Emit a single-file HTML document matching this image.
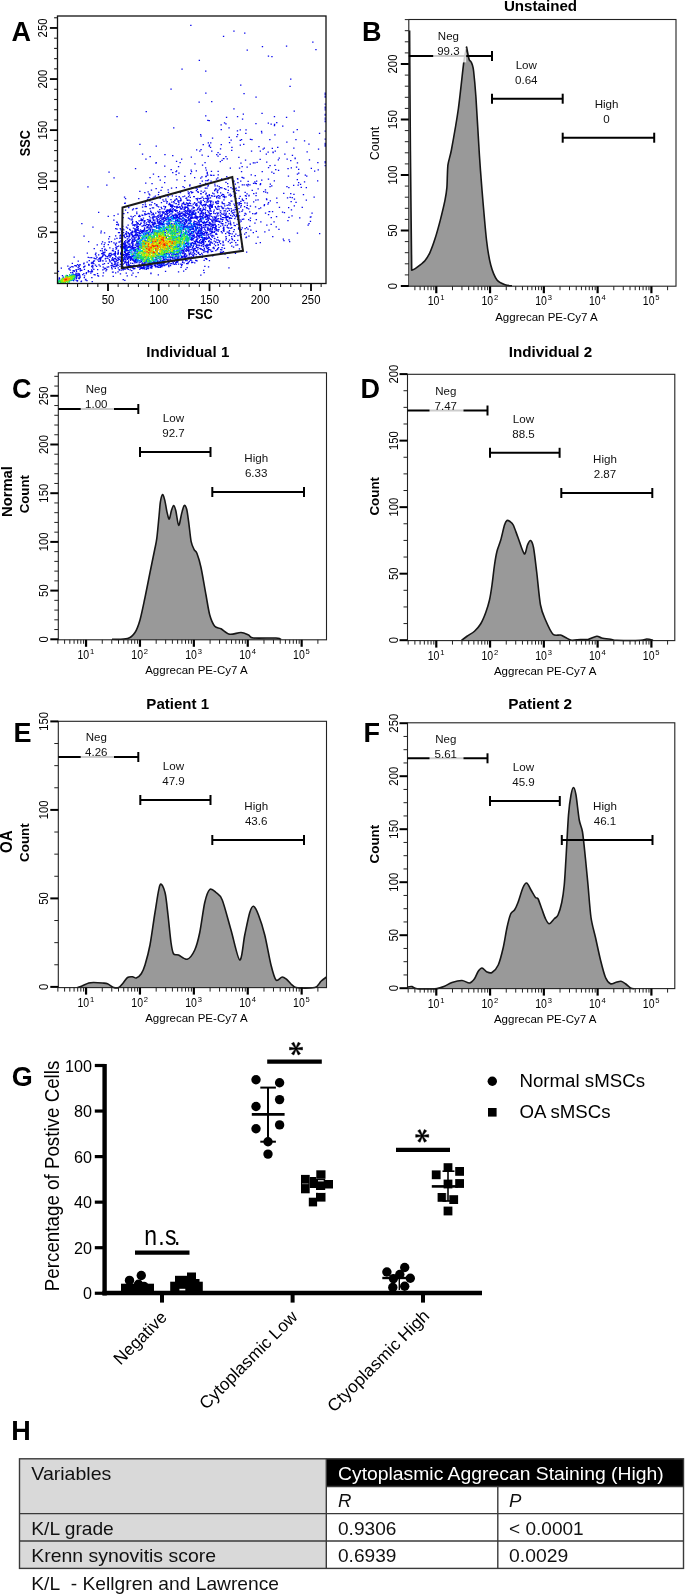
<!DOCTYPE html>
<html><head><meta charset="utf-8"><style>html,body{margin:0;padding:0;background:#fff;}svg{display:block;will-change:transform;}text{font-family:"Liberation Sans",sans-serif;}</style></head><body>
<svg width="685" height="1594" viewBox="0 0 685 1594" font-family="Liberation Sans, sans-serif">
<rect width="685" height="1594" fill="#fff"/>
<path d="M135.2 260.7h.1M127.3 258.5h.1M141.8 254.9h.1M196.0 244.2h.1M169.7 257.3h.1M142.8 240.1h.1M140.3 268.1h.1M172.2 252.3h.1M127.6 247.7h.1M143.2 267.7h.1M153.2 259.0h.1M134.0 248.1h.1M126.7 236.7h.1M183.5 228.5h.1M171.5 228.1h.1M167.0 259.5h.1M125.3 253.1h.1M165.3 259.8h.1M165.3 261.6h.1M129.6 250.4h.1M116.5 260.2h.1M170.4 260.0h.1M122.8 228.9h.1M202.3 249.5h.1M128.8 247.4h.1M137.8 255.2h.1M169.9 256.5h.1M167.4 245.2h.1M193.5 236.3h.1M163.5 221.9h.1M136.1 233.1h.1M119.1 269.6h.1M173.7 250.6h.1M179.9 249.8h.1M131.7 255.4h.1M180.1 219.0h.1M151.4 266.3h.1M148.0 261.5h.1M121.3 248.1h.1M156.6 259.7h.1M175.0 258.8h.1M188.7 248.1h.1M135.3 235.3h.1M132.1 235.6h.1M136.4 246.0h.1M138.2 258.3h.1M135.7 230.9h.1M131.7 270.5h.1M154.1 262.1h.1M195.2 243.0h.1M149.5 242.6h.1M126.6 253.7h.1M182.1 223.7h.1M171.9 261.1h.1M136.7 212.0h.1M179.8 236.1h.1M195.1 248.4h.1M128.1 265.3h.1M143.4 218.0h.1M102.3 250.8h.1M210.0 231.7h.1M153.4 226.2h.1M136.0 244.1h.1M206.2 219.4h.1M135.4 249.6h.1M119.9 238.3h.1M133.7 268.8h.1M124.0 259.6h.1M149.4 264.8h.1M125.7 246.4h.1M130.5 249.2h.1M159.7 264.0h.1M162.3 262.3h.1M157.7 261.4h.1M163.9 264.7h.1M135.1 229.5h.1M178.6 219.2h.1M165.1 261.7h.1M171.9 245.8h.1M132.2 240.0h.1M149.4 254.3h.1M123.7 255.4h.1M192.6 236.0h.1M168.6 215.8h.1M137.6 234.9h.1M148.3 268.5h.1M134.3 239.2h.1M154.7 262.0h.1M139.3 262.0h.1M176.5 227.6h.1M155.6 260.0h.1M149.0 246.7h.1M138.0 257.2h.1M180.8 232.7h.1M128.9 244.3h.1M146.3 269.3h.1M170.6 230.0h.1M153.3 249.1h.1M146.1 247.2h.1M142.0 239.9h.1M158.6 262.8h.1M132.1 243.2h.1M151.7 268.0h.1M172.5 240.5h.1M179.0 256.0h.1M182.8 249.7h.1M163.6 257.3h.1M146.4 231.2h.1M155.1 261.2h.1M192.4 226.7h.1M130.0 265.7h.1M157.6 266.7h.1M205.3 227.0h.1M115.3 268.3h.1M140.6 251.7h.1M123.0 269.9h.1M154.7 230.8h.1M123.5 243.6h.1M144.6 268.0h.1M173.8 240.3h.1M175.4 222.4h.1M156.1 233.8h.1M149.4 255.5h.1M142.0 226.0h.1M193.9 249.2h.1M150.5 221.2h.1M197.1 222.4h.1M157.7 262.5h.1M130.2 239.5h.1M175.0 254.5h.1M144.5 264.5h.1M144.5 265.6h.1M148.2 265.1h.1M125.3 261.7h.1M173.6 225.9h.1M125.8 260.0h.1M125.8 253.3h.1M146.4 222.9h.1M117.8 260.4h.1M172.4 249.2h.1M119.9 266.3h.1M123.9 243.1h.1M138.1 252.9h.1M129.1 240.5h.1M171.8 226.0h.1M155.4 254.7h.1M156.3 225.9h.1M175.8 245.6h.1M141.3 248.3h.1M172.8 253.4h.1M128.8 266.0h.1M162.9 230.0h.1M173.2 260.4h.1M182.7 260.8h.1M183.3 251.4h.1M176.1 264.4h.1M112.5 272.0h.1M138.6 267.1h.1M188.1 248.9h.1M136.4 258.0h.1M172.2 242.9h.1M168.8 259.8h.1M109.3 242.1h.1M156.1 263.5h.1M184.3 246.8h.1M183.6 271.0h.1M158.4 222.0h.1M138.2 247.9h.1M138.3 223.6h.1M119.4 259.3h.1M123.6 254.9h.1M167.4 264.2h.1M170.4 230.6h.1M183.6 235.6h.1M141.0 235.7h.1M118.2 267.9h.1M182.2 250.3h.1M152.8 232.5h.1M133.0 266.3h.1M197.6 238.9h.1M157.5 232.8h.1M104.0 246.6h.1M139.2 249.0h.1M110.1 261.9h.1M153.2 261.0h.1M134.9 266.5h.1M201.6 245.6h.1M191.6 260.8h.1M171.2 252.1h.1M136.9 242.7h.1M145.5 262.1h.1M155.6 250.1h.1M180.4 229.3h.1M156.4 253.2h.1M126.9 248.4h.1M136.0 240.3h.1M147.1 265.4h.1M128.7 246.3h.1M129.0 250.9h.1M166.4 229.5h.1M185.4 213.0h.1M151.4 265.1h.1M189.2 258.4h.1M163.9 259.0h.1M114.5 264.6h.1M203.6 270.4h.1M110.0 253.4h.1M163.8 265.6h.1M210.7 233.6h.1M142.8 253.8h.1M181.6 236.2h.1M129.8 257.2h.1M121.7 241.3h.1M171.4 263.7h.1M127.2 275.8h.1M137.8 239.1h.1M141.1 218.9h.1M146.3 234.1h.1M116.0 249.1h.1M153.5 252.6h.1M171.8 254.6h.1M176.9 246.0h.1M179.5 242.2h.1M176.8 224.4h.1M216.8 230.6h.1M134.7 225.9h.1M125.1 242.4h.1M143.6 268.1h.1M138.6 246.6h.1M167.9 263.6h.1M150.0 231.5h.1M174.7 231.4h.1M179.6 241.0h.1M170.5 265.7h.1M134.3 265.3h.1M126.3 263.9h.1M118.1 254.1h.1M134.8 238.5h.1M125.0 262.2h.1M187.7 228.9h.1M170.0 247.6h.1M111.6 267.5h.1M160.7 242.8h.1M167.1 259.3h.1M149.1 263.3h.1M177.6 253.7h.1M111.4 241.7h.1M183.5 243.2h.1M123.6 235.7h.1M124.6 241.6h.1M169.5 236.8h.1M199.9 243.2h.1M166.3 219.5h.1M158.2 225.5h.1M154.0 235.9h.1M128.2 263.2h.1M207.1 232.4h.1M136.4 260.0h.1M191.2 233.3h.1M132.9 243.3h.1M180.8 264.0h.1M177.8 261.5h.1M147.4 268.4h.1M157.7 266.3h.1M131.9 248.4h.1M138.1 239.2h.1M193.5 243.4h.1M163.5 227.0h.1M163.8 227.0h.1M162.3 265.4h.1M118.0 271.8h.1M139.2 233.5h.1M171.1 257.3h.1M136.7 253.5h.1M183.7 251.3h.1M121.0 244.6h.1M125.2 243.7h.1M183.0 224.7h.1M182.8 257.6h.1M166.1 236.8h.1M132.7 259.3h.1M149.0 262.5h.1M177.3 244.3h.1M143.6 266.0h.1M181.2 227.7h.1M152.3 263.4h.1M194.4 241.4h.1M139.9 236.0h.1M136.1 259.5h.1M137.0 226.7h.1M126.9 248.4h.1M128.2 269.3h.1M210.0 214.0h.1M144.8 257.6h.1M119.8 257.0h.1M177.7 254.2h.1M129.2 251.2h.1M154.2 262.5h.1M136.8 262.6h.1M150.8 267.7h.1M129.7 235.8h.1M138.1 267.2h.1M124.5 258.8h.1M183.9 246.6h.1M123.4 259.1h.1M169.7 248.3h.1M144.9 220.8h.1M137.6 242.3h.1M184.6 255.3h.1M164.5 265.5h.1M128.4 262.0h.1M160.2 257.4h.1M163.2 263.4h.1M164.3 251.3h.1M126.9 250.3h.1M152.8 263.4h.1M150.6 265.4h.1M152.7 262.6h.1M132.1 247.1h.1M192.6 239.3h.1M126.8 245.0h.1M191.3 243.0h.1M183.9 251.3h.1M164.0 224.5h.1M134.0 268.5h.1M126.9 262.3h.1M137.6 251.7h.1M143.1 242.2h.1M153.2 230.9h.1M199.0 245.2h.1M129.3 252.5h.1M160.6 247.9h.1M140.9 266.7h.1M186.7 256.9h.1M166.6 211.1h.1M178.3 246.3h.1M186.5 243.4h.1M129.1 257.3h.1M123.2 257.5h.1M158.7 258.3h.1M124.5 256.7h.1M157.4 255.9h.1M142.3 265.2h.1M192.3 248.1h.1M150.5 263.9h.1M133.8 256.3h.1M127.4 268.2h.1M130.0 245.4h.1M117.9 262.5h.1M134.9 259.7h.1M139.8 269.3h.1M190.5 233.3h.1M178.5 264.1h.1M183.3 224.5h.1M176.8 256.1h.1M129.5 234.7h.1M132.8 231.9h.1M203.7 231.5h.1M151.6 267.7h.1M170.9 260.6h.1M123.8 246.7h.1M159.8 228.3h.1M165.9 256.7h.1M167.9 263.4h.1M186.0 256.3h.1M132.2 256.8h.1M172.4 215.9h.1M168.0 260.6h.1M124.4 246.3h.1M163.5 260.7h.1M194.2 235.6h.1M161.4 262.1h.1M144.1 236.2h.1M132.9 256.3h.1M152.5 262.9h.1M103.4 252.4h.1M189.8 235.7h.1M148.6 225.5h.1M186.4 219.8h.1M134.9 253.8h.1M166.5 245.7h.1M134.7 268.5h.1M120.9 247.1h.1M127.0 242.7h.1M208.9 237.3h.1M150.1 267.8h.1M199.8 248.3h.1M148.1 236.6h.1M102.1 248.7h.1M192.8 262.4h.1M134.4 231.1h.1M139.3 231.0h.1M148.4 236.9h.1M157.9 235.8h.1M125.2 244.7h.1M183.6 226.2h.1M100.7 258.9h.1M140.2 257.1h.1M161.2 265.0h.1M114.1 258.7h.1M210.1 229.7h.1M145.9 238.1h.1M167.4 224.2h.1M159.5 235.2h.1M181.1 255.7h.1M124.4 263.0h.1M189.7 249.9h.1M150.0 234.8h.1M150.3 234.5h.1M137.1 257.4h.1M185.8 269.3h.1M167.2 229.2h.1M178.9 253.0h.1M131.4 258.7h.1M182.6 257.2h.1M121.7 253.8h.1M142.5 263.6h.1M181.7 233.0h.1M182.0 227.7h.1M193.5 232.8h.1M163.8 264.1h.1M144.3 238.7h.1M146.5 230.8h.1M137.7 244.9h.1M132.5 263.3h.1M196.4 229.9h.1M109.8 260.8h.1M158.3 267.3h.1M141.9 246.8h.1M131.1 258.7h.1M109.3 259.7h.1M137.9 249.4h.1M131.8 275.1h.1M142.0 232.4h.1M129.6 266.2h.1M184.5 254.3h.1M158.7 265.1h.1M134.3 261.5h.1M141.7 258.9h.1M130.9 257.5h.1M142.2 262.8h.1M156.9 261.3h.1M208.4 249.6h.1M177.0 232.6h.1M136.4 262.1h.1M128.0 253.4h.1M141.0 240.2h.1M115.9 247.3h.1M168.3 240.3h.1M151.1 256.1h.1M94.0 258.2h.1M154.9 222.1h.1M133.3 266.9h.1M197.7 231.9h.1M184.8 254.1h.1M188.0 249.8h.1M173.3 215.3h.1M157.8 219.7h.1M115.0 266.7h.1M132.7 263.3h.1M168.9 259.0h.1M168.2 235.5h.1M176.3 256.2h.1M162.0 224.8h.1M145.0 267.2h.1M184.5 222.7h.1M131.6 242.8h.1M158.4 263.7h.1M139.1 237.7h.1M177.3 247.5h.1M123.9 248.0h.1M161.2 222.8h.1M181.5 251.8h.1M151.4 256.9h.1M115.3 244.1h.1M107.5 256.5h.1M131.9 252.2h.1M171.6 231.0h.1M166.1 240.3h.1M205.6 232.3h.1M137.6 266.6h.1M121.1 240.5h.1M159.5 233.4h.1M131.6 246.5h.1M172.1 261.6h.1M207.9 251.7h.1M144.3 257.0h.1M164.3 262.6h.1M165.4 235.6h.1M127.8 258.0h.1M188.1 230.8h.1M122.1 250.8h.1M182.5 207.7h.1M142.6 268.6h.1M190.9 259.2h.1M130.2 256.5h.1M151.8 266.5h.1M123.5 255.0h.1M125.8 255.5h.1M155.6 250.5h.1M119.5 232.5h.1M177.7 237.6h.1M170.2 248.5h.1M200.2 225.6h.1M111.8 260.3h.1M162.5 256.2h.1M201.5 221.7h.1M135.7 259.4h.1M145.5 234.1h.1M105.9 270.9h.1M197.3 241.6h.1M188.2 243.5h.1M175.5 263.0h.1M131.8 243.2h.1M120.8 260.1h.1M190.2 230.5h.1M203.6 241.8h.1M132.8 265.8h.1M118.2 258.5h.1M127.1 236.4h.1M148.9 228.1h.1M108.2 263.3h.1M210.3 245.0h.1M147.8 240.3h.1M203.7 252.1h.1M208.3 220.3h.1M152.9 230.9h.1M146.8 227.8h.1M116.9 238.3h.1M134.9 262.9h.1M100.2 266.2h.1M139.6 266.8h.1M104.1 254.6h.1M136.7 241.4h.1M86.4 272.5h.1M145.7 265.1h.1M160.9 256.4h.1M155.3 257.6h.1M186.0 217.2h.1M133.2 255.4h.1M133.8 235.8h.1M124.5 256.7h.1M161.9 244.2h.1M122.1 265.6h.1M138.5 252.0h.1M188.1 246.1h.1M132.4 222.6h.1M185.3 229.4h.1M170.1 263.8h.1M184.8 256.0h.1M199.9 225.5h.1M138.1 272.5h.1M155.4 233.4h.1M193.6 256.8h.1M160.2 252.2h.1M131.1 265.6h.1M98.8 261.3h.1M176.0 256.8h.1M104.2 244.7h.1M129.3 254.7h.1M138.7 252.5h.1M191.1 244.3h.1M130.1 252.7h.1M221.7 249.8h.1M120.7 246.3h.1M164.3 245.2h.1M149.9 237.1h.1M144.0 263.2h.1M164.9 256.1h.1M140.6 242.0h.1M138.9 265.3h.1M151.5 226.5h.1M154.8 232.3h.1M128.9 247.0h.1M132.1 234.7h.1M123.3 264.1h.1M159.5 265.4h.1M109.8 247.9h.1M124.8 257.5h.1M147.2 240.9h.1M186.1 245.9h.1M178.9 220.8h.1M178.9 218.8h.1M171.0 248.0h.1M164.6 230.3h.1M146.9 266.6h.1M138.3 244.8h.1M191.7 262.7h.1M149.1 235.3h.1M133.7 250.6h.1M132.6 232.6h.1M144.2 264.1h.1M137.7 267.1h.1M179.3 232.6h.1M105.0 249.2h.1M112.0 266.1h.1M192.5 242.7h.1M163.5 254.6h.1M189.9 243.3h.1M185.8 230.4h.1M186.6 246.3h.1M146.2 238.0h.1M170.5 251.9h.1M132.9 239.1h.1M145.8 233.2h.1M181.4 237.3h.1M156.6 228.0h.1M112.9 265.2h.1M174.1 254.0h.1M160.5 222.9h.1M123.9 247.4h.1M124.0 235.9h.1M132.2 241.4h.1M191.3 245.5h.1M128.3 233.4h.1M144.9 261.7h.1M167.1 215.0h.1M145.7 256.5h.1M190.1 247.1h.1M164.6 259.9h.1M148.0 259.1h.1M159.3 262.1h.1M201.1 237.3h.1M134.3 249.6h.1M164.9 253.1h.1M131.4 234.4h.1M178.5 217.6h.1M167.8 257.4h.1M113.6 266.7h.1M201.6 226.1h.1M214.2 241.1h.1M137.6 227.4h.1M172.5 250.2h.1M136.0 234.2h.1M137.3 246.4h.1M118.6 246.1h.1M176.7 262.4h.1M192.6 242.8h.1M163.7 259.0h.1M159.7 267.1h.1M188.1 262.7h.1M118.3 253.1h.1M128.8 256.1h.1M209.8 229.1h.1M157.7 242.0h.1M152.5 263.9h.1M162.3 256.1h.1M212.1 225.4h.1M117.8 260.5h.1M133.9 266.4h.1M137.0 235.2h.1M143.4 249.1h.1M129.6 252.5h.1M132.5 247.5h.1M128.6 260.9h.1M138.0 249.9h.1M186.4 221.0h.1M200.1 256.7h.1M163.6 260.4h.1M172.5 257.6h.1M134.8 255.8h.1M162.7 255.1h.1M177.5 258.3h.1M121.2 270.2h.1M128.2 240.7h.1M178.7 237.5h.1M130.2 258.0h.1M204.3 248.3h.1M175.3 259.7h.1M134.7 252.0h.1M130.1 257.9h.1M198.1 247.3h.1M160.6 220.6h.1M160.4 261.0h.1M182.2 252.9h.1M145.1 231.0h.1M147.8 227.0h.1M157.3 261.8h.1M169.0 256.9h.1M172.5 233.7h.1M115.2 254.6h.1M143.5 266.6h.1M128.6 256.9h.1M169.4 254.3h.1M188.6 223.4h.1M150.5 230.4h.1M174.6 247.2h.1M173.0 258.7h.1M148.2 267.2h.1M149.6 243.8h.1M187.1 241.6h.1M142.6 268.1h.1M173.3 248.5h.1M168.7 265.4h.1M185.2 243.6h.1M102.9 264.4h.1M162.8 262.2h.1M198.7 232.1h.1M135.3 261.5h.1M113.9 242.8h.1M135.6 249.9h.1M137.4 241.8h.1M126.8 245.7h.1M155.0 226.7h.1M141.2 230.9h.1M144.3 268.3h.1M159.8 226.7h.1M206.4 233.6h.1M138.7 255.3h.1M174.5 252.1h.1M200.4 248.6h.1M157.5 254.0h.1M157.0 266.7h.1M165.6 255.0h.1M195.8 227.5h.1M133.4 228.0h.1M137.5 235.0h.1M134.2 249.8h.1M135.8 235.5h.1M172.2 234.4h.1M157.4 264.6h.1M122.5 245.8h.1M133.8 265.4h.1M143.2 251.5h.1M158.3 231.0h.1M179.2 242.1h.1M197.9 249.2h.1M142.0 263.8h.1M141.5 268.3h.1M129.4 239.8h.1M128.0 252.7h.1M124.9 254.6h.1M164.2 259.7h.1M136.9 243.3h.1M174.8 236.7h.1M140.5 265.5h.1M99.9 258.9h.1M116.4 265.8h.1M129.9 246.7h.1M133.4 255.7h.1M158.4 239.2h.1M144.9 214.8h.1M235.9 198.7h.1M183.7 235.5h.1M221.3 231.5h.1M192.9 252.9h.1M186.5 249.6h.1M206.3 216.7h.1M237.0 224.4h.1M188.4 228.4h.1M188.3 232.3h.1M215.9 225.9h.1M182.1 264.4h.1M214.9 222.1h.1M128.6 241.0h.1M121.6 231.6h.1M203.8 198.6h.1M151.4 232.5h.1M169.0 230.7h.1M146.5 260.4h.1M207.9 218.7h.1M177.4 216.6h.1M186.6 263.5h.1M220.9 252.0h.1M186.5 236.4h.1M149.6 204.9h.1M194.5 224.4h.1M204.3 233.7h.1M211.0 206.3h.1M201.2 227.2h.1M142.9 220.7h.1M207.5 197.0h.1M160.2 263.9h.1M196.3 239.5h.1M115.7 228.5h.1M150.8 234.1h.1M180.5 198.1h.1M129.2 236.3h.1M170.0 210.4h.1M203.5 218.1h.1M122.1 239.6h.1M122.0 248.4h.1M154.1 216.2h.1M154.5 235.3h.1M201.0 248.8h.1M191.8 209.0h.1M210.9 241.8h.1M191.4 217.6h.1M152.4 207.9h.1M234.4 240.6h.1M159.9 211.7h.1M135.2 257.1h.1M209.2 194.5h.1M179.9 213.1h.1M191.8 238.0h.1M197.3 189.0h.1M135.0 240.1h.1M175.6 228.3h.1M217.5 213.8h.1M180.4 258.8h.1M180.1 241.4h.1M216.8 221.3h.1M183.6 202.3h.1M211.8 206.5h.1M168.7 221.3h.1M229.4 230.6h.1M200.0 221.3h.1M219.0 221.4h.1M154.2 223.4h.1M184.0 209.3h.1M210.7 203.0h.1M206.5 214.6h.1M210.8 235.0h.1M182.9 203.4h.1M191.8 214.2h.1M163.3 226.6h.1M211.2 216.3h.1M173.0 252.5h.1M179.4 216.5h.1M188.5 208.9h.1M251.2 174.9h.1M146.2 265.2h.1M192.2 229.0h.1M191.1 233.0h.1M204.1 272.7h.1M130.7 267.6h.1M129.4 257.6h.1M212.4 243.2h.1M161.9 266.7h.1M197.8 235.3h.1M188.2 217.5h.1M206.1 204.0h.1M182.8 250.2h.1M208.7 224.3h.1M220.5 187.6h.1M168.9 204.7h.1M172.1 253.1h.1M250.8 230.0h.1M210.5 204.6h.1M192.1 238.0h.1M195.4 232.8h.1M134.5 268.5h.1M179.8 206.5h.1M139.6 266.9h.1M109.0 241.8h.1M208.3 185.1h.1M215.8 202.7h.1M222.8 245.1h.1M149.1 236.7h.1M204.4 209.4h.1M223.7 217.5h.1M197.3 199.6h.1M208.0 227.0h.1M171.1 220.1h.1M113.5 260.5h.1M149.0 193.9h.1M196.6 205.8h.1M172.8 258.6h.1M189.7 211.2h.1M220.9 216.4h.1M199.5 233.8h.1M183.1 217.9h.1M161.4 202.5h.1M111.6 263.1h.1M199.7 219.5h.1M205.6 210.1h.1M132.5 240.0h.1M190.0 229.3h.1M154.8 220.2h.1M191.6 233.6h.1M163.6 229.2h.1M200.7 224.6h.1M148.2 197.7h.1M199.8 219.6h.1M117.2 257.9h.1M175.5 259.9h.1M142.2 231.3h.1M166.3 238.1h.1M162.6 263.3h.1M175.9 218.3h.1M168.4 192.3h.1M208.3 224.7h.1M207.4 228.2h.1M200.6 249.2h.1M191.9 187.9h.1M178.3 214.7h.1M215.0 217.6h.1M193.2 228.6h.1M170.3 219.7h.1M238.8 208.6h.1M114.4 255.0h.1M222.5 194.4h.1M225.9 216.4h.1M148.1 221.6h.1M123.5 232.5h.1M169.6 203.5h.1M163.4 222.3h.1M193.5 250.9h.1M242.5 200.0h.1M196.9 223.6h.1M227.1 205.4h.1M203.2 250.4h.1M157.7 223.1h.1M190.5 218.6h.1M166.7 223.8h.1M127.2 241.9h.1M150.6 229.1h.1M158.3 217.4h.1M123.3 213.6h.1M209.4 218.8h.1M231.5 218.3h.1M217.5 192.7h.1M161.9 258.9h.1M162.0 225.1h.1M120.0 241.9h.1M199.3 245.2h.1M179.5 216.3h.1M170.9 213.9h.1M204.8 205.8h.1M226.3 238.5h.1M206.9 216.9h.1M206.2 245.1h.1M188.5 220.5h.1M206.8 215.4h.1M202.9 213.8h.1M266.5 198.9h.1M200.9 243.2h.1M248.0 229.1h.1M189.1 211.7h.1M207.5 216.3h.1M200.4 214.2h.1M149.0 220.4h.1M167.7 216.8h.1M155.4 196.2h.1M191.6 254.0h.1M181.2 259.5h.1M136.9 208.4h.1M234.2 229.5h.1M210.5 228.2h.1M153.3 249.1h.1M202.1 242.4h.1M198.7 231.0h.1M190.0 253.4h.1M175.5 222.4h.1M175.3 256.4h.1M147.4 230.4h.1M220.5 212.5h.1M216.7 239.9h.1M144.5 229.6h.1M149.2 220.1h.1M158.3 262.2h.1M153.3 213.5h.1M153.3 213.4h.1M198.9 225.2h.1M227.4 211.4h.1M257.9 237.0h.1M162.7 256.6h.1M141.3 261.4h.1M176.3 259.7h.1M197.5 227.5h.1M148.4 213.4h.1M178.0 235.0h.1M191.9 214.8h.1M133.3 260.1h.1M134.3 224.9h.1M196.4 190.6h.1M124.9 249.7h.1M124.6 250.7h.1M138.4 237.1h.1M200.8 216.9h.1M216.6 229.5h.1M205.8 198.3h.1M234.7 205.5h.1M203.7 244.0h.1M151.3 226.0h.1M190.4 226.6h.1M128.7 264.3h.1M126.0 262.1h.1M205.1 251.6h.1M214.1 248.6h.1M189.3 214.0h.1M212.2 229.7h.1M228.9 233.3h.1M117.6 254.0h.1M199.6 209.8h.1M136.8 261.9h.1M188.8 250.7h.1M215.0 189.8h.1M215.6 188.8h.1M142.4 238.6h.1M163.4 223.5h.1M183.1 220.7h.1M181.0 222.1h.1M184.2 256.0h.1M213.7 247.4h.1M180.1 207.7h.1M234.4 194.8h.1M173.5 217.3h.1M126.2 233.2h.1M121.4 257.8h.1M163.5 218.6h.1M200.8 233.9h.1M218.5 213.1h.1M118.5 232.6h.1M242.3 219.4h.1M148.9 264.1h.1M170.6 206.4h.1M193.2 229.5h.1M176.9 240.9h.1M235.1 192.9h.1M200.2 208.5h.1M149.4 228.2h.1M136.1 230.1h.1M93.8 269.4h.1M200.2 203.5h.1M205.6 183.4h.1M136.9 224.7h.1M142.1 239.5h.1M218.5 224.5h.1M196.6 217.4h.1M215.5 245.5h.1M206.2 232.3h.1M208.4 215.0h.1M213.0 218.9h.1M205.7 227.0h.1M179.4 224.7h.1M256.3 231.4h.1M169.3 223.4h.1M206.1 215.2h.1M215.7 227.9h.1M139.2 232.7h.1M123.2 247.6h.1M202.0 237.1h.1M146.6 261.8h.1M144.5 221.5h.1M160.7 265.5h.1M178.0 250.0h.1M223.0 241.3h.1M219.8 198.1h.1M198.6 242.7h.1M194.0 249.6h.1M138.3 236.0h.1M148.7 256.1h.1M215.6 241.8h.1M199.5 222.8h.1M210.0 205.9h.1M139.3 238.5h.1M241.8 246.9h.1M140.8 220.3h.1M184.5 219.0h.1M188.5 238.7h.1M139.7 216.5h.1M167.2 201.5h.1M208.7 201.0h.1M158.7 192.4h.1M136.3 251.8h.1M223.4 251.6h.1M122.1 251.8h.1M212.5 222.2h.1M111.1 265.6h.1M178.5 207.4h.1M177.1 250.7h.1M146.3 237.1h.1M205.6 207.9h.1M204.1 260.4h.1M189.7 214.9h.1M189.5 202.8h.1M230.3 223.7h.1M178.5 220.8h.1M164.2 218.1h.1M241.2 203.6h.1M188.4 246.8h.1M136.7 242.6h.1M125.1 257.7h.1M198.0 242.6h.1M204.9 217.3h.1M205.3 188.1h.1M210.4 211.2h.1M174.3 215.1h.1M207.8 205.5h.1M182.6 248.4h.1M195.7 215.1h.1M223.7 228.0h.1M127.1 268.7h.1M142.4 231.0h.1M255.5 206.9h.1M121.0 252.3h.1M209.5 207.4h.1M123.6 268.4h.1M166.4 253.6h.1M193.6 222.8h.1M154.1 197.0h.1M222.0 247.5h.1M207.9 186.2h.1M207.5 245.4h.1M216.8 219.9h.1M190.4 227.7h.1M208.7 247.7h.1M185.3 215.2h.1M194.0 231.4h.1M156.1 188.5h.1M203.8 204.7h.1M164.3 262.9h.1M211.7 207.4h.1M203.0 227.4h.1M165.1 257.1h.1M142.9 204.6h.1M176.0 214.4h.1M162.2 262.6h.1M217.5 214.2h.1M240.2 203.4h.1M153.8 217.0h.1M177.1 206.4h.1M174.4 215.0h.1M193.9 210.8h.1M147.3 257.6h.1M210.0 231.7h.1M174.9 225.9h.1M136.8 213.7h.1M125.5 249.3h.1M196.1 246.3h.1M147.8 234.9h.1M185.7 231.2h.1M187.2 247.5h.1M171.5 225.2h.1M114.8 239.2h.1M219.6 222.0h.1M218.0 215.8h.1M136.9 229.7h.1M234.0 204.2h.1M187.0 260.5h.1M182.1 206.7h.1M186.5 202.8h.1M174.4 247.1h.1M224.4 196.8h.1M166.4 264.7h.1M181.2 209.0h.1M195.9 216.1h.1M241.2 221.2h.1M162.6 260.7h.1M229.2 235.4h.1M198.5 252.4h.1M175.7 221.9h.1M132.9 258.9h.1M123.8 244.7h.1M120.2 228.5h.1M186.0 248.6h.1M142.5 226.0h.1M169.2 220.7h.1M168.6 230.0h.1M176.4 223.7h.1M222.9 219.6h.1M216.5 216.1h.1M194.3 214.0h.1M146.7 268.6h.1M197.1 216.7h.1M127.3 239.0h.1M186.5 220.3h.1M204.5 250.1h.1M204.1 227.0h.1M208.6 211.8h.1M220.8 218.3h.1M159.9 223.9h.1M160.4 216.3h.1M199.2 236.7h.1M192.7 257.7h.1M137.4 235.7h.1M210.6 250.1h.1M128.4 218.2h.1M223.3 228.5h.1M190.1 257.2h.1M207.2 195.6h.1M190.8 210.7h.1M203.1 222.5h.1M182.1 212.1h.1M205.9 219.2h.1M131.4 250.6h.1M192.1 228.1h.1M194.9 230.5h.1M183.3 213.8h.1M176.0 171.7h.1M171.9 207.4h.1M215.8 228.4h.1M146.5 265.6h.1M207.8 219.1h.1M199.3 227.3h.1M165.0 220.5h.1M126.4 227.2h.1M198.8 256.9h.1M198.2 202.1h.1M194.6 237.1h.1M178.0 201.2h.1M203.8 240.3h.1M91.6 269.8h.1M150.5 262.1h.1M236.6 216.1h.1M149.9 200.9h.1M183.5 244.8h.1M198.2 220.5h.1M133.0 259.1h.1M207.2 215.4h.1M122.1 233.5h.1M147.5 259.9h.1M126.4 231.5h.1M173.3 208.5h.1M198.0 217.0h.1M211.4 205.2h.1M180.9 258.8h.1M153.1 219.1h.1M176.6 256.5h.1M187.3 210.9h.1M216.4 221.0h.1M142.7 251.7h.1M186.8 211.8h.1M124.2 247.1h.1M225.8 240.2h.1M195.0 257.5h.1M171.4 216.7h.1M255.8 200.1h.1M160.0 229.4h.1M125.2 203.2h.1M214.4 238.3h.1M119.9 235.8h.1M193.9 248.6h.1M194.1 222.2h.1M216.3 226.2h.1M116.1 261.7h.1M228.8 232.2h.1M172.1 217.7h.1M122.9 266.3h.1M180.1 221.4h.1M172.7 210.9h.1M151.5 212.7h.1M164.1 212.6h.1M88.6 241.6h.1M174.0 253.8h.1M119.5 241.9h.1M108.2 216.3h.1M146.3 206.5h.1M202.0 218.3h.1M128.0 243.1h.1M185.4 227.1h.1M200.8 233.1h.1M209.5 195.7h.1M215.9 218.2h.1M123.2 279.5h.1M159.0 262.7h.1M193.1 246.7h.1M161.8 246.8h.1M184.2 207.0h.1M147.5 199.3h.1M151.4 190.2h.1M187.5 217.8h.1M127.6 236.4h.1M247.2 203.0h.1M176.6 220.9h.1M116.4 243.1h.1M226.0 208.9h.1M176.3 217.6h.1M189.2 261.6h.1M203.6 225.3h.1M236.5 207.2h.1M175.7 211.4h.1M223.4 158.7h.1M201.9 228.7h.1M133.0 241.9h.1M225.3 210.8h.1M210.6 219.3h.1M159.9 196.5h.1M193.7 254.8h.1M180.3 252.2h.1M115.7 245.1h.1M131.1 259.4h.1M205.1 213.7h.1M223.9 229.4h.1M199.7 224.5h.1M236.0 245.0h.1M177.3 220.3h.1M178.1 200.5h.1M132.6 236.9h.1M231.1 201.2h.1M231.4 211.6h.1M130.4 247.3h.1M93.7 263.7h.1M160.7 223.4h.1M213.8 175.3h.1M148.5 233.2h.1M205.1 224.1h.1M197.4 200.0h.1M197.3 189.4h.1M147.4 219.6h.1M133.8 237.2h.1M126.5 234.9h.1M154.3 265.6h.1M149.9 229.9h.1M228.9 202.7h.1M200.4 213.3h.1M171.3 217.1h.1M199.1 241.8h.1M224.4 248.4h.1M196.2 260.6h.1M207.3 221.1h.1M159.9 224.0h.1M194.7 214.4h.1M143.9 255.9h.1M190.2 260.4h.1M210.0 243.6h.1M125.7 250.5h.1M125.6 255.9h.1M235.6 216.8h.1M200.8 198.3h.1M132.6 221.5h.1M113.1 272.1h.1M239.8 222.0h.1M187.9 210.4h.1M202.4 222.7h.1M190.9 191.6h.1M200.4 218.6h.1M150.6 234.5h.1M147.3 224.7h.1M123.1 217.6h.1M158.4 194.5h.1M140.6 231.6h.1M121.0 229.9h.1M159.3 222.3h.1M223.1 214.3h.1M193.4 224.3h.1M132.5 235.4h.1M212.2 228.7h.1M157.7 216.0h.1M222.4 219.5h.1M195.6 218.0h.1M187.5 242.8h.1M205.4 214.0h.1M185.8 204.7h.1M154.7 264.0h.1M217.0 249.5h.1M170.2 224.9h.1M205.6 184.3h.1M183.7 250.4h.1M118.0 265.3h.1M107.8 258.3h.1M204.6 201.5h.1M201.4 243.5h.1M158.9 223.7h.1M186.8 213.6h.1M184.8 180.7h.1M221.9 207.1h.1M169.9 209.5h.1M191.9 257.4h.1M210.0 215.2h.1M204.2 250.0h.1M225.8 222.5h.1M198.1 225.2h.1M201.1 191.0h.1M223.5 194.5h.1M147.8 213.9h.1M159.1 224.6h.1M142.7 236.5h.1M183.4 203.6h.1M194.3 221.2h.1M92.0 262.3h.1M172.1 255.9h.1M157.7 234.3h.1M168.4 225.6h.1M175.8 218.7h.1M170.9 208.9h.1M168.9 210.0h.1M200.6 208.5h.1M163.1 236.2h.1M210.4 238.8h.1M153.8 237.6h.1M113.8 220.0h.1M146.8 232.8h.1M138.2 230.3h.1M150.2 227.2h.1M113.2 276.3h.1M171.5 188.2h.1M187.7 228.6h.1M185.7 210.5h.1M198.6 253.4h.1M164.1 220.7h.1M173.9 229.3h.1M202.2 237.9h.1M182.3 250.5h.1M195.0 242.2h.1M176.3 216.2h.1M167.9 213.4h.1M205.2 204.4h.1M225.9 236.7h.1M213.0 247.8h.1M185.1 216.0h.1M244.5 206.6h.1M157.4 220.5h.1M140.5 229.8h.1M92.9 227.1h.1M172.1 207.3h.1M144.7 220.5h.1M237.7 179.2h.1M189.4 195.1h.1M135.1 256.3h.1M201.4 241.7h.1M143.6 225.3h.1M143.9 225.5h.1M205.4 238.2h.1M211.7 232.9h.1M181.5 225.7h.1M191.5 245.5h.1M179.6 211.3h.1M160.9 216.8h.1M159.5 221.8h.1M243.6 219.2h.1M248.6 219.5h.1M221.1 223.1h.1M181.2 213.1h.1M147.3 261.9h.1M190.0 215.9h.1M201.8 230.4h.1M230.6 196.0h.1M227.2 232.0h.1M218.9 221.5h.1M144.7 223.8h.1M137.6 248.2h.1M212.7 231.4h.1M185.1 215.9h.1M199.1 237.9h.1M137.2 222.6h.1M206.7 222.5h.1M160.2 267.4h.1M180.3 218.9h.1M125.2 237.5h.1M237.9 235.5h.1M198.8 207.6h.1M148.7 224.7h.1M196.0 241.7h.1M162.0 263.7h.1M146.4 261.1h.1M173.3 253.8h.1M194.3 243.6h.1M188.8 205.7h.1M206.6 215.4h.1M240.1 196.3h.1M233.7 222.9h.1M191.3 240.1h.1M181.4 231.9h.1M163.9 201.4h.1M196.6 234.2h.1M125.5 210.1h.1M135.5 234.2h.1M131.5 233.9h.1M142.3 259.5h.1M208.8 238.1h.1M180.3 235.1h.1M183.2 253.1h.1M184.3 223.9h.1M169.2 224.8h.1M178.6 223.3h.1M234.7 212.0h.1M148.9 232.7h.1M212.7 232.4h.1M164.0 231.9h.1M168.0 217.4h.1M215.7 242.1h.1M200.7 193.5h.1M190.2 253.8h.1M183.7 227.1h.1M215.0 221.8h.1M227.6 183.5h.1M215.3 224.9h.1M165.8 199.2h.1M105.7 268.7h.1M175.1 199.8h.1M148.3 234.2h.1M260.6 207.9h.1M234.8 218.5h.1M128.5 241.6h.1M200.7 186.5h.1M145.2 242.3h.1M200.8 256.5h.1M196.2 198.6h.1M173.3 243.5h.1M175.2 214.2h.1M206.8 221.5h.1M206.4 232.5h.1M186.5 231.5h.1M148.0 249.8h.1M174.9 206.9h.1M177.5 215.4h.1M108.6 238.9h.1M196.6 218.3h.1M144.5 227.9h.1M203.1 239.0h.1M181.5 219.2h.1M199.3 235.5h.1M204.9 209.5h.1M196.2 254.5h.1M137.1 230.1h.1M138.0 223.6h.1M132.0 267.2h.1M182.6 242.9h.1M211.2 211.2h.1M154.2 217.0h.1M186.0 198.3h.1M216.7 196.8h.1M180.4 241.6h.1M206.7 215.7h.1M134.4 241.4h.1M192.9 240.0h.1M211.0 223.8h.1M227.9 217.3h.1M145.6 247.6h.1M152.3 231.7h.1M140.4 262.0h.1M215.2 227.4h.1M214.9 217.1h.1M196.8 240.3h.1M172.8 215.9h.1M161.2 251.7h.1M214.2 210.2h.1M209.7 225.6h.1M180.1 214.4h.1M191.3 223.7h.1M244.6 234.2h.1M270.0 186.6h.1M197.4 224.8h.1M185.6 245.9h.1M129.3 235.1h.1M175.6 193.0h.1M97.2 244.9h.1M198.3 253.1h.1M183.9 211.6h.1M201.7 253.4h.1M117.1 222.4h.1M177.3 219.6h.1M136.8 262.2h.1M196.9 247.7h.1M187.4 213.9h.1M177.4 230.3h.1M144.6 268.8h.1M222.2 203.2h.1M147.7 219.5h.1M142.7 215.3h.1M195.4 216.9h.1M179.0 214.3h.1M176.4 198.6h.1M203.4 207.8h.1M181.9 204.0h.1M189.6 212.7h.1M277.0 202.5h.1M127.0 250.9h.1M168.9 219.4h.1M234.3 235.9h.1M207.8 229.1h.1M189.2 246.0h.1M174.7 242.3h.1M138.6 216.4h.1M101.7 253.5h.1M179.4 259.4h.1M198.8 224.4h.1M210.2 230.2h.1M174.1 237.1h.1M120.3 264.3h.1M194.6 253.6h.1M121.8 254.9h.1M146.0 261.0h.1M193.3 235.0h.1M177.6 262.0h.1M195.2 237.0h.1M221.8 187.8h.1M125.9 234.1h.1M149.4 216.3h.1M218.0 190.2h.1M236.1 203.2h.1M152.5 229.6h.1M202.4 233.8h.1M200.9 219.4h.1M198.1 252.9h.1M156.2 262.9h.1M196.8 237.6h.1M195.4 213.4h.1M207.6 245.9h.1M203.9 239.9h.1M216.7 197.8h.1M118.0 224.0h.1M215.7 207.6h.1M179.9 215.6h.1M260.5 184.0h.1M184.9 220.0h.1M178.8 231.7h.1M151.6 222.3h.1M226.8 216.5h.1M206.4 202.1h.1M242.3 199.2h.1M200.6 239.5h.1M112.1 268.8h.1M209.7 223.3h.1M157.9 211.3h.1M176.7 256.1h.1M179.2 196.9h.1M229.3 210.3h.1M168.8 226.2h.1M163.5 219.1h.1M162.1 214.6h.1M166.6 219.8h.1M174.7 200.6h.1M134.8 237.8h.1M205.0 216.4h.1M266.7 199.6h.1M167.5 223.9h.1M122.7 255.7h.1M239.4 248.8h.1M175.4 215.9h.1M115.6 256.1h.1M154.6 222.2h.1M233.5 231.6h.1M160.6 224.3h.1M81.8 223.7h.1M178.0 257.7h.1M181.0 236.0h.1M121.4 236.2h.1M228.0 227.8h.1M210.0 222.8h.1M170.2 209.4h.1M210.2 208.2h.1M188.5 219.1h.1M150.4 229.1h.1M147.2 226.5h.1M181.0 267.3h.1M201.5 224.7h.1M137.8 226.5h.1M179.4 251.8h.1M154.7 223.0h.1M158.0 253.3h.1M214.3 232.3h.1M201.2 202.4h.1M152.0 202.3h.1M120.1 237.9h.1M191.9 212.9h.1M172.3 260.3h.1M219.0 227.3h.1M216.9 212.8h.1M166.7 259.3h.1M124.5 269.2h.1M199.1 224.5h.1M227.7 208.1h.1M212.5 220.9h.1M180.9 199.3h.1M115.6 235.9h.1M250.4 218.0h.1M235.7 193.3h.1M207.7 205.9h.1M152.8 214.2h.1M191.0 191.7h.1M203.2 192.4h.1M198.2 192.4h.1M259.0 208.7h.1M197.6 209.7h.1M185.5 210.5h.1M204.3 248.7h.1M245.1 192.4h.1M206.8 251.5h.1M205.8 226.9h.1M183.8 215.1h.1M156.7 225.5h.1M186.9 207.2h.1M125.2 248.1h.1M193.3 246.3h.1M211.1 226.4h.1M200.7 210.0h.1M171.1 210.5h.1M132.5 244.7h.1M132.2 231.2h.1M133.2 259.4h.1M143.0 211.1h.1M150.9 199.0h.1M189.9 236.9h.1M231.6 236.5h.1M133.8 260.9h.1M220.6 226.1h.1M202.6 197.1h.1M186.7 197.8h.1M142.5 207.2h.1M170.7 217.2h.1M239.5 211.9h.1M187.8 203.8h.1M203.8 243.1h.1M166.8 210.1h.1M163.9 206.3h.1M185.5 233.3h.1M195.6 226.7h.1M204.7 237.8h.1M121.3 238.2h.1M186.4 237.7h.1M216.2 201.9h.1M180.1 192.4h.1M223.1 203.5h.1M140.2 256.6h.1M104.9 242.8h.1M134.9 229.5h.1M156.2 205.1h.1M150.1 208.5h.1M185.5 212.0h.1M266.8 225.0h.1M224.2 196.0h.1M231.4 195.4h.1M183.1 213.9h.1M195.7 260.4h.1M154.1 235.2h.1M188.7 216.3h.1M189.7 233.7h.1M161.2 264.9h.1M226.0 213.2h.1M210.1 200.9h.1M210.8 250.2h.1M135.3 250.9h.1M177.7 251.6h.1M213.8 254.7h.1M202.2 257.3h.1M198.2 211.9h.1M234.6 236.3h.1M178.6 227.4h.1M174.7 210.3h.1M209.7 244.8h.1M133.1 224.8h.1M138.4 242.4h.1M200.2 203.1h.1M214.9 224.2h.1M200.9 200.8h.1M225.6 233.7h.1M202.3 218.2h.1M192.7 192.4h.1M215.6 217.2h.1M179.2 243.6h.1M209.0 206.7h.1M188.1 204.8h.1M104.5 232.9h.1M188.4 219.5h.1M182.1 221.7h.1M209.3 237.5h.1M184.7 244.4h.1M136.1 237.0h.1M176.1 214.8h.1M120.8 254.6h.1M184.2 208.8h.1M133.0 225.3h.1M199.9 214.2h.1M191.4 218.3h.1M225.8 214.8h.1M242.3 184.9h.1M230.8 224.8h.1M120.7 235.9h.1M153.8 223.1h.1M168.9 222.0h.1M135.8 230.8h.1M160.0 230.9h.1M215.5 220.7h.1M140.0 216.3h.1M163.7 217.5h.1M209.0 234.2h.1M170.7 260.3h.1M176.5 261.5h.1M226.0 196.9h.1M154.1 224.5h.1M133.4 248.6h.1M235.7 242.6h.1M111.0 253.3h.1M206.2 224.6h.1M212.4 224.2h.1M184.6 196.0h.1M219.4 188.9h.1M139.2 264.1h.1M167.7 209.9h.1M195.2 242.9h.1M202.2 233.0h.1M209.6 208.8h.1M148.1 241.7h.1M189.3 223.5h.1M191.8 205.8h.1M221.6 213.8h.1M189.2 229.3h.1M196.6 247.3h.1M170.5 205.7h.1M212.3 206.3h.1M193.3 213.0h.1M200.8 231.6h.1M189.4 257.3h.1M148.5 266.1h.1M169.0 227.1h.1M103.0 255.7h.1M144.8 192.5h.1M217.7 248.7h.1M192.9 227.5h.1M123.5 246.4h.1M199.4 216.7h.1M183.0 225.0h.1M231.7 246.1h.1M135.0 249.4h.1M161.0 190.3h.1M192.5 217.7h.1M127.4 238.9h.1M187.7 205.6h.1M164.9 235.8h.1M204.9 232.5h.1M171.4 235.8h.1M229.5 252.9h.1M166.5 212.4h.1M128.1 263.8h.1M204.4 228.9h.1M141.8 267.4h.1M118.1 253.2h.1M211.0 230.1h.1M210.1 242.0h.1M186.6 227.1h.1M220.8 253.0h.1M196.3 224.2h.1M203.2 215.7h.1M230.0 203.4h.1M108.3 244.5h.1M149.7 250.9h.1M181.8 209.0h.1M203.3 213.5h.1M176.5 221.9h.1M193.4 208.0h.1M116.2 265.4h.1M227.2 227.0h.1M194.5 202.7h.1M163.5 211.9h.1M155.2 223.3h.1M183.1 256.2h.1M114.1 215.6h.1M207.0 246.2h.1M233.7 210.0h.1M186.2 240.1h.1M203.3 212.9h.1M217.0 221.3h.1M199.8 216.8h.1M189.0 237.9h.1M162.1 217.9h.1M205.4 212.3h.1M127.1 254.0h.1M236.1 188.0h.1M204.4 222.6h.1M135.6 266.1h.1M182.8 217.3h.1M201.6 245.9h.1M230.2 194.2h.1M208.3 212.0h.1M178.5 271.9h.1M187.6 247.3h.1M206.1 246.8h.1M207.3 200.4h.1M210.6 224.2h.1M221.2 252.7h.1M230.1 221.2h.1M218.1 245.0h.1M186.9 238.0h.1M224.5 197.5h.1M201.2 249.1h.1M157.0 218.3h.1M183.2 235.3h.1M199.8 230.7h.1M263.7 191.5h.1M227.3 225.3h.1M160.0 213.2h.1M167.5 211.7h.1M146.7 230.7h.1M202.3 233.8h.1M190.1 205.6h.1M148.1 265.0h.1M215.2 213.7h.1M159.1 227.9h.1M169.8 204.7h.1M212.0 224.6h.1M195.7 204.7h.1M223.8 227.3h.1M164.4 227.9h.1M199.6 222.9h.1M144.4 221.5h.1M224.0 210.9h.1M191.1 237.5h.1M202.1 232.2h.1M189.3 192.8h.1M158.5 212.7h.1M208.8 230.1h.1M202.5 240.2h.1M173.2 206.2h.1M188.2 243.5h.1M222.7 225.1h.1M210.0 210.6h.1M193.1 207.9h.1M133.0 273.2h.1M173.4 217.7h.1M152.4 224.4h.1M212.3 237.0h.1M174.4 264.4h.1M184.5 257.2h.1M122.2 266.4h.1M185.8 250.5h.1M185.5 204.4h.1M193.3 228.3h.1M126.5 256.9h.1M157.4 221.5h.1M102.7 253.1h.1M215.6 234.0h.1M124.3 248.1h.1M237.5 215.4h.1M193.2 231.7h.1M153.8 230.2h.1M203.0 205.4h.1M226.0 236.8h.1M126.7 247.0h.1M144.0 222.4h.1M205.8 194.2h.1M165.0 217.9h.1M232.8 181.3h.1M189.7 185.9h.1M150.6 211.0h.1M171.8 202.1h.1M231.9 238.5h.1M223.7 245.0h.1M186.3 245.7h.1M199.7 240.5h.1M190.6 173.5h.1M185.1 253.6h.1M183.1 229.5h.1M214.2 196.4h.1M201.7 212.0h.1M197.2 239.2h.1M227.4 220.7h.1M200.8 202.1h.1M127.5 259.3h.1M210.4 197.9h.1M166.1 257.2h.1M213.7 220.1h.1M195.2 214.9h.1M213.1 222.1h.1M188.1 191.9h.1M145.1 250.7h.1M208.6 241.7h.1M121.1 258.2h.1M200.3 254.7h.1M137.8 229.3h.1M193.7 252.1h.1M161.9 240.0h.1M208.4 179.9h.1M163.8 257.9h.1M197.8 209.2h.1M138.7 238.7h.1M117.5 264.2h.1M180.5 216.2h.1M174.8 209.5h.1M138.3 226.5h.1M126.8 249.2h.1M164.6 216.0h.1M166.7 203.0h.1M227.8 257.6h.1M136.8 223.0h.1M129.1 233.7h.1M147.5 257.8h.1M151.1 262.0h.1M224.4 215.1h.1M222.2 232.8h.1M198.4 230.3h.1M178.8 250.5h.1M195.3 226.8h.1M151.7 238.8h.1M158.1 227.6h.1M202.1 216.5h.1M132.4 219.8h.1M196.4 203.7h.1M227.8 192.5h.1M193.3 207.2h.1M179.1 196.5h.1M88.3 270.5h.1M184.2 223.3h.1M184.4 187.5h.1M193.2 212.7h.1M212.2 231.9h.1M136.8 229.9h.1M197.0 204.0h.1M202.8 217.4h.1M216.8 201.9h.1M190.2 239.4h.1M218.6 218.6h.1M212.2 225.5h.1M179.3 213.7h.1M197.6 242.2h.1M189.6 235.4h.1M109.5 236.6h.1M213.1 202.1h.1M197.0 256.9h.1M174.8 246.6h.1M187.0 199.9h.1M211.6 175.3h.1M201.5 220.8h.1M163.1 222.0h.1M235.4 253.4h.1M185.2 257.6h.1M172.3 195.8h.1M191.4 213.8h.1M191.1 170.1h.1M186.9 221.1h.1M210.0 228.9h.1M187.4 226.9h.1M180.4 192.7h.1M177.9 207.4h.1M212.7 255.9h.1M190.9 211.3h.1M134.9 232.2h.1M199.7 230.5h.1M213.6 213.1h.1M201.0 216.3h.1M175.0 226.2h.1M185.3 226.9h.1M208.7 236.4h.1M256.0 195.5h.1M182.7 250.1h.1M125.7 233.5h.1M129.4 257.1h.1M185.5 223.8h.1M141.4 220.7h.1M209.8 222.5h.1M242.6 209.8h.1M147.2 233.6h.1M103.3 252.9h.1M197.3 238.9h.1M159.7 209.5h.1M223.7 231.1h.1M163.0 213.4h.1M230.3 243.0h.1M226.2 217.3h.1M237.5 219.3h.1M196.8 233.0h.1M170.4 253.1h.1M232.4 216.1h.1M182.1 215.3h.1M198.3 233.3h.1M166.9 253.1h.1M187.7 258.2h.1M152.9 218.1h.1M228.3 241.6h.1M131.0 216.4h.1M219.9 196.4h.1M127.0 257.9h.1M212.1 196.0h.1M225.1 225.3h.1M202.8 234.4h.1M167.2 217.0h.1M136.9 225.4h.1M202.4 254.9h.1M142.0 215.0h.1M155.7 232.1h.1M176.2 203.5h.1M207.0 198.5h.1M201.2 213.4h.1M218.2 244.5h.1M216.8 234.3h.1M207.0 238.8h.1M180.2 232.4h.1M216.0 217.6h.1M212.6 227.3h.1M220.2 210.8h.1M218.7 229.6h.1M198.4 224.1h.1M184.4 234.6h.1M170.9 217.9h.1M211.3 251.5h.1M153.5 207.9h.1M155.6 265.4h.1M157.6 220.7h.1M139.4 215.3h.1M218.5 247.5h.1M219.9 221.4h.1M138.1 228.7h.1M150.4 221.5h.1M196.6 240.6h.1M118.2 250.3h.1M184.3 215.8h.1M190.3 197.4h.1M221.9 223.7h.1M185.7 233.1h.1M210.5 202.1h.1M211.9 221.1h.1M146.2 214.3h.1M229.4 240.2h.1M160.5 215.2h.1M186.8 233.8h.1M125.5 259.1h.1M176.0 256.1h.1M186.9 233.6h.1M162.0 187.4h.1M153.7 229.8h.1M209.1 244.7h.1M245.1 213.3h.1M169.9 230.8h.1M215.6 202.7h.1M185.5 206.9h.1M183.8 228.2h.1M203.0 233.5h.1M171.2 223.6h.1M159.5 252.9h.1M210.4 209.2h.1M191.9 233.7h.1M159.5 221.5h.1M201.0 213.1h.1M129.0 241.6h.1M208.7 245.1h.1M165.4 211.3h.1M141.9 219.9h.1M185.9 226.4h.1M195.7 212.9h.1M186.5 242.0h.1M182.8 218.2h.1M143.6 231.3h.1M100.5 250.7h.1M194.7 203.1h.1M207.4 238.3h.1M191.7 256.9h.1M139.2 224.6h.1M172.7 209.3h.1M140.2 224.5h.1M100.9 232.9h.1M170.7 224.9h.1M207.8 195.8h.1M203.4 246.5h.1M193.4 255.5h.1M167.3 229.5h.1M186.6 207.4h.1M200.8 232.7h.1M215.8 250.7h.1M217.8 206.8h.1M181.9 227.2h.1M147.9 227.1h.1M190.9 211.6h.1M115.2 258.3h.1M176.5 206.9h.1M207.5 217.8h.1M177.6 259.8h.1M227.3 217.0h.1M160.0 216.7h.1M166.2 248.0h.1M207.4 224.6h.1M209.1 240.7h.1M188.4 193.7h.1M135.2 224.5h.1M141.8 245.2h.1M121.0 252.9h.1M192.4 212.2h.1M217.1 191.1h.1M187.8 209.2h.1M196.5 224.4h.1M167.9 218.9h.1M198.4 212.3h.1M162.6 223.9h.1M201.6 221.3h.1M201.2 228.7h.1M136.6 227.6h.1M205.6 222.6h.1M185.4 246.3h.1M195.8 244.1h.1M208.0 250.6h.1M143.9 244.9h.1M185.2 208.2h.1M122.2 235.8h.1M169.2 223.2h.1M214.7 231.4h.1M207.6 230.0h.1M206.8 247.8h.1M209.6 249.5h.1M141.1 223.1h.1M240.8 201.3h.1M205.2 238.9h.1M164.1 256.9h.1M207.7 199.2h.1M156.1 227.1h.1M195.3 250.6h.1M130.3 230.1h.1M192.7 218.1h.1M128.7 207.7h.1M138.3 239.3h.1M125.2 269.1h.1M98.6 212.3h.1M162.9 199.8h.1M150.1 265.9h.1M184.7 208.9h.1M159.6 222.4h.1M151.8 214.8h.1M194.0 223.9h.1M201.1 220.9h.1M161.5 264.6h.1M176.8 239.9h.1M218.2 174.9h.1M207.8 202.2h.1M144.4 223.8h.1M204.8 266.4h.1M156.5 241.9h.1M132.6 240.7h.1M168.1 189.9h.1M206.4 258.6h.1M181.5 216.3h.1M184.3 214.1h.1M180.5 227.5h.1M175.6 210.0h.1M162.2 215.2h.1M203.4 238.5h.1M132.9 247.0h.1M143.0 230.6h.1M176.7 210.7h.1M235.2 207.6h.1M192.8 238.9h.1M178.3 254.8h.1M124.2 251.9h.1M197.8 245.0h.1M131.7 234.3h.1M172.5 231.3h.1M132.6 260.0h.1M183.0 186.5h.1M175.0 236.0h.1M224.0 230.9h.1M199.5 254.5h.1M134.2 247.3h.1M194.2 196.7h.1M146.0 233.7h.1M178.9 204.1h.1M139.1 220.9h.1M206.9 188.2h.1M172.0 206.0h.1M156.6 231.7h.1M134.9 228.6h.1M132.5 232.2h.1M160.3 227.9h.1M214.3 216.8h.1M238.9 204.9h.1M181.8 208.8h.1M183.9 227.3h.1M115.3 251.7h.1M149.6 221.8h.1M175.6 217.6h.1M191.5 232.3h.1M253.6 201.9h.1M222.5 217.7h.1M235.3 184.1h.1M185.2 221.4h.1M186.8 255.4h.1M180.5 208.8h.1M198.9 224.2h.1M213.7 211.6h.1M230.4 222.9h.1M195.7 221.6h.1M224.4 203.8h.1M193.2 204.2h.1M173.8 260.9h.1M230.6 215.3h.1M158.1 215.7h.1M203.2 238.0h.1M207.2 232.9h.1M181.7 256.7h.1M163.9 262.5h.1M111.9 263.5h.1M185.6 259.2h.1M181.6 265.7h.1M140.8 223.4h.1M139.2 235.3h.1M202.7 242.1h.1M192.7 226.5h.1M143.6 230.4h.1M203.6 244.9h.1M236.3 214.8h.1M195.2 248.8h.1M133.3 216.6h.1M194.5 211.0h.1M144.6 233.6h.1M185.7 219.5h.1M156.0 232.9h.1M218.2 203.3h.1M210.2 213.5h.1M166.2 264.5h.1M202.6 205.9h.1M209.3 213.2h.1M195.0 223.5h.1M152.9 198.1h.1M171.5 228.2h.1M193.9 226.4h.1M141.5 232.6h.1M255.2 175.5h.1M139.1 262.2h.1M220.7 249.6h.1M205.9 204.5h.1M207.7 238.0h.1M204.9 235.1h.1M193.5 228.8h.1M233.1 212.7h.1M238.7 227.7h.1M191.2 224.5h.1M178.6 212.8h.1M196.7 236.3h.1M167.7 261.0h.1M244.5 215.3h.1M153.0 225.0h.1M188.8 251.8h.1M206.0 216.2h.1M177.3 221.7h.1M160.4 231.6h.1M200.4 219.6h.1M159.1 214.9h.1M156.8 204.5h.1M187.6 207.1h.1M207.2 248.5h.1M194.9 218.2h.1M206.4 237.1h.1M212.2 228.1h.1M247.0 193.8h.1M154.2 227.0h.1M191.2 249.6h.1M162.1 223.6h.1M206.4 224.8h.1M222.6 252.3h.1M187.4 250.6h.1M218.2 206.2h.1M233.7 214.3h.1M101.6 243.8h.1M154.6 231.7h.1M188.0 239.0h.1M120.7 261.3h.1M171.0 211.5h.1M201.9 237.0h.1M178.8 202.4h.1M172.5 228.2h.1M202.3 212.0h.1M190.1 222.4h.1M184.1 211.7h.1M160.0 224.1h.1M174.6 232.6h.1M115.2 252.9h.1M209.2 216.0h.1M176.3 187.6h.1M202.5 241.3h.1M189.3 231.0h.1M199.0 230.0h.1M241.2 205.7h.1M145.1 211.7h.1M187.5 200.4h.1M108.5 255.8h.1M185.5 227.1h.1M197.9 217.5h.1M150.4 225.5h.1M141.6 267.9h.1M168.2 221.2h.1M160.0 218.3h.1M176.3 237.3h.1M253.3 232.5h.1M160.2 260.0h.1M172.2 215.1h.1M190.4 214.8h.1M189.2 253.6h.1M235.3 209.5h.1M120.5 235.1h.1M135.7 245.0h.1M164.7 166.0h.1M198.5 186.8h.1M164.7 257.0h.1M224.1 213.0h.1M197.8 198.3h.1M224.5 188.5h.1M214.8 238.6h.1M184.0 252.6h.1M197.8 233.5h.1M256.3 219.5h.1M223.6 229.0h.1M144.1 229.9h.1M140.0 266.7h.1M151.8 239.2h.1M212.2 207.4h.1M220.5 243.6h.1M188.7 234.6h.1M190.1 212.7h.1M184.0 262.8h.1M198.6 232.0h.1M190.8 214.8h.1M189.7 227.6h.1M164.5 209.2h.1M206.3 176.2h.1M214.8 220.1h.1M200.6 219.7h.1M145.3 202.9h.1M170.1 233.3h.1M193.0 214.3h.1M192.9 212.2h.1M172.6 212.1h.1M159.9 262.6h.1M239.3 204.2h.1M204.4 239.8h.1M188.9 200.2h.1M170.9 199.6h.1M153.8 214.7h.1M238.7 229.0h.1M132.7 268.0h.1M136.0 276.6h.1M200.3 215.9h.1M116.6 224.7h.1M118.8 259.6h.1M197.4 227.1h.1M180.2 200.8h.1M223.5 227.0h.1M212.6 217.2h.1M197.1 205.5h.1M234.4 191.5h.1M175.8 262.6h.1M186.1 251.4h.1M161.7 263.6h.1M191.8 216.7h.1M167.9 216.3h.1M174.4 261.4h.1M177.3 253.2h.1M122.7 226.3h.1M127.7 212.5h.1M142.7 219.5h.1M142.4 230.7h.1M148.7 239.0h.1M228.6 223.9h.1M131.2 257.3h.1M206.8 235.0h.1M163.3 239.2h.1M155.5 257.9h.1M139.8 191.4h.1M154.4 260.6h.1M194.0 234.9h.1M178.4 257.3h.1M133.0 248.9h.1M172.1 237.3h.1M144.5 262.9h.1M179.2 221.7h.1M127.0 255.8h.1M190.4 217.3h.1M255.9 213.5h.1M208.5 225.0h.1M211.5 201.0h.1M184.8 226.0h.1M187.2 203.3h.1M141.6 219.6h.1M179.4 225.8h.1M188.7 257.3h.1M218.2 231.2h.1M207.6 210.5h.1M177.4 212.9h.1M175.9 203.6h.1M223.1 242.5h.1M207.1 196.2h.1M247.3 205.4h.1M220.4 252.2h.1M135.4 250.7h.1M208.9 217.6h.1M173.5 216.1h.1M238.8 190.7h.1M123.3 260.0h.1M199.8 216.3h.1M164.0 221.1h.1M183.0 196.5h.1M172.4 228.0h.1M193.7 238.3h.1M185.1 233.7h.1M218.6 197.9h.1M154.1 236.9h.1M169.1 262.2h.1M116.8 222.0h.1M130.6 260.4h.1M216.0 230.1h.1M193.0 211.2h.1M176.9 207.1h.1M192.8 229.2h.1M139.3 241.1h.1M190.5 203.7h.1M233.5 247.0h.1M217.6 249.2h.1M181.3 229.1h.1M200.7 203.9h.1M229.0 195.2h.1M173.2 262.5h.1M143.3 237.0h.1M246.5 207.5h.1M179.8 245.3h.1M160.8 228.4h.1M191.7 231.9h.1M152.2 217.9h.1M169.7 219.7h.1M232.4 239.5h.1M205.8 230.8h.1M138.0 223.4h.1M150.4 220.2h.1M191.9 235.4h.1M214.0 193.9h.1M223.3 230.7h.1M205.4 241.7h.1M165.5 206.5h.1M122.8 269.7h.1M207.8 252.5h.1M212.2 205.1h.1M152.7 222.0h.1M230.8 224.3h.1M194.1 210.4h.1M176.1 254.4h.1M139.7 224.7h.1M137.2 234.3h.1M129.6 218.8h.1M180.0 200.7h.1M194.0 249.4h.1M151.9 227.9h.1M157.8 243.6h.1M99.0 258.5h.1M144.8 213.7h.1M197.6 228.4h.1M231.1 208.5h.1M191.3 238.9h.1M188.5 240.8h.1M162.5 219.7h.1M165.5 271.4h.1M131.5 238.1h.1M188.4 213.8h.1M130.1 269.8h.1M181.7 205.5h.1M221.1 206.4h.1M191.0 226.6h.1M125.7 240.5h.1M162.1 211.8h.1M199.2 237.5h.1M122.9 264.1h.1M202.1 218.7h.1M174.7 223.5h.1M190.1 221.1h.1M128.2 258.6h.1M237.6 203.0h.1M209.7 225.2h.1M192.1 233.7h.1M191.2 245.0h.1M118.4 225.1h.1M170.6 204.7h.1M181.4 257.0h.1M209.4 260.5h.1M217.6 237.3h.1M150.9 273.6h.1M164.8 214.2h.1M190.8 252.2h.1M238.7 217.9h.1M136.2 221.5h.1M168.6 219.2h.1M196.1 210.0h.1M205.2 217.4h.1M145.4 225.7h.1M124.4 236.8h.1M175.0 226.7h.1M174.6 231.6h.1M146.6 224.5h.1M201.4 213.6h.1M176.6 226.2h.1M140.5 233.5h.1M225.2 217.5h.1M133.7 245.0h.1M136.3 257.0h.1M201.5 204.8h.1M219.2 242.1h.1M189.7 219.8h.1M230.8 228.3h.1M226.0 213.8h.1M246.6 227.5h.1M194.3 207.6h.1M163.0 245.1h.1M248.9 236.0h.1M220.9 219.4h.1M156.2 227.5h.1M200.4 214.0h.1M237.6 244.9h.1M186.7 221.3h.1M196.3 228.9h.1M200.3 217.1h.1M160.1 198.3h.1M131.2 219.9h.1M211.6 236.1h.1M131.7 232.4h.1M168.5 262.5h.1M201.1 193.9h.1M215.7 218.8h.1M157.8 235.6h.1M213.8 227.6h.1M125.9 255.9h.1M139.9 241.4h.1M185.6 254.1h.1M172.0 245.3h.1M212.6 235.3h.1M176.1 217.2h.1M196.6 245.2h.1M211.3 239.5h.1M229.6 217.6h.1M201.4 229.7h.1M119.0 242.1h.1M241.0 234.3h.1M186.9 220.5h.1M115.1 262.2h.1M226.3 218.8h.1M172.5 256.8h.1M190.0 218.6h.1M172.9 227.2h.1M133.2 236.0h.1M180.3 232.5h.1M102.4 260.9h.1M151.2 204.9h.1M139.0 245.1h.1M177.3 210.9h.1M211.7 232.5h.1M214.6 229.2h.1M164.4 209.0h.1M153.8 229.9h.1M208.1 234.8h.1M154.7 203.5h.1M239.8 235.2h.1M199.3 206.2h.1M183.2 239.5h.1M214.6 229.0h.1M159.5 219.9h.1M202.4 239.8h.1M161.7 219.2h.1M178.4 204.6h.1M190.3 200.8h.1M168.8 266.7h.1M187.2 241.2h.1M166.5 217.9h.1M130.8 232.8h.1M190.4 246.8h.1M151.3 251.7h.1M155.6 216.9h.1M174.0 217.5h.1M208.5 266.8h.1M163.7 229.6h.1M149.6 213.8h.1M176.9 179.9h.1M218.3 221.1h.1M184.2 209.8h.1M230.6 218.2h.1M211.3 213.5h.1M193.8 224.9h.1M173.2 251.7h.1M169.2 211.2h.1M185.6 232.3h.1M190.6 220.0h.1M161.8 208.5h.1M217.0 196.3h.1M160.7 266.9h.1M227.6 220.1h.1M166.0 200.9h.1M206.6 215.8h.1M202.9 244.7h.1M197.8 208.4h.1M192.8 255.4h.1M269.6 211.5h.1M249.7 211.8h.1M84.0 236.1h.1M216.2 228.8h.1M161.7 216.1h.1M167.2 213.7h.1M194.7 262.9h.1M160.8 220.7h.1M152.4 222.8h.1M205.3 224.6h.1M153.3 224.5h.1M195.4 243.4h.1M190.8 229.7h.1M195.8 240.9h.1M144.6 228.5h.1M142.6 232.9h.1M186.3 222.7h.1M228.6 204.9h.1M221.6 178.8h.1M162.4 250.0h.1M124.1 234.9h.1M230.1 233.5h.1M208.2 248.1h.1M191.6 192.8h.1M184.3 204.1h.1M167.0 221.5h.1M182.2 220.4h.1M114.7 264.7h.1M212.6 251.3h.1M152.8 216.8h.1M166.9 214.0h.1M215.9 218.1h.1M171.1 224.6h.1M140.6 268.3h.1M193.2 218.1h.1M234.3 225.4h.1M196.2 256.9h.1M101.2 231.1h.1M134.5 235.4h.1M197.0 260.9h.1M239.9 219.9h.1M173.1 263.8h.1M206.7 259.3h.1M191.8 227.3h.1M252.7 213.5h.1M128.8 237.8h.1M152.3 266.2h.1M202.8 215.2h.1M190.6 244.5h.1M131.9 242.1h.1M155.8 223.9h.1M197.1 205.7h.1M152.9 224.3h.1M256.4 212.8h.1M199.0 233.0h.1M213.8 236.2h.1M174.8 218.6h.1M137.7 232.5h.1M192.8 249.9h.1M191.9 216.1h.1M227.5 216.3h.1M189.3 254.8h.1M228.8 228.2h.1M156.4 216.8h.1M172.5 205.2h.1M150.9 273.2h.1M172.8 223.8h.1M179.9 223.1h.1M164.2 254.5h.1M139.1 246.3h.1M170.8 210.7h.1M155.7 213.0h.1M145.1 206.7h.1M199.1 221.1h.1M206.3 239.3h.1M181.3 257.3h.1M171.4 211.3h.1M179.7 218.2h.1M133.8 256.0h.1M160.7 215.7h.1M222.3 221.4h.1M213.2 225.8h.1M200.1 231.2h.1M149.1 222.4h.1M187.1 227.4h.1M198.4 236.4h.1M228.1 216.4h.1M194.8 225.0h.1M171.1 260.6h.1M201.9 228.0h.1M225.0 215.3h.1M190.0 220.8h.1M154.5 230.2h.1M165.4 219.2h.1M232.3 213.1h.1M199.3 221.3h.1M178.9 244.7h.1M202.6 210.3h.1M205.4 258.6h.1M180.4 222.5h.1M175.6 221.9h.1M198.6 222.0h.1M178.1 201.7h.1M203.4 223.3h.1M116.5 248.3h.1M124.7 203.3h.1M170.5 239.8h.1M132.1 218.2h.1M178.8 257.9h.1M228.1 221.7h.1M147.6 266.0h.1M185.5 260.6h.1M155.5 266.9h.1M211.7 220.1h.1M170.6 259.0h.1M157.2 221.0h.1M102.5 241.9h.1M217.4 191.2h.1M145.5 240.7h.1M149.7 224.0h.1M192.5 247.7h.1M180.0 218.9h.1M197.2 235.1h.1M209.6 208.1h.1M208.9 222.0h.1M189.0 203.3h.1M132.5 209.9h.1M186.4 215.6h.1M201.1 230.0h.1M174.9 217.7h.1M136.6 227.8h.1M188.4 226.9h.1M227.1 227.0h.1M224.7 205.8h.1M175.7 220.5h.1M205.3 245.6h.1M203.3 200.3h.1M162.2 265.0h.1M129.8 243.8h.1M195.7 228.2h.1M200.8 275.0h.1M196.0 188.0h.1M195.8 213.2h.1M121.7 247.0h.1M176.9 199.3h.1M184.8 204.6h.1M197.5 233.3h.1M167.8 210.9h.1M130.9 233.5h.1M165.5 214.3h.1M158.6 206.8h.1M187.9 224.8h.1M199.8 245.6h.1M181.0 200.6h.1M188.3 244.8h.1M200.8 235.6h.1M185.6 243.8h.1M174.6 206.7h.1M169.4 212.7h.1M177.2 217.8h.1M120.4 273.9h.1M181.4 252.2h.1M234.3 196.6h.1M165.4 213.8h.1M211.1 242.5h.1M180.9 252.0h.1M127.5 228.1h.1M153.4 220.4h.1M108.6 266.9h.1M159.6 224.3h.1M235.8 234.2h.1M200.1 228.8h.1M180.6 244.7h.1M205.8 238.9h.1M204.9 213.5h.1M199.8 242.5h.1M217.0 229.6h.1M223.0 208.6h.1M174.7 258.1h.1M159.2 254.1h.1M194.4 243.9h.1M210.3 230.2h.1M74.1 257.1h.1M165.3 232.6h.1M228.7 227.8h.1M145.0 246.3h.1M174.3 225.1h.1M187.9 263.5h.1M191.0 238.0h.1M181.7 213.4h.1M150.1 217.9h.1M231.8 227.6h.1M207.3 200.5h.1M191.1 221.1h.1M128.1 225.2h.1M189.8 210.1h.1M171.8 205.0h.1M96.9 257.3h.1M188.5 211.1h.1M207.7 175.1h.1M187.6 213.1h.1M188.2 214.5h.1M194.4 225.6h.1M239.0 187.2h.1M193.5 245.4h.1M197.2 219.0h.1M163.2 224.8h.1M136.2 231.8h.1M174.5 210.4h.1M203.8 235.2h.1M176.6 259.1h.1M196.6 251.9h.1M178.5 166.5h.1M218.6 195.6h.1M202.3 242.5h.1M216.8 203.5h.1M239.2 202.6h.1M135.6 247.5h.1M128.0 232.7h.1M164.6 216.3h.1M125.2 247.2h.1M182.5 262.4h.1M240.6 207.1h.1M176.1 196.3h.1M204.5 237.7h.1M182.8 253.7h.1M271.1 224.4h.1M191.5 243.3h.1M165.3 207.7h.1M155.8 259.5h.1M203.9 238.6h.1M203.4 241.2h.1M214.8 184.2h.1M128.3 266.1h.1M241.3 229.5h.1M79.2 268.8h.1M239.4 215.8h.1M188.1 249.4h.1M169.6 214.9h.1M202.6 242.5h.1M225.0 254.1h.1M138.2 243.3h.1M208.7 198.1h.1M247.2 208.1h.1M132.0 223.5h.1M182.5 234.8h.1M170.9 209.1h.1M150.8 211.9h.1M169.9 194.6h.1M187.9 208.2h.1M201.4 211.2h.1M190.2 234.5h.1M207.4 232.9h.1M162.8 212.7h.1M164.1 196.0h.1M250.4 206.1h.1M134.9 215.6h.1M117.0 229.0h.1M186.0 226.6h.1M205.3 225.4h.1M143.5 268.7h.1M192.9 255.0h.1M199.8 235.8h.1M166.1 264.4h.1M219.0 209.0h.1M132.3 245.9h.1M168.1 196.7h.1M171.8 245.5h.1M165.4 218.7h.1M183.5 214.7h.1M187.0 225.6h.1M137.4 239.4h.1M176.8 208.1h.1M173.1 218.9h.1M216.5 179.1h.1M216.1 233.4h.1M204.4 221.7h.1M123.0 254.0h.1M157.1 266.8h.1M193.1 210.9h.1M204.9 229.5h.1M184.5 249.2h.1M155.5 265.8h.1M203.1 209.4h.1M223.1 196.7h.1M113.0 248.9h.1M222.1 202.2h.1M173.3 215.4h.1M126.9 249.5h.1M213.9 224.0h.1M147.6 227.5h.1M223.6 208.1h.1M148.9 197.3h.1M196.7 250.6h.1M229.3 213.6h.1M161.2 235.5h.1M185.8 243.8h.1M103.2 267.0h.1M213.7 225.3h.1M181.3 250.2h.1M184.7 224.5h.1M151.9 238.6h.1M213.1 204.2h.1M133.8 256.7h.1M249.9 184.9h.1M146.3 245.6h.1M181.8 208.7h.1M152.3 243.2h.1M180.1 227.0h.1M215.7 226.6h.1M205.8 176.6h.1M231.9 147.3h.1M231.1 140.1h.1M133.4 208.9h.1M206.3 170.2h.1M290.0 86.3h.1M274.3 180.8h.1M256.2 193.0h.1M230.9 187.6h.1M211.7 151.2h.1M219.1 206.6h.1M249.0 195.4h.1M201.7 235.5h.1M221.2 129.6h.1M239.5 168.2h.1M232.1 233.8h.1M205.0 162.6h.1M211.4 171.3h.1M266.3 154.2h.1M241.5 171.7h.1M295.1 158.2h.1M217.4 209.3h.1M181.6 159.2h.1M215.0 185.8h.1M214.8 219.2h.1M265.6 192.0h.1M237.5 116.6h.1M260.1 159.3h.1M248.1 181.3h.1M242.6 177.7h.1M216.6 197.3h.1M211.7 195.6h.1M242.0 177.3h.1M222.0 160.3h.1M217.7 218.9h.1M273.0 152.1h.1M165.6 195.4h.1M233.9 187.1h.1M237.5 178.5h.1M305.3 175.0h.1M200.6 134.5h.1M242.2 227.9h.1M273.1 152.5h.1M264.3 148.2h.1M268.4 179.2h.1M274.9 134.9h.1M205.9 180.6h.1M199.1 202.2h.1M200.0 210.7h.1M255.2 183.4h.1M197.8 191.6h.1M191.8 231.6h.1M228.9 208.7h.1M180.1 162.5h.1M246.0 129.8h.1M242.5 119.1h.1M207.2 172.4h.1M243.3 114.1h.1M232.5 188.9h.1M191.8 225.5h.1M237.9 182.5h.1M237.6 134.7h.1M138.7 198.6h.1M225.9 156.5h.1M258.1 188.9h.1M118.0 214.1h.1M254.9 162.9h.1M195.5 205.2h.1M169.7 211.3h.1M161.2 207.3h.1M217.9 200.9h.1M191.5 171.6h.1M274.4 125.6h.1M149.7 194.8h.1M202.1 197.0h.1M273.8 173.3h.1M246.2 196.1h.1M218.3 195.7h.1M209.4 145.2h.1M196.3 170.8h.1M276.7 122.5h.1M224.5 122.8h.1M287.1 159.1h.1M150.1 156.5h.1M277.7 147.4h.1M221.1 124.9h.1M123.8 229.8h.1M250.4 139.4h.1M218.0 152.6h.1M203.2 144.6h.1M217.8 177.8h.1M169.4 203.4h.1M164.0 232.2h.1M236.8 136.5h.1M200.1 208.5h.1M268.5 167.5h.1M219.2 186.5h.1M271.8 172.2h.1M176.6 170.8h.1M251.9 139.7h.1M218.0 156.0h.1M185.0 214.7h.1M246.0 214.0h.1M271.1 124.1h.1M158.3 274.9h.1M284.8 154.2h.1M217.4 242.6h.1M199.8 151.2h.1M176.1 174.6h.1M241.5 139.7h.1M202.7 237.5h.1M233.4 191.5h.1M230.3 168.2h.1M293.9 194.4h.1M297.4 174.0h.1M216.7 154.6h.1M253.5 183.3h.1M231.7 150.4h.1M226.7 176.6h.1M250.2 164.2h.1M221.2 144.7h.1M202.1 155.1h.1M199.8 187.1h.1M295.9 139.7h.1M245.8 133.4h.1M202.2 181.2h.1M209.2 146.0h.1M294.2 111.2h.1M253.7 193.6h.1M253.3 162.9h.1M194.9 163.9h.1M261.7 180.1h.1M164.6 182.6h.1M275.7 169.7h.1M214.7 196.2h.1M206.6 216.6h.1M205.8 93.2h.1M153.4 174.0h.1M215.3 206.6h.1M150.0 177.6h.1M233.4 182.3h.1M199.5 198.6h.1M274.5 124.3h.1M214.4 244.0h.1M288.0 168.6h.1M225.9 182.4h.1M293.5 132.2h.1M216.7 208.9h.1M243.7 144.4h.1M238.8 157.3h.1M105.9 258.4h.1M219.9 154.4h.1M152.0 183.7h.1M241.9 211.4h.1M318.5 149.0h.1M258.0 199.9h.1M293.8 148.2h.1M254.8 181.8h.1M136.0 208.5h.1M268.3 123.2h.1M245.4 195.7h.1M211.7 101.6h.1M246.3 198.5h.1M223.8 158.6h.1M225.8 189.3h.1M278.5 170.4h.1M286.8 142.0h.1M200.1 183.7h.1M210.5 147.3h.1M200.7 178.1h.1M278.3 159.8h.1M229.5 142.7h.1M234.0 181.1h.1M212.5 138.0h.1M260.5 183.7h.1M216.1 189.1h.1M148.1 191.9h.1M212.6 193.0h.1M201.0 149.6h.1M194.6 177.6h.1M220.3 161.5h.1M193.7 196.6h.1M297.2 129.7h.1M291.4 209.9h.1M270.0 165.5h.1M205.6 167.8h.1M217.4 185.8h.1M247.1 167.1h.1M261.7 132.8h.1M208.2 156.4h.1M205.5 205.5h.1M228.0 179.2h.1M260.3 242.5h.1M233.9 108.8h.1M196.6 149.9h.1M268.5 202.7h.1M240.7 181.1h.1M237.4 130.9h.1M123.8 213.7h.1M255.9 123.6h.1M204.7 191.1h.1M282.7 126.2h.1M226.5 117.3h.1M288.8 187.5h.1M219.8 221.4h.1M205.2 224.9h.1M240.9 163.2h.1M240.3 145.1h.1M229.0 127.9h.1M207.0 244.3h.1M129.6 229.4h.1M251.5 151.1h.1M202.5 165.2h.1M165.0 176.7h.1M269.8 139.7h.1M270.3 200.9h.1M270.3 184.2h.1M208.4 199.0h.1M206.2 193.2h.1M207.2 173.5h.1M257.1 162.4h.1M235.4 188.9h.1M258.9 146.5h.1M164.9 154.7h.1M207.6 180.7h.1M268.1 152.1h.1M135.5 168.7h.1M172.7 155.7h.1M114.0 177.8h.1M194.4 217.0h.1M191.3 157.2h.1M242.1 166.5h.1M262.2 171.5h.1M262.0 113.4h.1M245.5 160.1h.1M201.0 202.8h.1M274.9 165.4h.1M263.1 149.0h.1M229.2 137.3h.1M227.2 158.9h.1M287.5 197.8h.1M220.5 148.9h.1M160.2 180.1h.1M243.8 178.2h.1M220.6 192.8h.1M184.8 176.4h.1M187.1 267.7h.1M244.1 184.9h.1M228.1 186.5h.1M208.2 228.6h.1M218.1 171.4h.1M198.6 236.1h.1M290.7 79.2h.1M266.7 162.0h.1M208.3 142.9h.1M172.7 172.6h.1M157.2 206.1h.1M210.7 142.9h.1M173.6 201.7h.1M308.9 144.1h.1M209.5 204.8h.1M139.9 144.4h.1M210.6 175.2h.1M155.9 163.0h.1M319.5 133.4h.1M159.8 221.9h.1M314.6 171.0h.1M298.6 169.4h.1M238.5 228.6h.1M297.3 179.5h.1M279.4 207.3h.1M288.6 207.7h.1M288.4 176.0h.1M237.7 240.4h.1M298.7 173.0h.1M220.2 215.1h.1M222.3 208.0h.1M265.5 213.0h.1M290.1 197.3h.1M307.1 151.9h.1M298.1 185.0h.1M254.9 213.9h.1M274.0 221.8h.1M271.7 185.9h.1M256.1 243.3h.1M283.9 240.5h.1M267.9 204.2h.1M295.1 158.6h.1M297.4 162.9h.1M311.3 168.3h.1M304.5 181.8h.1M294.4 199.1h.1M269.0 230.0h.1M283.7 193.4h.1M293.6 185.3h.1M304.5 140.9h.1M246.6 252.1h.1M296.0 202.3h.1M243.5 200.7h.1M223.9 199.9h.1M301.2 187.4h.1M267.4 192.9h.1M289.0 239.9h.1M260.3 151.0h.1M256.3 183.7h.1M272.5 211.6h.1M269.1 211.7h.1M245.1 228.5h.1M317.8 162.5h.1M254.9 223.0h.1M265.4 189.9h.1M264.8 231.9h.1M201.9 176.9h.1M276.2 226.9h.1M221.6 195.3h.1M309.0 223.6h.1M314.1 197.0h.1M306.3 200.1h.1M297.4 233.1h.1M246.5 184.9h.1M292.0 215.9h.1M278.9 229.4h.1M249.7 226.4h.1M300.5 184.4h.1M256.6 181.1h.1M271.2 217.5h.1M211.5 231.5h.1M248.2 184.4h.1M291.1 201.5h.1M279.2 158.2h.1M310.3 217.0h.1M292.4 155.4h.1M246.4 237.2h.1M275.2 151.2h.1M292.2 197.6h.1M272.3 148.3h.1M308.1 225.2h.1M264.4 204.7h.1M288.9 217.4h.1M228.9 267.8h.1M211.0 181.2h.1M226.3 219.8h.1M218.5 201.5h.1M306.7 176.2h.1M319.6 233.5h.1M246.0 237.5h.1M272.7 236.7h.1M231.9 210.4h.1M287.9 220.6h.1M290.7 193.6h.1M299.7 217.8h.1M248.7 208.9h.1M230.0 205.2h.1M306.3 187.5h.1M310.4 221.3h.1M268.5 214.7h.1M260.8 221.9h.1M250.3 220.5h.1M252.2 190.3h.1M218.3 240.2h.1M214.6 190.7h.1M228.3 190.3h.1M284.4 212.5h.1M220.7 210.9h.1M244.8 202.9h.1M283.3 239.2h.1M229.4 218.6h.1M294.3 205.8h.1M246.1 232.6h.1M298.6 182.7h.1M231.8 201.2h.1M237.8 213.3h.1M289.6 241.7h.1M276.5 216.7h.1M219.7 240.9h.1M248.9 195.9h.1M312.0 213.2h.1M215.7 201.9h.1M317.6 180.9h.1M231.8 242.4h.1M264.2 205.6h.1M282.5 212.0h.1M276.7 198.0h.1M189.9 184.9h.1M222.8 223.5h.1M303.4 194.7h.1M235.2 225.6h.1M247.8 185.8h.1M302.2 207.3h.1M215.3 217.8h.1M234.3 215.5h.1M240.2 129.9h.1M315.9 49.7h.1M173.7 127.9h.1M106.8 185.2h.1M236.8 190.4h.1M188.5 196.6h.1M309.4 159.8h.1M145.4 204.9h.1M201.0 136.2h.1M176.5 161.4h.1M244.0 93.6h.1M261.5 131.3h.1M247.2 50.0h.1M225.9 123.8h.1M262.4 46.5h.1M199.1 102.0h.1M207.8 120.4h.1M239.2 198.4h.1M145.9 159.1h.1M87.9 186.9h.1M156.2 162.5h.1M233.9 31.0h.1M296.5 167.0h.1M260.2 184.5h.1M274.4 116.7h.1M142.5 154.2h.1M312.8 42.0h.1M318.2 169.9h.1M158.5 176.7h.1M156.2 146.2h.1M240.7 85.1h.1M286.9 186.7h.1M209.2 120.6h.1M286.5 117.4h.1M182.0 69.1h.1M291.3 167.9h.1M205.7 71.0h.1M174.1 202.8h.1M223.5 36.4h.1M286.5 46.0h.1M199.3 60.3h.1M171.1 169.5h.1M117.0 116.6h.1M244.7 33.0h.1M171.0 89.0h.1M125.5 198.6h.1M124.5 197.0h.1M156.5 218.9h.1M256.0 97.0h.1M271.9 56.6h.1M109.0 172.1h.1M268.4 56.2h.1M240.2 140.3h.1M146.2 111.7h.1M145.7 183.2h.1M310.9 216.8h.1M205.7 115.8h.1M290.7 160.7h.1M190.8 25.4h.1M178.9 173.0h.1M71.5 275.1h.1M76.6 275.1h.1M58.6 280.2h.1M72.3 275.0h.1M76.7 275.1h.1M59.6 278.9h.1M67.2 275.5h.1M76.7 276.2h.1M59.2 278.3h.1M75.7 274.5h.1M83.8 273.5h.1M76.4 275.1h.1M71.9 280.4h.1M76.7 276.7h.1M79.3 274.2h.1M76.1 275.4h.1M77.6 274.8h.1M74.3 279.2h.1M79.9 277.5h.1M76.2 276.4h.1M79.5 274.9h.1M74.2 275.0h.1M76.1 273.7h.1M76.6 277.4h.1M76.5 278.4h.1M74.9 277.8h.1M77.9 273.3h.1M76.5 271.3h.1M97.9 259.9h.1M81.1 281.6h.1M78.2 275.7h.1M110.8 255.9h.1M115.8 263.9h.1M111.9 265.3h.1M63.4 277.0h.1M88.6 264.3h.1M129.1 265.0h.1M82.7 274.5h.1M78.3 274.9h.1M92.1 263.4h.1M78.2 261.0h.1M100.4 260.0h.1M124.1 248.9h.1M78.6 278.2h.1M86.9 280.7h.1M114.7 263.0h.1M125.0 245.9h.1M124.8 245.1h.1M102.8 269.8h.1M100.3 261.0h.1M137.8 242.1h.1M84.3 277.6h.1M124.9 262.3h.1M121.3 256.9h.1M104.9 252.2h.1M97.6 269.5h.1M93.3 262.1h.1M128.4 246.7h.1M123.6 261.2h.1M128.3 256.9h.1M121.4 264.6h.1M105.3 258.8h.1M112.4 250.6h.1M124.8 280.3h.1M80.6 270.2h.1M116.7 266.2h.1M90.0 257.6h.1M84.9 266.0h.1M103.0 260.8h.1M115.6 272.9h.1M92.9 266.2h.1M73.1 270.7h.1M84.0 263.0h.1M128.0 253.2h.1M92.0 271.9h.1M102.6 256.2h.1M87.1 262.1h.1M73.6 280.5h.1M118.2 251.8h.1M112.6 257.6h.1M104.6 249.8h.1M58.4 271.3h.1M68.7 268.8h.1M85.8 279.4h.1M97.8 275.6h.1M113.3 254.2h.1M88.3 271.8h.1M126.6 265.0h.1M79.9 264.7h.1M124.6 252.3h.1M123.2 269.9h.1M78.0 269.4h.1M89.9 271.6h.1M91.5 271.3h.1M89.0 264.5h.1M94.1 274.7h.1M81.4 281.1h.1M72.6 272.4h.1M131.5 256.2h.1M99.0 264.8h.1M128.4 252.8h.1M104.9 268.1h.1M75.9 265.6h.1M128.0 250.6h.1M100.2 259.6h.1M130.1 259.2h.1M61.3 268.0h.1M63.3 277.0h.1M76.1 270.1h.1M107.2 267.0h.1M98.5 276.1h.1M77.2 281.2h.1M126.2 273.0h.1M92.7 267.8h.1M77.5 280.7h.1M93.6 261.2h.1M133.4 241.2h.1M91.7 266.6h.1M105.2 255.4h.1M110.9 255.2h.1M74.8 265.5h.1M113.6 259.8h.1M83.6 267.0h.1M138.2 257.1h.1M62.4 275.7h.1M74.0 270.5h.1M87.3 253.1h.1M83.7 263.8h.1M130.6 263.0h.1M104.2 268.8h.1M102.2 256.9h.1M104.4 263.7h.1M114.5 261.4h.1M117.2 246.6h.1M88.9 265.4h.1M73.0 266.8h.1M112.4 259.5h.1M128.5 254.5h.1M125.2 252.2h.1M91.4 263.2h.1M72.9 273.8h.1M76.0 273.0h.1M99.8 257.8h.1M102.9 275.9h.1M72.3 263.4h.1M76.1 269.6h.1M125.9 250.9h.1M92.2 265.3h.1M96.5 266.3h.1M103.4 272.8h.1M116.1 259.6h.1M80.0 277.2h.1M94.4 260.8h.1M125.7 245.6h.1M114.4 253.5h.1M95.4 265.1h.1M94.2 248.6h.1M59.3 277.9h.1M133.7 260.8h.1M84.3 266.5h.1M92.2 281.7h.1M86.2 273.7h.1M115.8 256.7h.1M96.0 255.9h.1M79.8 275.8h.1M80.2 270.9h.1M106.7 269.5h.1M70.8 272.6h.1M80.1 264.9h.1M67.8 266.1h.1M135.0 252.4h.1M80.3 268.7h.1M106.0 261.0h.1M76.1 280.2h.1M104.4 252.9h.1M122.2 255.1h.1M102.9 253.5h.1M126.4 254.5h.1M88.2 257.3h.1M118.8 257.0h.1M97.5 273.6h.1M112.0 258.9h.1M74.2 271.3h.1M113.4 250.8h.1M126.6 254.8h.1M92.4 271.1h.1M95.4 254.3h.1M78.1 267.3h.1M91.7 257.6h.1M78.7 265.4h.1M115.3 258.6h.1M115.5 253.4h.1M71.8 266.5h.1M73.4 275.0h.1M81.7 270.4h.1M111.8 254.5h.1M76.0 273.3h.1M70.1 270.2h.1M109.9 257.1h.1M79.1 266.7h.1M90.8 273.0h.1M118.5 258.7h.1M131.5 249.1h.1M110.0 255.7h.1M113.3 259.6h.1M98.6 254.8h.1M106.0 256.3h.1M101.1 257.5h.1M77.5 264.6h.1M69.4 268.8h.1M89.2 260.5h.1M120.6 253.6h.1M79.2 278.5h.1M95.1 274.8h.1M85.5 279.9h.1M109.3 253.5h.1M101.2 257.4h.1M91.8 277.6h.1M96.1 258.8h.1M119.4 270.2h.1M102.9 254.1h.1M76.3 266.1h.1M127.2 255.1h.1M108.9 254.9h.1M79.3 273.9h.1M94.9 258.5h.1M84.4 269.4h.1M70.2 267.3h.1M106.4 250.3h.1M122.0 249.2h.1M123.9 254.7h.1M84.5 275.9h.1M95.9 253.0h.1M325.2 162.8h.1M325.2 119.8h.1M325.2 93.7h.1M325.2 143.3h.1M325.2 96.7h.1M325.2 144.2h.1M325.2 131.1h.1M325.2 114.4h.1M325.2 104.1h.1M325.2 109.8h.1M325.2 162.7h.1M325.2 118.0h.1M325.2 107.2h.1M325.2 145.2h.1M325.2 146.0h.1M325.2 93.0h.1M325.2 96.3h.1M325.2 115.0h.1M325.2 108.2h.1M325.2 94.7h.1M325.2 165.6h.1M325.2 97.1h.1M325.2 108.0h.1M325.2 139.0h.1M325.2 161.7h.1M325.2 121.5h.1" stroke="#0808ee" stroke-width="1.25" stroke-linecap="square"/>
<path d="M178.4 258.1h.1M169.5 238.9h.1M189.2 235.4h.1M189.1 232.9h.1M151.2 250.6h.1M161.8 231.9h.1M148.3 260.1h.1M163.1 249.6h.1M185.8 240.0h.1M178.8 240.2h.1M184.0 233.0h.1M138.2 251.9h.1M148.8 260.3h.1M151.7 255.9h.1M133.9 253.5h.1M179.2 248.5h.1M157.8 260.7h.1M131.9 253.6h.1M196.5 227.9h.1M150.2 256.1h.1M144.4 233.4h.1M159.4 253.0h.1M130.4 250.6h.1M167.9 252.6h.1M168.2 235.9h.1M176.9 229.4h.1M162.1 257.2h.1M177.0 251.2h.1M184.4 245.0h.1M165.0 256.4h.1M144.8 247.5h.1M178.2 221.7h.1M123.5 257.9h.1M182.7 225.9h.1M153.5 253.1h.1M168.0 254.4h.1M163.3 250.1h.1M141.3 257.0h.1M175.5 247.2h.1M180.6 248.3h.1M146.2 259.8h.1M182.7 235.4h.1M176.3 226.7h.1M139.1 255.0h.1M165.4 264.9h.1M137.2 261.7h.1M145.0 239.9h.1M152.2 258.5h.1M143.9 234.9h.1M156.8 236.8h.1M135.9 255.8h.1M147.1 246.0h.1M157.8 258.9h.1M154.8 256.3h.1M195.2 229.3h.1M165.4 251.1h.1M172.6 250.7h.1M141.1 246.4h.1M159.1 227.1h.1M187.0 243.1h.1M156.5 257.6h.1M180.6 253.3h.1M185.4 238.2h.1M197.1 225.8h.1M160.0 259.4h.1M140.5 245.9h.1M147.1 252.3h.1M175.5 243.5h.1M163.5 255.9h.1M136.7 260.6h.1M159.9 238.9h.1M181.8 248.9h.1M121.6 252.6h.1M169.7 226.9h.1M177.2 250.8h.1M138.2 258.7h.1M134.2 252.0h.1M142.5 259.5h.1M145.9 241.7h.1M165.8 258.6h.1M139.5 260.6h.1M162.8 238.6h.1M183.3 228.2h.1M187.8 244.3h.1M181.4 234.3h.1M146.9 254.4h.1M175.9 229.8h.1M157.4 258.4h.1M133.0 249.7h.1M185.0 245.3h.1M168.4 239.9h.1M188.4 242.8h.1M135.3 253.3h.1M181.2 237.6h.1M166.1 223.5h.1M142.3 251.9h.1M179.6 226.6h.1M142.0 260.2h.1M171.0 245.2h.1M158.5 256.7h.1M140.9 258.2h.1M157.4 242.2h.1M144.3 243.3h.1M142.9 256.0h.1M167.8 238.5h.1M158.7 249.4h.1M135.2 252.4h.1M143.9 237.6h.1M138.1 259.5h.1M188.1 234.9h.1M180.5 253.1h.1M146.7 232.3h.1M141.2 247.1h.1M148.0 234.1h.1M153.2 238.8h.1M158.5 232.2h.1M146.2 261.6h.1M157.8 248.3h.1M140.7 247.4h.1M139.3 243.7h.1M133.9 257.9h.1M140.8 260.0h.1M140.1 239.8h.1M179.6 232.9h.1M159.9 253.2h.1M172.7 232.3h.1M171.9 227.9h.1M158.0 237.6h.1M135.0 258.1h.1M153.4 234.1h.1M152.9 239.0h.1M192.0 232.2h.1M151.4 253.3h.1M161.5 231.0h.1M178.6 252.1h.1M144.5 251.9h.1M172.9 248.2h.1M143.1 236.8h.1M181.5 231.6h.1M152.5 252.5h.1M137.1 258.9h.1M155.4 262.1h.1M147.4 261.2h.1M177.1 246.5h.1M155.5 252.4h.1M163.7 253.7h.1M143.1 240.9h.1M174.0 250.8h.1M200.9 234.6h.1M180.5 248.3h.1M141.8 240.5h.1M152.8 262.8h.1M189.1 243.5h.1M168.1 218.9h.1M146.7 234.6h.1M168.3 231.9h.1M139.9 247.2h.1M158.5 228.4h.1M134.2 249.9h.1M149.8 240.9h.1M154.5 247.6h.1M188.0 235.0h.1M152.7 251.0h.1M144.7 260.1h.1M173.5 251.4h.1M184.4 235.9h.1M178.4 237.7h.1M170.6 248.0h.1M190.1 226.2h.1M150.6 239.9h.1M141.9 237.7h.1M143.4 252.9h.1M159.6 233.4h.1M168.1 248.1h.1M157.4 231.6h.1M148.6 260.6h.1M158.9 226.1h.1M146.6 259.6h.1M151.4 262.9h.1M163.8 260.9h.1M165.7 255.1h.1M146.8 267.5h.1M164.9 227.7h.1M202.6 218.5h.1M140.0 244.7h.1M156.2 257.4h.1M176.3 253.6h.1M178.9 229.1h.1M190.5 223.2h.1M190.8 227.6h.1M141.0 243.6h.1M172.7 227.4h.1M192.7 225.8h.1M199.1 233.9h.1M143.3 233.0h.1M173.5 233.1h.1M155.3 241.8h.1M178.1 228.3h.1M195.6 229.3h.1M180.7 225.1h.1M171.9 221.2h.1M149.9 256.5h.1M184.5 242.8h.1M189.5 226.9h.1M150.2 255.1h.1M168.7 223.3h.1M137.5 260.9h.1M163.6 231.3h.1M176.6 255.5h.1M178.0 239.0h.1M185.3 237.9h.1M187.5 234.6h.1M182.1 249.0h.1M140.1 256.5h.1M169.2 247.7h.1M165.2 234.3h.1M150.6 241.9h.1M148.7 229.5h.1M183.3 236.0h.1M180.4 245.2h.1M192.3 227.3h.1M168.2 253.2h.1M191.0 223.6h.1M198.9 229.9h.1M159.2 233.5h.1M159.8 227.7h.1M185.4 239.0h.1M173.6 255.2h.1M156.8 230.9h.1M179.3 221.1h.1M149.4 260.6h.1M170.6 238.8h.1M185.3 233.9h.1M176.7 239.5h.1M173.1 239.2h.1M173.6 254.0h.1M140.0 250.3h.1M158.7 227.1h.1M157.5 248.7h.1M136.5 259.9h.1M163.1 227.9h.1M179.2 236.4h.1M156.4 244.1h.1M172.4 227.5h.1M181.4 242.7h.1M175.2 240.5h.1M168.1 217.9h.1M144.5 232.9h.1M201.9 218.4h.1M177.5 246.1h.1M178.3 251.5h.1M201.3 234.7h.1M179.4 226.7h.1M180.0 223.2h.1M186.9 226.6h.1M167.5 221.8h.1M161.7 221.3h.1M161.1 228.6h.1M175.4 225.6h.1M167.5 224.0h.1M191.8 229.0h.1M138.4 260.8h.1M182.5 225.9h.1M184.7 246.5h.1M166.8 227.0h.1M143.5 234.7h.1M184.4 219.1h.1M186.4 239.8h.1M196.1 230.6h.1M159.1 256.2h.1M184.3 247.8h.1M154.1 259.6h.1M182.9 238.5h.1M181.2 251.6h.1M184.6 241.0h.1M176.6 239.0h.1M156.8 234.8h.1M177.8 248.1h.1M201.0 234.7h.1M180.1 229.0h.1M157.9 238.2h.1M161.2 227.7h.1M146.3 233.2h.1M140.1 235.3h.1M180.9 248.6h.1M142.0 239.4h.1M185.6 231.5h.1M175.5 216.9h.1M146.2 246.3h.1M165.0 247.0h.1M173.4 243.5h.1M172.3 238.7h.1M193.2 226.6h.1M168.6 239.1h.1M137.0 248.7h.1M135.8 256.6h.1M159.5 261.7h.1M172.2 239.2h.1M142.4 238.4h.1M199.7 221.4h.1M194.2 213.1h.1M204.2 221.4h.1M182.4 217.8h.1M158.4 233.5h.1M133.1 254.9h.1M165.9 228.4h.1M164.5 226.2h.1M162.4 263.1h.1M167.5 224.9h.1M167.8 239.5h.1M137.4 245.2h.1M168.8 223.8h.1M161.6 230.9h.1M178.0 253.6h.1M170.1 239.4h.1M148.9 232.8h.1M188.5 227.6h.1M161.5 231.2h.1M175.8 236.9h.1M173.7 257.0h.1M165.4 250.6h.1M160.0 264.6h.1M180.4 230.8h.1M159.9 225.0h.1M179.1 246.7h.1M190.7 221.0h.1M177.7 233.2h.1M174.7 258.0h.1M199.0 228.2h.1M169.6 255.2h.1M172.5 255.0h.1M147.9 232.1h.1M188.0 223.1h.1M159.5 239.8h.1M181.9 224.2h.1M157.1 250.8h.1M164.8 231.0h.1M169.6 220.8h.1M167.8 229.9h.1M178.5 249.1h.1M187.8 238.0h.1M161.9 252.8h.1M180.2 254.0h.1M158.4 256.2h.1M195.1 225.2h.1M190.7 245.0h.1M171.7 252.1h.1M174.6 234.6h.1M154.2 231.5h.1M138.2 255.1h.1M149.6 264.1h.1M150.6 240.4h.1M169.1 217.9h.1M192.7 237.6h.1M143.7 237.0h.1M160.5 249.8h.1M144.0 264.6h.1M183.6 225.0h.1M166.5 227.6h.1M153.2 236.8h.1M194.7 225.2h.1M173.9 221.5h.1M172.3 236.7h.1M154.8 253.2h.1M164.4 230.3h.1M164.7 254.0h.1M190.8 214.5h.1M191.3 226.5h.1M168.8 220.3h.1M145.1 263.9h.1M156.5 226.0h.1M161.4 260.9h.1M171.9 226.1h.1M146.7 258.5h.1M172.4 242.8h.1M145.4 235.3h.1M171.6 218.2h.1M175.3 227.3h.1M173.8 228.9h.1M127.0 248.0h.1M193.4 245.1h.1M164.2 228.9h.1M183.4 222.2h.1M152.8 229.8h.1M172.6 218.4h.1M163.2 229.1h.1M158.9 229.0h.1M171.9 213.0h.1M169.9 220.7h.1M174.7 229.0h.1M186.2 231.3h.1M178.1 249.1h.1M176.4 233.0h.1M167.7 227.5h.1M203.2 218.8h.1M188.5 228.3h.1M163.9 228.3h.1M141.0 259.6h.1M175.0 230.9h.1M176.5 253.7h.1M175.5 219.0h.1M177.0 224.7h.1M151.9 248.1h.1M189.0 220.1h.1M189.7 226.2h.1M139.9 249.4h.1M193.7 223.7h.1M156.6 228.3h.1M183.9 225.5h.1M175.4 219.0h.1M143.1 259.3h.1M167.7 246.0h.1M176.6 223.0h.1M203.3 238.4h.1M178.1 256.6h.1M169.4 220.0h.1M173.8 252.7h.1M169.0 255.8h.1M170.6 233.3h.1M195.8 231.1h.1M188.2 240.1h.1M201.1 231.7h.1M188.2 227.2h.1M181.6 230.6h.1M167.0 218.2h.1M130.7 250.2h.1M191.7 235.8h.1M142.6 254.4h.1M138.6 242.3h.1M183.5 218.5h.1M182.1 228.5h.1M183.1 220.4h.1M192.6 226.5h.1M74.5 274.9h.1M75.0 275.6h.1M75.9 277.2h.1" stroke="#0058ff" stroke-width="1.25" stroke-linecap="square"/>
<path d="M151.4 233.5h.1M151.5 257.2h.1M184.9 237.9h.1M143.4 247.3h.1M145.7 252.5h.1M149.2 256.2h.1M157.9 239.9h.1M146.9 233.2h.1M143.6 258.8h.1M143.9 245.6h.1M148.0 258.0h.1M140.1 249.5h.1M164.8 240.4h.1M178.9 230.0h.1M147.0 247.8h.1M165.8 246.1h.1M152.3 243.9h.1M185.5 240.7h.1M147.2 251.0h.1M148.1 250.9h.1M174.4 252.4h.1M145.8 236.1h.1M160.9 255.5h.1M170.0 252.0h.1M148.5 245.3h.1M158.4 238.3h.1M186.7 241.8h.1M151.3 237.1h.1M158.8 233.1h.1M154.0 253.2h.1M178.8 250.0h.1M168.3 235.2h.1M141.2 250.7h.1M172.1 244.5h.1M173.2 247.6h.1M150.7 260.7h.1M146.1 264.6h.1M129.6 249.8h.1M169.3 243.8h.1M145.1 237.4h.1M149.4 252.2h.1M173.1 248.7h.1M164.5 261.6h.1M181.4 229.4h.1M162.3 234.5h.1M163.8 248.3h.1M149.1 236.2h.1M148.5 252.6h.1M148.2 238.3h.1M148.1 238.3h.1M175.8 228.3h.1M138.2 250.9h.1M185.0 238.1h.1M180.8 234.0h.1M154.2 253.2h.1M146.4 252.8h.1M176.3 225.4h.1M138.6 259.8h.1M169.0 257.1h.1M183.3 236.6h.1M156.1 246.8h.1M160.1 247.6h.1M147.6 244.0h.1M160.8 249.0h.1M140.3 242.1h.1M137.4 250.5h.1M141.3 254.4h.1M154.5 260.5h.1M164.9 257.6h.1M144.3 242.6h.1M180.5 232.7h.1M185.8 239.4h.1M152.2 237.7h.1M140.7 256.3h.1M135.3 252.7h.1M163.1 247.5h.1M175.3 233.4h.1M140.2 246.2h.1M146.2 235.9h.1M177.9 240.9h.1M162.1 233.8h.1M180.4 244.1h.1M185.4 228.2h.1M141.3 252.1h.1M172.2 242.4h.1M134.1 256.7h.1M178.8 249.2h.1M147.9 246.0h.1M148.3 236.0h.1M142.5 239.9h.1M179.2 232.0h.1M163.1 239.2h.1M177.6 225.2h.1M174.4 247.0h.1M187.9 240.9h.1M150.4 261.5h.1M172.3 233.0h.1M161.1 250.9h.1M174.7 236.4h.1M161.6 228.5h.1M175.9 238.9h.1M147.1 258.7h.1M146.8 250.2h.1M144.4 260.6h.1M143.5 257.3h.1M137.5 240.1h.1M165.2 250.8h.1M158.8 236.0h.1M144.8 242.0h.1M149.1 236.7h.1M137.4 255.4h.1M157.4 243.3h.1M147.8 249.8h.1M130.4 252.2h.1M188.1 237.4h.1M178.4 252.0h.1M144.7 249.7h.1M182.4 225.1h.1M171.3 240.9h.1M140.3 239.8h.1M124.3 250.1h.1M142.2 244.5h.1M150.3 253.2h.1M170.1 243.3h.1M175.6 236.0h.1M163.3 239.6h.1M134.4 258.2h.1M151.1 247.8h.1M141.6 235.0h.1M165.0 250.1h.1M190.1 230.8h.1M164.9 257.3h.1M156.4 230.7h.1M177.8 250.2h.1M139.3 257.3h.1M162.2 248.8h.1M175.3 251.1h.1M163.3 229.6h.1M180.1 240.6h.1M163.7 228.8h.1M144.4 238.7h.1M165.1 240.4h.1M171.7 250.1h.1M148.8 238.5h.1M182.0 236.9h.1M149.7 263.6h.1M157.4 238.2h.1M186.6 233.4h.1M182.5 248.5h.1M146.3 254.1h.1M173.0 231.1h.1M155.3 227.4h.1M151.2 247.2h.1M152.2 259.6h.1M161.5 253.9h.1M180.9 249.0h.1M175.8 234.4h.1M160.9 230.9h.1M152.7 233.0h.1M157.3 239.1h.1M141.7 256.9h.1M168.2 240.0h.1M173.9 246.0h.1M188.1 237.7h.1M172.3 252.1h.1M184.2 239.9h.1M148.4 237.9h.1M165.7 255.0h.1M153.8 231.0h.1M153.4 236.8h.1M145.9 250.1h.1M150.7 250.9h.1M171.6 242.5h.1M179.8 247.3h.1M151.3 240.0h.1M166.4 257.4h.1M170.5 240.7h.1M181.0 251.9h.1M162.3 255.5h.1M169.2 221.3h.1M177.9 231.4h.1M163.4 245.0h.1M135.2 254.5h.1M173.2 251.9h.1M157.9 258.4h.1M144.4 254.9h.1M147.4 257.5h.1M175.1 237.6h.1M136.1 251.2h.1M185.4 245.8h.1M164.9 246.5h.1M168.3 248.0h.1M160.7 258.5h.1M137.6 255.4h.1M176.5 246.6h.1M147.3 241.3h.1M150.2 235.1h.1M160.5 228.5h.1M142.1 242.4h.1M151.6 247.5h.1M154.4 245.4h.1M147.0 241.3h.1M153.6 259.8h.1M155.2 243.0h.1M157.1 231.0h.1M178.0 251.4h.1M170.7 249.9h.1M159.1 240.1h.1M163.0 234.1h.1M140.5 246.5h.1M187.6 236.7h.1M141.8 247.1h.1M142.6 255.6h.1M168.2 252.3h.1M140.5 255.5h.1M140.4 243.4h.1M159.8 234.7h.1M176.5 245.0h.1M174.9 229.8h.1M153.0 258.2h.1M173.3 244.1h.1M164.3 233.4h.1M143.9 236.3h.1M162.7 232.0h.1M131.7 250.7h.1M137.0 249.7h.1M145.2 244.1h.1M171.5 240.9h.1M175.9 227.6h.1M156.0 239.1h.1M131.1 253.6h.1M144.6 245.1h.1M156.8 230.5h.1M171.4 237.4h.1M153.6 237.3h.1M157.8 252.9h.1M179.0 225.6h.1M184.8 245.5h.1M154.6 260.0h.1M164.0 227.7h.1M167.5 251.6h.1M167.5 249.6h.1M188.5 239.8h.1M139.6 241.9h.1M182.6 238.8h.1M156.2 261.6h.1M140.1 242.7h.1M181.7 235.0h.1M178.0 236.4h.1M173.6 246.2h.1M166.8 231.4h.1M148.0 262.9h.1M178.5 226.9h.1M156.2 231.4h.1M168.4 244.9h.1M172.1 244.8h.1M142.3 245.4h.1M142.4 250.9h.1M135.6 256.9h.1M182.1 235.7h.1M179.6 225.5h.1M154.5 255.6h.1M174.9 229.1h.1M151.8 259.7h.1M175.5 237.1h.1M168.4 249.9h.1M183.3 243.5h.1M169.7 217.9h.1M137.5 250.7h.1M162.9 230.1h.1M168.2 230.5h.1M135.2 254.9h.1M168.1 230.0h.1M161.5 230.5h.1M167.1 221.7h.1M139.2 252.1h.1M151.6 236.1h.1M171.9 217.3h.1M147.5 253.0h.1M178.4 233.8h.1M142.2 248.2h.1M192.5 232.9h.1M182.5 240.5h.1M178.4 230.2h.1M167.1 248.5h.1M154.0 236.6h.1M153.4 236.7h.1M150.7 246.8h.1M171.2 238.6h.1M173.0 237.4h.1M182.0 238.4h.1M154.1 230.3h.1M164.6 239.2h.1M167.1 232.9h.1M143.2 248.3h.1M161.0 261.7h.1M176.8 244.6h.1M202.3 236.3h.1M153.4 257.8h.1M181.8 246.2h.1M185.1 245.0h.1M179.2 238.1h.1M151.0 263.8h.1M175.1 227.9h.1M164.0 223.4h.1M161.2 252.7h.1M143.6 236.6h.1M146.3 236.5h.1M181.6 227.9h.1M140.3 243.5h.1M189.6 243.5h.1M142.9 261.3h.1M148.0 239.1h.1M146.8 246.9h.1M170.5 229.1h.1M154.5 234.8h.1M177.6 242.2h.1M172.6 219.6h.1M149.0 258.9h.1M191.7 223.6h.1M152.3 233.0h.1M173.4 219.5h.1M186.2 237.6h.1M172.5 230.2h.1M168.1 229.8h.1M178.1 225.7h.1M186.8 232.5h.1M179.5 237.4h.1M182.8 247.7h.1M160.4 230.7h.1M184.6 232.5h.1M187.3 236.0h.1M183.4 244.9h.1M151.5 261.9h.1M175.4 227.1h.1M188.5 229.3h.1M175.4 233.4h.1M143.5 256.9h.1M161.9 254.0h.1M172.3 217.4h.1M139.3 250.1h.1M172.0 250.1h.1M178.6 219.4h.1M168.6 254.8h.1M173.1 234.0h.1M163.8 238.1h.1M133.8 257.0h.1M161.3 228.8h.1M172.5 256.2h.1M178.9 240.4h.1M158.1 245.0h.1M167.0 242.0h.1M170.5 225.2h.1M144.7 259.6h.1M178.6 255.1h.1M144.4 259.7h.1M168.2 229.2h.1M176.8 244.3h.1M168.3 226.8h.1M151.4 255.7h.1M164.9 228.1h.1M180.6 247.4h.1M179.0 239.0h.1M171.8 225.4h.1M173.1 242.5h.1M160.1 236.8h.1M177.6 240.1h.1M147.4 239.9h.1M174.2 235.8h.1M166.7 254.6h.1M183.6 241.9h.1M175.8 239.0h.1M188.4 245.5h.1M182.6 234.3h.1M144.5 243.4h.1M155.9 243.1h.1M167.2 226.1h.1M187.8 240.3h.1M186.8 241.8h.1M175.1 222.9h.1M176.6 222.0h.1M172.6 253.1h.1M171.1 225.1h.1M149.4 259.1h.1M162.0 233.9h.1M162.2 226.1h.1M159.8 231.9h.1M184.1 239.5h.1M178.3 237.4h.1M177.8 242.8h.1M157.0 236.9h.1M176.3 245.5h.1M156.0 260.2h.1M160.7 248.6h.1M174.5 226.0h.1M136.6 249.4h.1M144.5 233.7h.1M142.7 235.8h.1M162.2 233.1h.1M131.5 255.5h.1M161.4 238.6h.1M177.1 248.2h.1M183.5 244.5h.1M142.6 236.9h.1M153.2 237.5h.1M171.4 236.6h.1M169.4 243.4h.1M163.4 231.9h.1M141.2 252.8h.1M181.1 242.5h.1M181.0 255.4h.1M180.5 228.0h.1M148.0 236.9h.1M167.5 252.1h.1M164.0 226.2h.1M157.2 235.7h.1M141.0 239.5h.1M175.6 224.0h.1M151.1 242.6h.1M190.2 238.5h.1M170.4 226.4h.1M180.1 224.6h.1M187.0 228.5h.1M186.3 236.7h.1M178.2 244.6h.1M155.1 254.6h.1M150.9 256.6h.1M156.0 240.9h.1M183.9 244.9h.1M184.0 242.1h.1M183.0 239.5h.1M145.3 261.0h.1M177.7 224.4h.1M176.2 221.6h.1M164.1 235.4h.1M171.1 230.8h.1M148.2 260.9h.1M140.5 258.6h.1M178.9 231.3h.1M190.1 237.4h.1M164.7 248.7h.1M164.2 255.9h.1M185.7 230.8h.1M58.4 280.6h.1M71.8 274.7h.1M73.5 278.4h.1M73.4 279.3h.1M72.4 280.0h.1M71.9 274.4h.1M69.1 276.0h.1M69.3 282.0h.1M130.9 254.0h.1M134.3 259.0h.1" stroke="#00d0f0" stroke-width="1.25" stroke-linecap="square"/>
<path d="M164.2 251.3h.1M144.3 253.3h.1M157.3 239.5h.1M140.5 255.7h.1M163.4 254.9h.1M149.2 258.7h.1M165.2 236.6h.1M157.7 249.7h.1M169.3 239.0h.1M174.5 249.3h.1M149.3 237.3h.1M148.7 237.6h.1M144.2 245.4h.1M170.5 241.6h.1M163.5 238.2h.1M162.4 252.3h.1M147.6 239.0h.1M143.4 257.9h.1M176.2 237.0h.1M153.4 236.0h.1M161.9 250.0h.1M162.2 237.7h.1M143.6 259.2h.1M175.2 227.3h.1M162.2 250.1h.1M140.3 251.6h.1M152.9 237.7h.1M183.6 233.5h.1M140.6 247.1h.1M169.1 250.4h.1M136.5 249.7h.1M168.3 244.9h.1M152.2 257.9h.1M180.3 238.5h.1M164.5 243.4h.1M158.4 240.4h.1M142.6 250.7h.1M157.2 241.9h.1M175.6 224.8h.1M156.6 250.1h.1M137.5 258.3h.1M145.7 235.8h.1M147.0 249.0h.1M155.1 233.3h.1M176.5 242.5h.1M165.0 241.3h.1M141.1 251.7h.1M154.9 238.4h.1M175.2 233.7h.1M155.6 249.6h.1M161.8 251.9h.1M170.7 251.5h.1M169.1 227.6h.1M147.1 250.8h.1M172.3 234.6h.1M172.8 255.4h.1M173.7 244.3h.1M160.3 234.6h.1M185.4 238.2h.1M177.7 251.9h.1M158.5 244.1h.1M173.2 233.5h.1M161.7 239.9h.1M139.7 251.6h.1M143.9 245.9h.1M175.2 238.9h.1M182.6 239.0h.1M163.9 247.5h.1M168.6 241.6h.1M161.9 242.9h.1M136.9 253.5h.1M145.6 236.2h.1M164.1 239.2h.1M163.0 254.9h.1M184.9 240.2h.1M171.2 249.3h.1M180.0 240.5h.1M148.4 244.8h.1M151.1 257.8h.1M141.7 257.9h.1M147.8 242.4h.1M141.5 254.7h.1M173.2 244.1h.1M141.1 243.1h.1M166.4 254.9h.1M159.7 249.5h.1M172.1 244.2h.1M162.8 247.4h.1M150.9 251.0h.1M155.0 253.7h.1M149.7 255.6h.1M158.8 230.9h.1M171.1 233.7h.1M143.8 249.5h.1M137.1 242.2h.1M142.6 248.1h.1M143.1 244.3h.1M178.2 237.8h.1M155.9 254.2h.1M147.4 247.1h.1M147.4 241.7h.1M155.5 246.3h.1M149.4 240.1h.1M181.8 249.3h.1M177.8 248.5h.1M176.2 238.6h.1M165.8 245.8h.1M146.2 247.1h.1M143.4 249.4h.1M156.4 247.9h.1M166.9 249.4h.1M148.2 261.9h.1M161.9 241.4h.1M169.1 239.9h.1M148.5 256.7h.1M154.6 246.0h.1M152.6 251.4h.1M148.1 237.6h.1M152.1 237.4h.1M174.7 239.2h.1M175.3 243.3h.1M152.9 253.8h.1M162.1 237.1h.1M187.4 240.6h.1M144.0 261.5h.1M153.0 257.0h.1M147.7 261.7h.1M137.1 253.5h.1M145.0 248.0h.1M145.5 252.2h.1M181.8 239.6h.1M137.9 256.5h.1M153.8 260.7h.1M156.1 239.5h.1M136.9 255.1h.1M157.3 240.9h.1M164.7 236.3h.1M146.2 245.6h.1M142.3 248.6h.1M151.2 246.5h.1M149.8 248.1h.1M156.2 252.3h.1M185.0 229.5h.1M170.2 241.9h.1M175.7 247.6h.1M134.3 252.9h.1M166.5 227.4h.1M152.9 254.9h.1M154.3 244.7h.1M179.0 222.7h.1M179.2 231.2h.1M145.0 236.4h.1M151.4 251.7h.1M155.9 235.0h.1M173.3 236.7h.1M159.9 242.8h.1M165.3 245.2h.1M141.0 256.8h.1M166.7 251.8h.1M147.4 255.8h.1M147.8 260.4h.1M185.3 236.3h.1M147.7 254.4h.1M169.5 242.0h.1M143.7 256.4h.1M181.0 239.3h.1M161.9 249.2h.1M148.2 243.5h.1M142.4 258.4h.1M139.6 258.2h.1M170.8 249.9h.1M159.1 257.8h.1M152.4 239.8h.1M151.7 248.9h.1M137.6 253.5h.1M162.0 248.7h.1M161.8 228.4h.1M144.7 240.5h.1M150.3 235.2h.1M167.9 241.8h.1M164.6 228.5h.1M144.5 256.7h.1M165.4 236.5h.1M145.2 236.3h.1M171.1 226.4h.1M172.1 243.3h.1M162.0 254.4h.1M157.0 236.3h.1M169.0 238.8h.1M176.2 231.3h.1M166.8 241.8h.1M159.0 254.3h.1M143.4 247.4h.1M179.3 238.6h.1M184.4 234.6h.1M142.6 250.5h.1M150.8 236.3h.1M179.1 251.3h.1M173.1 243.9h.1M145.6 254.2h.1M173.7 230.4h.1M179.0 231.6h.1M153.4 254.0h.1M174.9 240.9h.1M176.9 247.0h.1M172.9 241.1h.1M183.1 234.7h.1M152.8 255.9h.1M151.2 257.7h.1M146.8 247.7h.1M172.4 252.7h.1M159.1 242.9h.1M160.3 231.0h.1M156.5 255.7h.1M158.0 247.6h.1M172.9 247.9h.1M157.4 248.3h.1M167.1 247.0h.1M143.4 253.0h.1M148.4 240.2h.1M161.2 242.8h.1M153.4 256.7h.1M178.7 227.2h.1M143.0 237.1h.1M167.9 249.2h.1M174.6 253.0h.1M164.5 250.0h.1M152.8 246.5h.1M175.0 242.5h.1M160.2 229.7h.1M143.1 248.3h.1M171.5 228.9h.1M179.8 239.1h.1M141.4 254.5h.1M158.1 249.8h.1M145.3 241.6h.1M164.4 252.5h.1M143.8 240.5h.1M177.6 242.2h.1M156.7 258.3h.1M149.6 251.5h.1M166.4 249.0h.1M164.5 236.5h.1M148.6 257.4h.1M173.3 251.8h.1M160.5 240.5h.1M174.2 238.4h.1M148.7 238.2h.1M150.5 261.5h.1M174.5 238.7h.1M138.6 253.0h.1M138.8 255.0h.1M149.6 238.1h.1M142.2 252.0h.1M172.3 250.4h.1M142.2 244.8h.1M155.8 252.2h.1M147.1 242.5h.1M154.3 233.7h.1M182.2 236.3h.1M134.7 258.0h.1M162.4 250.8h.1M172.5 235.7h.1M178.8 241.7h.1M153.1 254.9h.1M170.1 229.6h.1M170.3 245.7h.1M149.0 254.8h.1M187.1 240.4h.1M174.9 227.9h.1M148.1 238.6h.1M161.8 236.1h.1M163.3 238.0h.1M158.9 235.1h.1M143.5 243.0h.1M153.9 245.8h.1M162.2 241.9h.1M173.3 236.8h.1M156.4 235.7h.1M183.1 238.3h.1M169.5 226.5h.1M157.0 256.5h.1M184.3 239.1h.1M160.9 254.3h.1M168.0 238.7h.1M157.5 245.0h.1M159.6 251.8h.1M153.4 241.2h.1M175.7 235.3h.1M181.1 241.6h.1M157.1 232.9h.1M157.5 250.0h.1M160.3 242.7h.1M153.6 241.7h.1M157.7 234.7h.1M166.9 236.4h.1M172.0 232.4h.1M179.2 235.9h.1M146.3 245.2h.1M145.1 261.0h.1M149.5 261.4h.1M166.7 243.3h.1M147.1 260.3h.1M158.9 236.7h.1M157.9 232.8h.1M164.0 237.3h.1M165.5 228.2h.1M175.6 226.3h.1M169.3 230.3h.1M137.9 255.8h.1M163.0 239.0h.1M143.2 246.6h.1M152.6 246.0h.1M187.5 241.6h.1M160.3 249.5h.1M183.3 238.9h.1M177.1 242.4h.1M167.9 244.5h.1M151.3 241.2h.1M152.3 260.1h.1M152.0 241.5h.1M173.4 238.4h.1M170.4 238.8h.1M176.7 252.2h.1M157.0 253.1h.1M173.4 226.9h.1M159.9 232.9h.1M172.2 241.9h.1M166.8 236.0h.1M172.2 230.5h.1M170.0 238.7h.1M165.1 253.0h.1M176.1 244.8h.1M176.1 251.5h.1M170.3 224.4h.1M168.9 231.1h.1M154.2 231.8h.1M149.9 251.9h.1M181.4 237.8h.1M151.8 247.1h.1M186.3 232.3h.1M151.2 240.7h.1M149.3 250.4h.1M174.1 243.5h.1M188.5 238.2h.1M174.3 244.0h.1M166.9 249.1h.1M148.8 236.4h.1M171.2 233.1h.1M171.1 231.1h.1M169.8 225.8h.1M161.3 253.5h.1M142.5 245.4h.1M180.7 245.4h.1M171.8 245.6h.1M169.1 228.2h.1M141.3 255.0h.1M178.4 238.2h.1M170.4 237.1h.1M182.6 241.9h.1M149.2 249.9h.1M185.6 237.3h.1M168.4 250.8h.1M155.0 248.0h.1M139.4 253.1h.1M143.5 248.5h.1M162.1 255.0h.1M181.4 237.5h.1M175.3 233.1h.1M142.8 256.9h.1M143.7 243.3h.1M143.0 248.0h.1M158.6 255.3h.1M178.5 241.0h.1M147.1 241.3h.1M142.9 246.5h.1M141.1 258.8h.1M171.7 236.8h.1M162.6 237.4h.1M181.0 239.6h.1M155.0 251.3h.1M180.8 230.6h.1M147.1 258.5h.1M170.0 239.2h.1M163.6 252.5h.1M172.7 252.4h.1M187.0 235.4h.1M184.2 242.6h.1M169.0 232.2h.1M155.0 234.7h.1M137.7 254.6h.1M174.2 232.3h.1M170.9 232.1h.1M169.8 247.3h.1M172.5 252.2h.1M185.3 238.0h.1M175.6 229.1h.1M140.4 257.9h.1M137.8 253.6h.1M162.9 233.4h.1M186.8 240.3h.1M178.9 248.1h.1M171.9 231.3h.1M174.4 233.4h.1M142.8 259.8h.1M167.1 251.0h.1M157.2 251.5h.1M160.3 249.9h.1M153.3 254.4h.1M147.5 247.6h.1M150.3 246.5h.1M141.1 256.9h.1M152.3 259.4h.1M150.1 238.9h.1M155.7 230.2h.1M176.9 230.4h.1M152.4 246.5h.1M161.7 233.2h.1M186.9 236.6h.1M160.7 247.9h.1M180.0 245.0h.1M175.8 245.9h.1M173.4 252.1h.1M175.9 225.7h.1M172.4 235.8h.1M166.7 248.2h.1M174.5 231.8h.1M161.3 244.1h.1M188.7 240.1h.1M168.2 234.5h.1M174.7 241.0h.1M174.5 227.9h.1M183.4 231.7h.1M162.9 230.6h.1M164.6 250.5h.1M139.3 247.4h.1M163.2 234.4h.1M187.5 237.7h.1M168.6 236.7h.1M169.4 237.6h.1M160.0 257.7h.1M160.6 239.9h.1M166.3 250.3h.1M136.2 257.4h.1M143.1 242.9h.1M165.5 245.5h.1M163.1 238.1h.1M177.7 248.9h.1M170.3 234.1h.1M160.4 259.1h.1M179.1 236.4h.1M157.6 249.3h.1M143.3 246.2h.1M172.1 238.7h.1M137.5 250.5h.1M177.3 233.5h.1M164.9 234.3h.1M180.9 243.4h.1M187.6 239.2h.1M154.2 235.9h.1M175.0 248.8h.1M173.5 227.2h.1M163.9 246.1h.1M180.7 239.8h.1M176.9 241.2h.1M180.7 239.6h.1M170.7 221.9h.1M180.7 231.7h.1M167.9 233.2h.1M158.9 255.0h.1M176.5 255.7h.1M149.3 231.6h.1M167.6 232.8h.1M172.7 249.5h.1M173.0 248.6h.1M151.6 247.6h.1M176.3 249.1h.1M159.3 245.5h.1M159.1 257.0h.1M148.7 259.8h.1M182.4 242.1h.1M160.3 250.4h.1M162.7 232.2h.1M178.6 228.5h.1M169.3 246.5h.1M182.6 239.6h.1M165.7 247.9h.1M175.6 255.8h.1M178.4 229.3h.1M144.5 243.6h.1M172.2 255.7h.1M170.9 237.4h.1M67.7 276.5h.1M63.4 282.5h.1M72.0 278.1h.1M60.7 281.5h.1M60.4 281.5h.1M72.6 278.2h.1M59.9 281.4h.1M58.7 282.6h.1M73.3 275.5h.1M59.6 280.7h.1M63.3 278.8h.1M62.5 280.3h.1M72.8 276.0h.1M71.7 279.0h.1M70.9 276.2h.1M61.2 282.8h.1M72.0 276.7h.1M62.6 281.7h.1M73.0 279.3h.1M70.8 279.5h.1M62.8 278.0h.1M73.0 278.3h.1M69.5 280.3h.1M74.0 276.6h.1M73.0 276.4h.1M69.4 276.5h.1M58.6 282.4h.1M66.8 281.6h.1M73.6 276.3h.1M70.3 280.4h.1M63.2 279.7h.1M71.3 278.9h.1M65.9 276.6h.1M61.1 282.3h.1M65.2 282.7h.1M66.6 277.1h.1M73.8 275.4h.1M72.6 278.2h.1M66.1 277.3h.1M60.2 280.6h.1M63.8 280.7h.1M74.6 276.8h.1M61.9 282.5h.1M66.5 277.2h.1M67.1 276.7h.1M62.4 280.1h.1M69.2 281.2h.1M66.4 275.4h.1M61.8 280.9h.1M67.8 282.3h.1M69.8 280.5h.1M66.0 281.6h.1M66.6 276.8h.1M74.4 277.1h.1M61.5 279.9h.1M71.7 277.9h.1M62.3 278.3h.1M72.4 278.5h.1M65.5 276.1h.1M64.9 282.3h.1M72.5 276.4h.1M58.2 281.7h.1M61.5 281.1h.1M73.8 278.0h.1M60.9 282.5h.1M71.9 278.6h.1M74.5 275.7h.1M61.9 279.4h.1M70.7 280.6h.1M65.2 277.9h.1M60.6 282.9h.1M68.8 280.8h.1M59.4 281.0h.1M70.4 275.7h.1M69.2 280.5h.1M69.6 274.7h.1M69.2 277.0h.1M70.2 275.7h.1" stroke="#18e060" stroke-width="1.25" stroke-linecap="square"/>
<path d="M144.1 255.3h.1M153.1 238.1h.1M172.5 251.0h.1M147.8 245.2h.1M152.3 247.1h.1M150.4 248.6h.1M164.1 237.1h.1M140.9 238.1h.1M146.8 256.0h.1M153.4 248.2h.1M164.9 241.7h.1M162.0 243.7h.1M157.5 247.9h.1M171.2 235.6h.1M153.3 249.2h.1M169.6 250.8h.1M146.7 253.4h.1M158.4 244.5h.1M148.4 251.8h.1M153.6 245.7h.1M172.3 243.0h.1M160.2 251.4h.1M158.8 235.9h.1M171.5 248.5h.1M158.9 234.3h.1M152.6 249.7h.1M152.0 256.1h.1M143.9 255.7h.1M154.6 239.1h.1M163.3 233.6h.1M165.8 251.8h.1M154.8 241.3h.1M160.7 239.1h.1M151.3 245.7h.1M177.7 242.8h.1M183.8 239.1h.1M148.2 251.7h.1M173.6 241.9h.1M170.9 246.6h.1M152.8 244.9h.1M164.0 231.6h.1M145.8 243.4h.1M153.5 246.0h.1M152.4 248.6h.1M161.4 239.4h.1M155.0 234.4h.1M149.5 249.0h.1M175.7 241.1h.1M143.4 246.7h.1M179.1 237.4h.1M157.4 243.4h.1M157.8 254.7h.1M170.8 242.4h.1M159.2 239.7h.1M169.5 247.2h.1M172.8 240.6h.1M179.7 242.7h.1M149.6 251.4h.1M143.5 251.7h.1M176.2 248.4h.1M164.7 238.2h.1M150.4 255.2h.1M160.0 249.6h.1M153.8 253.6h.1M145.3 242.0h.1M165.6 252.2h.1M144.2 241.5h.1M151.9 249.4h.1M157.7 247.9h.1M148.1 242.3h.1M161.0 251.9h.1M159.1 245.3h.1M153.7 243.6h.1M160.6 251.5h.1M164.5 248.9h.1M157.7 244.1h.1M160.8 235.0h.1M162.8 247.3h.1M146.5 256.6h.1M153.9 251.7h.1M175.2 235.2h.1M144.5 260.6h.1M167.5 250.0h.1M167.0 249.6h.1M164.4 247.4h.1M153.1 247.2h.1M161.9 238.1h.1M148.9 253.9h.1M156.4 251.1h.1M144.0 254.0h.1M147.3 251.5h.1M166.0 247.9h.1M161.8 254.1h.1M171.4 238.8h.1M153.2 251.7h.1M152.1 244.8h.1M179.0 243.2h.1M150.3 248.5h.1M162.0 250.5h.1M172.4 242.9h.1M144.6 259.6h.1M167.9 244.6h.1M156.6 236.9h.1M161.7 244.0h.1M165.1 247.3h.1M149.5 237.3h.1M163.2 234.2h.1M143.6 261.0h.1M169.2 245.2h.1M162.6 252.5h.1M164.5 236.4h.1M170.0 241.3h.1M161.1 232.5h.1M153.2 247.0h.1M154.0 242.7h.1M150.8 252.1h.1M157.3 253.7h.1M176.2 243.6h.1M174.9 242.9h.1M157.8 249.6h.1M140.9 248.2h.1M172.6 224.6h.1M164.7 238.9h.1M166.9 246.8h.1M161.3 243.6h.1M155.8 243.1h.1M145.2 254.3h.1M155.1 234.6h.1M145.8 244.3h.1M161.3 251.7h.1M143.3 247.1h.1M151.0 244.8h.1M163.6 239.5h.1M147.6 250.0h.1M161.3 241.0h.1M167.4 245.1h.1M180.5 246.3h.1M154.8 254.6h.1M174.4 244.2h.1M175.5 239.6h.1M171.0 238.0h.1M156.5 238.3h.1M156.8 253.8h.1M159.6 233.3h.1M153.8 245.2h.1M153.4 252.7h.1M156.8 244.0h.1M177.7 252.7h.1M157.9 246.8h.1M154.1 245.5h.1M150.9 253.1h.1M170.5 237.6h.1M156.2 244.5h.1M155.2 256.6h.1M175.3 229.9h.1M154.2 248.1h.1M157.5 238.0h.1M147.8 256.1h.1M149.5 251.4h.1M163.0 235.5h.1M146.5 256.1h.1M174.3 228.6h.1M152.1 240.4h.1M170.8 240.4h.1M161.4 240.9h.1M169.5 241.6h.1M184.0 237.5h.1M167.1 249.5h.1M149.5 249.6h.1M142.6 241.5h.1M170.3 227.7h.1M145.8 249.4h.1M164.8 247.1h.1M158.9 238.2h.1M152.4 249.2h.1M160.7 238.6h.1M155.4 232.7h.1M174.8 227.0h.1M184.2 243.0h.1M145.5 258.1h.1M153.2 248.1h.1M165.9 244.0h.1M149.2 253.4h.1M178.9 241.3h.1M144.2 256.9h.1M183.5 235.5h.1M146.3 258.7h.1M152.7 251.0h.1M149.2 248.9h.1M162.3 241.3h.1M166.3 247.5h.1M150.1 239.3h.1M162.1 238.8h.1M150.7 238.8h.1M160.9 246.6h.1M164.2 250.3h.1M153.8 256.7h.1M153.7 246.7h.1M175.5 231.4h.1M143.2 240.8h.1M167.1 238.7h.1M151.4 259.6h.1M166.1 241.0h.1M158.4 246.2h.1M171.5 243.3h.1M152.6 250.3h.1M172.4 228.3h.1M156.7 234.4h.1M161.4 248.4h.1M151.5 247.9h.1M175.0 245.0h.1M167.2 247.5h.1M143.5 254.3h.1M170.4 242.8h.1M174.4 249.0h.1M147.7 246.6h.1M165.4 238.7h.1M159.4 243.8h.1M167.9 241.5h.1M166.9 235.9h.1M168.3 238.8h.1M151.8 243.5h.1M173.8 235.4h.1M150.7 257.3h.1M159.3 241.9h.1M163.1 235.9h.1M167.0 242.4h.1M144.7 246.6h.1M153.8 239.3h.1M163.7 245.9h.1M162.9 240.5h.1M184.7 237.3h.1M165.1 243.7h.1M162.2 235.1h.1M148.4 239.3h.1M177.0 233.5h.1M157.7 253.1h.1M177.9 248.6h.1M158.7 240.9h.1M148.8 243.9h.1M154.1 243.7h.1M149.7 239.8h.1M166.6 231.3h.1M173.2 231.2h.1M145.7 249.4h.1M165.2 240.8h.1M176.3 238.9h.1M161.1 253.8h.1M140.8 253.4h.1M159.9 235.2h.1M149.6 256.3h.1M160.9 236.3h.1M138.6 253.0h.1M154.1 248.1h.1M163.3 231.6h.1M160.9 243.6h.1M147.4 234.6h.1M170.4 241.9h.1M151.4 256.3h.1M132.4 254.3h.1M160.9 235.4h.1M156.2 238.0h.1M159.6 240.6h.1M179.3 239.9h.1M146.0 254.2h.1M161.4 250.8h.1M174.8 229.3h.1M160.4 235.9h.1M162.5 252.2h.1M151.5 244.9h.1M162.9 245.5h.1M145.1 242.0h.1M161.0 246.5h.1M155.5 251.2h.1M162.3 234.1h.1M146.8 257.1h.1M156.1 237.7h.1M160.0 254.4h.1M155.5 245.1h.1M161.9 236.8h.1M162.1 239.6h.1M161.5 242.8h.1M153.6 241.3h.1M155.6 244.1h.1M179.2 238.8h.1M146.2 235.8h.1M168.2 241.4h.1M174.5 248.5h.1M164.3 236.5h.1M171.5 243.9h.1M149.5 236.8h.1M143.6 254.2h.1M163.4 253.2h.1M177.6 242.3h.1M139.7 246.3h.1M153.2 253.8h.1M165.0 236.8h.1M144.2 245.6h.1M159.4 236.3h.1M155.9 233.1h.1M161.8 242.0h.1M151.0 258.2h.1M173.3 249.6h.1M144.8 245.6h.1M149.9 237.5h.1M169.8 244.8h.1M137.9 258.4h.1M165.6 244.5h.1M166.0 230.5h.1M145.7 255.8h.1M154.9 239.9h.1M173.3 246.1h.1M155.3 241.1h.1M166.9 252.3h.1M164.4 247.5h.1M152.9 246.1h.1M166.1 243.7h.1M166.6 247.1h.1M158.4 255.0h.1M155.0 242.5h.1M176.8 240.8h.1M178.2 237.7h.1M175.5 245.3h.1M155.7 248.6h.1M152.6 243.3h.1M148.8 245.2h.1M156.9 253.1h.1M152.9 254.1h.1M147.9 240.2h.1M166.5 249.5h.1M169.4 225.7h.1M177.3 241.3h.1M171.7 248.8h.1M166.4 243.2h.1M157.0 242.6h.1M152.5 248.0h.1M143.2 253.1h.1M168.1 242.2h.1M144.0 246.0h.1M160.7 246.8h.1M153.1 235.6h.1M157.7 246.6h.1M162.8 237.8h.1M160.5 241.6h.1M147.7 260.8h.1M168.1 241.1h.1M169.3 237.7h.1M166.8 233.0h.1M167.3 227.0h.1M159.9 235.1h.1M155.4 247.1h.1M174.9 242.0h.1M173.2 246.9h.1M163.6 242.4h.1M149.4 236.7h.1M150.6 253.1h.1M158.1 246.3h.1M167.2 243.7h.1M168.7 248.4h.1M172.1 247.7h.1M147.1 242.3h.1M164.8 236.1h.1M161.3 240.0h.1M166.8 233.6h.1M182.1 244.1h.1M159.6 241.7h.1M175.5 242.8h.1M160.3 237.6h.1M159.0 233.4h.1M148.6 254.5h.1M171.7 248.6h.1M161.7 238.9h.1M153.5 246.5h.1M174.4 228.7h.1M179.7 232.7h.1M162.6 245.4h.1M171.4 251.3h.1M178.2 238.6h.1M150.1 241.5h.1M165.8 241.9h.1M164.0 246.5h.1M146.2 250.1h.1M171.4 244.1h.1M71.3 277.0h.1M64.4 278.5h.1M66.6 280.7h.1M65.7 278.1h.1M67.3 277.3h.1M67.8 279.3h.1M63.8 280.7h.1M64.1 281.4h.1M70.0 276.9h.1M61.2 280.4h.1M66.7 280.6h.1M64.2 280.1h.1M68.7 279.1h.1M63.7 281.2h.1M63.5 281.3h.1M61.4 281.9h.1M71.8 278.0h.1M71.5 279.3h.1M62.0 281.8h.1M60.9 280.2h.1M69.0 279.0h.1M64.1 281.4h.1M62.8 281.9h.1M71.6 277.9h.1M66.7 280.3h.1M66.4 278.1h.1M70.9 278.3h.1M62.6 279.7h.1M69.1 279.3h.1M71.2 276.9h.1M68.5 279.8h.1M66.2 278.8h.1M68.2 280.7h.1M65.9 281.0h.1M73.8 276.0h.1M62.6 279.2h.1M67.5 282.2h.1M68.2 279.8h.1M70.4 277.5h.1M65.4 278.5h.1M67.9 280.6h.1M62.6 280.4h.1M66.0 280.0h.1M68.5 277.4h.1M66.6 279.0h.1M69.9 278.1h.1M65.5 278.8h.1M65.5 281.0h.1M65.8 281.1h.1M62.3 280.3h.1M67.3 279.0h.1M64.9 278.8h.1M70.8 277.7h.1M66.3 280.5h.1M68.4 277.3h.1M69.9 277.2h.1M68.8 278.0h.1M63.8 278.6h.1M72.2 277.9h.1M69.8 279.9h.1M66.0 277.1h.1M65.2 281.5h.1M68.2 277.2h.1M62.5 280.6h.1M72.3 276.2h.1M67.4 277.3h.1M68.4 279.0h.1M65.1 280.5h.1M64.8 280.0h.1M69.4 279.1h.1M67.6 280.7h.1M66.9 279.0h.1M68.0 277.6h.1M71.2 278.4h.1M70.9 277.7h.1M71.5 278.0h.1M64.3 281.4h.1M62.4 279.9h.1M62.2 282.2h.1M64.7 281.8h.1" stroke="#90f000" stroke-width="1.25" stroke-linecap="square"/>
<path d="M146.1 251.8h.1M149.3 247.2h.1M143.0 245.1h.1M148.2 251.5h.1M178.7 233.8h.1M163.6 241.6h.1M165.8 246.6h.1M154.5 241.6h.1M150.8 251.1h.1M149.3 243.8h.1M160.9 242.3h.1M168.4 240.6h.1M170.4 240.7h.1M147.8 254.7h.1M150.8 249.8h.1M150.2 255.5h.1M147.1 253.2h.1M158.9 240.7h.1M151.0 251.0h.1M142.5 249.3h.1M149.7 255.9h.1M150.8 238.3h.1M155.2 248.7h.1M152.8 251.9h.1M150.7 246.3h.1M144.5 248.1h.1M164.9 243.1h.1M146.9 252.6h.1M146.4 248.8h.1M166.8 240.1h.1M174.4 225.5h.1M157.9 249.6h.1M145.0 250.0h.1M158.6 236.2h.1M152.7 249.1h.1M153.2 250.8h.1M161.2 243.3h.1M149.7 245.2h.1M150.3 241.2h.1M149.1 248.8h.1M160.8 241.8h.1M167.4 243.3h.1M163.0 240.7h.1M184.0 239.1h.1M164.8 242.0h.1M151.0 245.2h.1M164.8 241.0h.1M159.7 244.1h.1M169.1 244.5h.1M168.5 243.7h.1M159.7 243.1h.1M169.8 244.4h.1M150.9 245.4h.1M147.3 243.8h.1M145.9 255.0h.1M142.5 254.2h.1M153.8 244.8h.1M147.4 252.9h.1M157.8 242.9h.1M162.6 243.7h.1M160.7 242.3h.1M149.3 250.6h.1M146.5 242.9h.1M156.0 240.5h.1M145.9 255.0h.1M154.1 245.2h.1M160.0 242.2h.1M167.8 244.3h.1M159.2 240.4h.1M163.3 241.8h.1M162.5 236.2h.1M147.4 255.3h.1M161.4 242.3h.1M150.2 247.4h.1M166.3 242.1h.1M150.1 247.8h.1M154.2 247.9h.1M146.8 255.4h.1M159.8 251.9h.1M138.8 252.4h.1M156.9 247.9h.1M150.0 247.5h.1M150.6 254.0h.1M143.2 240.7h.1M150.1 247.7h.1M152.6 246.8h.1M172.1 244.7h.1M159.8 238.9h.1M148.5 245.4h.1M157.9 242.0h.1M162.3 245.3h.1M155.0 239.5h.1M161.4 248.1h.1M158.8 247.1h.1M165.5 241.8h.1M147.2 248.1h.1M164.3 239.0h.1M149.9 249.7h.1M162.4 241.7h.1M168.6 245.8h.1M157.6 249.7h.1M157.0 253.7h.1M163.0 248.5h.1M154.0 255.2h.1M143.8 250.5h.1M163.7 249.3h.1M160.9 242.6h.1M147.0 250.3h.1M148.4 245.5h.1M146.2 245.6h.1M161.0 237.7h.1M151.1 251.4h.1M160.2 252.3h.1M168.0 241.3h.1M182.9 241.0h.1M155.2 248.1h.1M164.4 249.4h.1M152.5 244.1h.1M150.9 253.6h.1M151.3 244.0h.1M143.1 247.8h.1M167.0 242.5h.1M169.2 245.0h.1M171.8 250.7h.1M171.9 248.6h.1M163.5 239.4h.1M155.7 243.5h.1M148.4 249.3h.1M161.9 246.9h.1M164.0 237.5h.1M145.6 254.9h.1M160.2 237.5h.1M159.2 238.9h.1M152.6 254.8h.1M154.5 245.0h.1M169.4 242.7h.1M157.4 247.4h.1M141.7 252.7h.1M156.3 252.7h.1M159.6 251.7h.1M171.6 248.8h.1M171.9 242.5h.1M165.2 245.2h.1M155.4 238.2h.1M147.8 250.3h.1M155.3 251.8h.1M168.7 234.6h.1M150.6 245.0h.1M158.5 233.8h.1M157.4 238.3h.1M157.5 242.9h.1M160.1 250.3h.1M160.7 245.6h.1M170.4 248.2h.1M173.7 245.0h.1M154.6 252.2h.1M148.7 240.2h.1M158.7 249.7h.1M182.3 242.6h.1M160.5 236.7h.1M146.3 247.8h.1M162.0 238.8h.1M154.1 240.1h.1M149.2 244.2h.1M151.3 248.1h.1M159.8 241.3h.1M164.3 246.5h.1M166.1 247.2h.1M165.1 247.3h.1M149.1 242.7h.1M148.4 243.0h.1M157.7 242.7h.1M165.1 237.4h.1M142.8 255.5h.1M154.6 244.4h.1M164.4 239.6h.1M64.5 279.6h.1M66.3 278.3h.1M66.3 278.2h.1M65.1 279.9h.1M65.1 280.4h.1M64.2 281.5h.1M65.7 279.6h.1M68.2 279.7h.1M66.7 280.2h.1M66.0 278.8h.1M67.0 279.7h.1M64.9 280.5h.1M69.1 278.8h.1M63.7 280.8h.1M69.2 277.9h.1M65.3 279.7h.1M67.1 278.9h.1" stroke="#f8f000" stroke-width="1.25" stroke-linecap="square"/>
<path d="M162.3 240.4h.1M158.8 237.8h.1M169.9 239.8h.1M153.1 252.8h.1M153.2 255.5h.1M163.8 241.8h.1M159.3 240.6h.1M164.0 241.2h.1M142.7 246.5h.1M152.9 241.4h.1M161.0 238.6h.1M152.7 243.3h.1M156.7 248.9h.1M161.5 237.2h.1M150.9 250.4h.1M172.3 242.4h.1M150.1 248.4h.1M148.9 250.2h.1M165.3 247.1h.1M162.2 238.8h.1M160.4 245.5h.1M160.3 243.5h.1M153.4 252.7h.1M161.8 243.2h.1M148.5 243.7h.1M166.7 249.1h.1M174.5 243.9h.1M160.3 242.2h.1M162.8 245.4h.1M154.7 240.9h.1M151.8 243.8h.1M165.1 237.6h.1M153.7 245.1h.1M169.1 252.3h.1M159.7 247.0h.1M156.3 240.9h.1M163.7 246.8h.1M149.8 249.0h.1M152.7 239.6h.1M154.5 239.3h.1M171.4 241.8h.1M162.8 242.2h.1M161.4 243.7h.1M150.8 251.3h.1M165.4 242.7h.1M164.2 249.0h.1M156.9 252.2h.1M160.3 247.5h.1M150.8 248.9h.1M149.9 252.1h.1M161.1 241.4h.1M160.6 244.8h.1M162.7 247.1h.1M157.5 249.1h.1M146.9 255.3h.1M157.0 250.4h.1M156.6 239.9h.1M157.5 246.1h.1M151.1 248.1h.1M166.6 241.9h.1M161.6 239.1h.1M148.2 249.7h.1M171.1 246.5h.1M175.4 241.8h.1M163.6 245.9h.1M157.1 250.9h.1M169.6 246.2h.1M146.8 242.0h.1M160.6 249.5h.1M149.0 246.5h.1M156.5 243.8h.1M160.4 243.0h.1M174.4 241.5h.1M143.8 246.2h.1M172.2 241.5h.1M160.3 245.4h.1M158.2 248.3h.1M168.6 242.1h.1M155.1 248.9h.1M146.4 247.9h.1M142.6 243.7h.1M159.1 235.5h.1M171.5 243.8h.1M144.7 251.5h.1M144.5 241.7h.1M162.2 237.7h.1M159.1 246.7h.1M65.1 280.7h.1M66.8 277.3h.1M67.9 280.1h.1M64.2 278.6h.1M65.2 278.8h.1M66.6 279.3h.1M69.5 278.7h.1M68.7 278.8h.1M64.3 281.3h.1M67.7 280.1h.1M67.2 278.6h.1M68.8 279.0h.1" stroke="#ff9000" stroke-width="1.25" stroke-linecap="square"/>
<path d="M165.1 245.1h.1M148.5 252.8h.1M154.6 246.0h.1M146.9 251.9h.1M155.5 248.9h.1M149.0 249.5h.1M148.2 246.2h.1M152.3 245.3h.1M163.9 243.9h.1M157.5 246.8h.1M169.8 241.7h.1M164.2 244.3h.1M159.3 243.3h.1M148.5 244.2h.1M153.4 251.9h.1M172.4 243.2h.1M148.9 248.1h.1M153.3 246.6h.1M163.5 244.2h.1M161.5 239.5h.1M153.9 246.3h.1M164.5 245.3h.1M152.7 241.9h.1M157.4 245.7h.1M163.5 240.8h.1M164.5 243.9h.1M163.3 237.9h.1M146.7 248.5h.1M155.9 245.5h.1M159.8 236.3h.1M159.9 242.4h.1M145.6 243.6h.1M149.1 250.3h.1M167.1 243.9h.1M154.2 252.5h.1M151.1 247.6h.1M152.9 245.5h.1M169.4 246.4h.1M163.0 239.5h.1M150.9 247.1h.1M155.2 241.7h.1M66.1 279.8h.1M65.0 279.7h.1M66.3 279.9h.1M66.1 279.0h.1" stroke="#ff2000" stroke-width="1.25" stroke-linecap="square"/>
<polygon points="122.5,207.5 232.3,177 243,250.8 121.8,268" fill="none" stroke="#1a1a1a" stroke-width="2" stroke-linejoin="miter"/>
<rect x="57.5" y="16" width="268.5" height="267.5" fill="none" stroke="#111" stroke-width="1.3"/>
<line x1="54.1" y1="273.18" x2="57.5" y2="273.18" stroke="#222" stroke-width="1.1"/>
<line x1="54.1" y1="262.97" x2="57.5" y2="262.97" stroke="#222" stroke-width="1.1"/>
<line x1="54.1" y1="252.75" x2="57.5" y2="252.75" stroke="#222" stroke-width="1.1"/>
<line x1="54.1" y1="242.53" x2="57.5" y2="242.53" stroke="#222" stroke-width="1.1"/>
<line x1="49.9" y1="232.31" x2="57.5" y2="232.31" stroke="#000" stroke-width="1.8"/>
<text transform="translate(47.3,232.31) rotate(-90)" font-size="12.5" text-anchor="middle" textLength="12.6" lengthAdjust="spacingAndGlyphs">50</text>
<line x1="54.1" y1="222.1" x2="57.5" y2="222.1" stroke="#222" stroke-width="1.1"/>
<line x1="54.1" y1="211.88" x2="57.5" y2="211.88" stroke="#222" stroke-width="1.1"/>
<line x1="54.1" y1="201.66" x2="57.5" y2="201.66" stroke="#222" stroke-width="1.1"/>
<line x1="54.1" y1="191.45" x2="57.5" y2="191.45" stroke="#222" stroke-width="1.1"/>
<line x1="49.9" y1="181.23" x2="57.5" y2="181.23" stroke="#000" stroke-width="1.8"/>
<text transform="translate(47.3,181.23) rotate(-90)" font-size="12.5" text-anchor="middle" textLength="18.9" lengthAdjust="spacingAndGlyphs">100</text>
<line x1="54.1" y1="171.01" x2="57.5" y2="171.01" stroke="#222" stroke-width="1.1"/>
<line x1="54.1" y1="160.8" x2="57.5" y2="160.8" stroke="#222" stroke-width="1.1"/>
<line x1="54.1" y1="150.58" x2="57.5" y2="150.58" stroke="#222" stroke-width="1.1"/>
<line x1="54.1" y1="140.36" x2="57.5" y2="140.36" stroke="#222" stroke-width="1.1"/>
<line x1="49.9" y1="130.14" x2="57.5" y2="130.14" stroke="#000" stroke-width="1.8"/>
<text transform="translate(47.3,130.14) rotate(-90)" font-size="12.5" text-anchor="middle" textLength="18.9" lengthAdjust="spacingAndGlyphs">150</text>
<line x1="54.1" y1="119.93" x2="57.5" y2="119.93" stroke="#222" stroke-width="1.1"/>
<line x1="54.1" y1="109.71" x2="57.5" y2="109.71" stroke="#222" stroke-width="1.1"/>
<line x1="54.1" y1="99.49" x2="57.5" y2="99.49" stroke="#222" stroke-width="1.1"/>
<line x1="54.1" y1="89.28" x2="57.5" y2="89.28" stroke="#222" stroke-width="1.1"/>
<line x1="49.9" y1="79.06" x2="57.5" y2="79.06" stroke="#000" stroke-width="1.8"/>
<text transform="translate(47.3,79.06) rotate(-90)" font-size="12.5" text-anchor="middle" textLength="18.9" lengthAdjust="spacingAndGlyphs">200</text>
<line x1="54.1" y1="68.84" x2="57.5" y2="68.84" stroke="#222" stroke-width="1.1"/>
<line x1="54.1" y1="58.63" x2="57.5" y2="58.63" stroke="#222" stroke-width="1.1"/>
<line x1="54.1" y1="48.41" x2="57.5" y2="48.41" stroke="#222" stroke-width="1.1"/>
<line x1="54.1" y1="38.19" x2="57.5" y2="38.19" stroke="#222" stroke-width="1.1"/>
<line x1="49.9" y1="27.97" x2="57.5" y2="27.97" stroke="#000" stroke-width="1.8"/>
<text transform="translate(47.3,27.97) rotate(-90)" font-size="12.5" text-anchor="middle" textLength="18.9" lengthAdjust="spacingAndGlyphs">250</text>
<line x1="54.1" y1="17.76" x2="57.5" y2="17.76" stroke="#222" stroke-width="1.1"/>
<line x1="67.4" y1="283.5" x2="67.4" y2="286.9" stroke="#222" stroke-width="1.1"/>
<line x1="77.55" y1="283.5" x2="77.55" y2="286.9" stroke="#222" stroke-width="1.1"/>
<line x1="87.7" y1="283.5" x2="87.7" y2="286.9" stroke="#222" stroke-width="1.1"/>
<line x1="97.85" y1="283.5" x2="97.85" y2="286.9" stroke="#222" stroke-width="1.1"/>
<line x1="108" y1="283.5" x2="108" y2="291.1" stroke="#000" stroke-width="1.8"/>
<text x="108" y="303.8" font-size="12.5" text-anchor="middle" textLength="12.6" lengthAdjust="spacingAndGlyphs">50</text>
<line x1="118.15" y1="283.5" x2="118.15" y2="286.9" stroke="#222" stroke-width="1.1"/>
<line x1="128.3" y1="283.5" x2="128.3" y2="286.9" stroke="#222" stroke-width="1.1"/>
<line x1="138.45" y1="283.5" x2="138.45" y2="286.9" stroke="#222" stroke-width="1.1"/>
<line x1="148.6" y1="283.5" x2="148.6" y2="286.9" stroke="#222" stroke-width="1.1"/>
<line x1="158.75" y1="283.5" x2="158.75" y2="291.1" stroke="#000" stroke-width="1.8"/>
<text x="158.75" y="303.8" font-size="12.5" text-anchor="middle" textLength="18.9" lengthAdjust="spacingAndGlyphs">100</text>
<line x1="168.9" y1="283.5" x2="168.9" y2="286.9" stroke="#222" stroke-width="1.1"/>
<line x1="179.05" y1="283.5" x2="179.05" y2="286.9" stroke="#222" stroke-width="1.1"/>
<line x1="189.2" y1="283.5" x2="189.2" y2="286.9" stroke="#222" stroke-width="1.1"/>
<line x1="199.35" y1="283.5" x2="199.35" y2="286.9" stroke="#222" stroke-width="1.1"/>
<line x1="209.5" y1="283.5" x2="209.5" y2="291.1" stroke="#000" stroke-width="1.8"/>
<text x="209.5" y="303.8" font-size="12.5" text-anchor="middle" textLength="18.9" lengthAdjust="spacingAndGlyphs">150</text>
<line x1="219.65" y1="283.5" x2="219.65" y2="286.9" stroke="#222" stroke-width="1.1"/>
<line x1="229.8" y1="283.5" x2="229.8" y2="286.9" stroke="#222" stroke-width="1.1"/>
<line x1="239.95" y1="283.5" x2="239.95" y2="286.9" stroke="#222" stroke-width="1.1"/>
<line x1="250.1" y1="283.5" x2="250.1" y2="286.9" stroke="#222" stroke-width="1.1"/>
<line x1="260.25" y1="283.5" x2="260.25" y2="291.1" stroke="#000" stroke-width="1.8"/>
<text x="260.25" y="303.8" font-size="12.5" text-anchor="middle" textLength="18.9" lengthAdjust="spacingAndGlyphs">200</text>
<line x1="270.4" y1="283.5" x2="270.4" y2="286.9" stroke="#222" stroke-width="1.1"/>
<line x1="280.55" y1="283.5" x2="280.55" y2="286.9" stroke="#222" stroke-width="1.1"/>
<line x1="290.7" y1="283.5" x2="290.7" y2="286.9" stroke="#222" stroke-width="1.1"/>
<line x1="300.85" y1="283.5" x2="300.85" y2="286.9" stroke="#222" stroke-width="1.1"/>
<line x1="311" y1="283.5" x2="311" y2="291.1" stroke="#000" stroke-width="1.8"/>
<text x="311" y="303.8" font-size="12.5" text-anchor="middle" textLength="18.9" lengthAdjust="spacingAndGlyphs">250</text>
<line x1="321.15" y1="283.5" x2="321.15" y2="286.9" stroke="#222" stroke-width="1.1"/>
<text x="200" y="318.6" font-size="14" font-weight="bold" text-anchor="middle" textLength="25.5" lengthAdjust="spacingAndGlyphs">FSC</text>
<text transform="translate(30.1,143.2) rotate(-90)" font-size="14" font-weight="bold" text-anchor="middle" textLength="25.9" lengthAdjust="spacingAndGlyphs">SSC</text>
<text x="11.6" y="40.8" font-size="27" font-weight="bold">A</text>
<text x="362.1" y="40.7" font-size="27" font-weight="bold">B</text>
<text x="11.9" y="398.2" font-size="27" font-weight="bold">C</text>
<text x="360.4" y="398" font-size="27" font-weight="bold">D</text>
<text x="13.4" y="742" font-size="27" font-weight="bold">E</text>
<text x="363.4" y="742" font-size="27" font-weight="bold">F</text>
<path d="M409.6 30.5C409.6 30.5 410.15 122.02 410.4 150C410.64 177.98 411.7 270.3 411.7 270.3C411.7 270.3 414.24 269.2 415.2 268.6C416.16 268 418.74 266.16 419.9 265.2C421.06 264.24 423.94 261.85 425.1 260.4C426.26 258.95 428.65 255.32 429.8 252.8C430.95 250.28 433.77 242.62 435 238.8C436.23 234.99 439.13 224.6 440.3 220.1C441.47 215.6 444.23 204.01 445 200.2C445.77 196.38 446.56 191.48 446.9 187.4C447.24 183.32 447.38 169.56 447.9 165.2C448.42 160.84 450.17 156.62 451.4 150C452.62 143.38 456.96 118.66 458.4 108.5C459.83 98.34 462.74 70.08 463.7 62.9C464.66 55.73 466.6 47 466.6 47C466.6 47 467.97 54.46 468.3 56C468.63 57.54 469.1 59.55 469.4 60.2C469.7 60.85 470.56 61.06 470.9 61.6C471.24 62.14 471.99 63.7 472.3 64.8C472.62 65.9 473.18 67.27 473.6 71C474.02 74.73 475.22 87 475.9 96.8C476.58 106.6 478.69 144.13 479.4 155C480.11 165.87 481.17 180.08 482 190C482.83 199.92 485.48 231.25 486.5 240C487.52 248.75 489.52 260.33 490.75 265C491.98 269.67 495.34 277.69 497 280C498.66 282.31 503.25 284.12 505 284.8C506.75 285.48 512 285.8 512 285.8L512 286.2L409.6 286.2Z" fill="#999"/>
<path d="M409.6 30.5C409.6 30.5 410.15 122.02 410.4 150C410.64 177.98 411.7 270.3 411.7 270.3C411.7 270.3 414.24 269.2 415.2 268.6C416.16 268 418.74 266.16 419.9 265.2C421.06 264.24 423.94 261.85 425.1 260.4C426.26 258.95 428.65 255.32 429.8 252.8C430.95 250.28 433.77 242.62 435 238.8C436.23 234.99 439.13 224.6 440.3 220.1C441.47 215.6 444.23 204.01 445 200.2C445.77 196.38 446.56 191.48 446.9 187.4C447.24 183.32 447.38 169.56 447.9 165.2C448.42 160.84 450.17 156.62 451.4 150C452.62 143.38 456.96 118.66 458.4 108.5C459.83 98.34 462.74 70.08 463.7 62.9C464.66 55.73 466.6 47 466.6 47C466.6 47 467.97 54.46 468.3 56C468.63 57.54 469.1 59.55 469.4 60.2C469.7 60.85 470.56 61.06 470.9 61.6C471.24 62.14 471.99 63.7 472.3 64.8C472.62 65.9 473.18 67.27 473.6 71C474.02 74.73 475.22 87 475.9 96.8C476.58 106.6 478.69 144.13 479.4 155C480.11 165.87 481.17 180.08 482 190C482.83 199.92 485.48 231.25 486.5 240C487.52 248.75 489.52 260.33 490.75 265C491.98 269.67 495.34 277.69 497 280C498.66 282.31 503.25 284.12 505 284.8C506.75 285.48 512 285.8 512 285.8" fill="none" stroke="#161616" stroke-width="1.6" stroke-linejoin="round"/>
<rect x="408.8" y="19.5" width="267.2" height="266.7" fill="none" stroke="#222" stroke-width="1.1"/>
<line x1="400.8" y1="286" x2="408.8" y2="286" stroke="#000" stroke-width="2"/>
<text transform="translate(397.3,286) rotate(-90)" font-size="12.7" text-anchor="middle" textLength="6.3" lengthAdjust="spacingAndGlyphs">0</text>
<line x1="404.8" y1="274.9" x2="408.8" y2="274.9" stroke="#222" stroke-width="1"/>
<line x1="404.8" y1="263.8" x2="408.8" y2="263.8" stroke="#222" stroke-width="1"/>
<line x1="404.8" y1="252.7" x2="408.8" y2="252.7" stroke="#222" stroke-width="1"/>
<line x1="404.8" y1="241.6" x2="408.8" y2="241.6" stroke="#222" stroke-width="1"/>
<line x1="400.8" y1="230.5" x2="408.8" y2="230.5" stroke="#000" stroke-width="2"/>
<text transform="translate(397.3,230.5) rotate(-90)" font-size="12.7" text-anchor="middle" textLength="12.6" lengthAdjust="spacingAndGlyphs">50</text>
<line x1="404.8" y1="219.4" x2="408.8" y2="219.4" stroke="#222" stroke-width="1"/>
<line x1="404.8" y1="208.3" x2="408.8" y2="208.3" stroke="#222" stroke-width="1"/>
<line x1="404.8" y1="197.2" x2="408.8" y2="197.2" stroke="#222" stroke-width="1"/>
<line x1="404.8" y1="186.1" x2="408.8" y2="186.1" stroke="#222" stroke-width="1"/>
<line x1="400.8" y1="175" x2="408.8" y2="175" stroke="#000" stroke-width="2"/>
<text transform="translate(397.3,175) rotate(-90)" font-size="12.7" text-anchor="middle" textLength="18.9" lengthAdjust="spacingAndGlyphs">100</text>
<line x1="404.8" y1="163.9" x2="408.8" y2="163.9" stroke="#222" stroke-width="1"/>
<line x1="404.8" y1="152.8" x2="408.8" y2="152.8" stroke="#222" stroke-width="1"/>
<line x1="404.8" y1="141.7" x2="408.8" y2="141.7" stroke="#222" stroke-width="1"/>
<line x1="404.8" y1="130.6" x2="408.8" y2="130.6" stroke="#222" stroke-width="1"/>
<line x1="400.8" y1="119.5" x2="408.8" y2="119.5" stroke="#000" stroke-width="2"/>
<text transform="translate(397.3,119.5) rotate(-90)" font-size="12.7" text-anchor="middle" textLength="18.9" lengthAdjust="spacingAndGlyphs">150</text>
<line x1="404.8" y1="108.4" x2="408.8" y2="108.4" stroke="#222" stroke-width="1"/>
<line x1="404.8" y1="97.3" x2="408.8" y2="97.3" stroke="#222" stroke-width="1"/>
<line x1="404.8" y1="86.2" x2="408.8" y2="86.2" stroke="#222" stroke-width="1"/>
<line x1="404.8" y1="75.1" x2="408.8" y2="75.1" stroke="#222" stroke-width="1"/>
<line x1="400.8" y1="64" x2="408.8" y2="64" stroke="#000" stroke-width="2"/>
<text transform="translate(397.3,64) rotate(-90)" font-size="12.7" text-anchor="middle" textLength="18.9" lengthAdjust="spacingAndGlyphs">200</text>
<line x1="404.8" y1="52.9" x2="408.8" y2="52.9" stroke="#222" stroke-width="1"/>
<line x1="404.8" y1="41.8" x2="408.8" y2="41.8" stroke="#222" stroke-width="1"/>
<line x1="404.8" y1="30.7" x2="408.8" y2="30.7" stroke="#222" stroke-width="1"/>
<line x1="404.8" y1="19.6" x2="408.8" y2="19.6" stroke="#222" stroke-width="1"/>
<line x1="414.88" y1="286.2" x2="414.88" y2="290.2" stroke="#222" stroke-width="1"/>
<line x1="420.09" y1="286.2" x2="420.09" y2="290.2" stroke="#222" stroke-width="1"/>
<line x1="424.35" y1="286.2" x2="424.35" y2="290.2" stroke="#222" stroke-width="1"/>
<line x1="427.95" y1="286.2" x2="427.95" y2="290.2" stroke="#222" stroke-width="1"/>
<line x1="431.07" y1="286.2" x2="431.07" y2="290.2" stroke="#222" stroke-width="1"/>
<line x1="433.82" y1="286.2" x2="433.82" y2="290.2" stroke="#222" stroke-width="1"/>
<line x1="436.28" y1="286.2" x2="436.28" y2="293.2" stroke="#000" stroke-width="2.2"/>
<line x1="452.47" y1="286.2" x2="452.47" y2="290.2" stroke="#222" stroke-width="1"/>
<line x1="461.94" y1="286.2" x2="461.94" y2="290.2" stroke="#222" stroke-width="1"/>
<line x1="468.66" y1="286.2" x2="468.66" y2="290.2" stroke="#222" stroke-width="1"/>
<line x1="473.87" y1="286.2" x2="473.87" y2="290.2" stroke="#222" stroke-width="1"/>
<line x1="478.13" y1="286.2" x2="478.13" y2="290.2" stroke="#222" stroke-width="1"/>
<line x1="481.73" y1="286.2" x2="481.73" y2="290.2" stroke="#222" stroke-width="1"/>
<line x1="484.85" y1="286.2" x2="484.85" y2="290.2" stroke="#222" stroke-width="1"/>
<line x1="487.6" y1="286.2" x2="487.6" y2="290.2" stroke="#222" stroke-width="1"/>
<text x="427.68" y="305.2" font-size="12" textLength="11.7" lengthAdjust="spacingAndGlyphs">10</text>
<text x="440.18" y="300.2" font-size="7.6">1</text>
<line x1="490.06" y1="286.2" x2="490.06" y2="293.2" stroke="#000" stroke-width="2.2"/>
<line x1="506.25" y1="286.2" x2="506.25" y2="290.2" stroke="#222" stroke-width="1"/>
<line x1="515.72" y1="286.2" x2="515.72" y2="290.2" stroke="#222" stroke-width="1"/>
<line x1="522.44" y1="286.2" x2="522.44" y2="290.2" stroke="#222" stroke-width="1"/>
<line x1="527.65" y1="286.2" x2="527.65" y2="290.2" stroke="#222" stroke-width="1"/>
<line x1="531.91" y1="286.2" x2="531.91" y2="290.2" stroke="#222" stroke-width="1"/>
<line x1="535.51" y1="286.2" x2="535.51" y2="290.2" stroke="#222" stroke-width="1"/>
<line x1="538.63" y1="286.2" x2="538.63" y2="290.2" stroke="#222" stroke-width="1"/>
<line x1="541.38" y1="286.2" x2="541.38" y2="290.2" stroke="#222" stroke-width="1"/>
<text x="481.46" y="305.2" font-size="12" textLength="11.7" lengthAdjust="spacingAndGlyphs">10</text>
<text x="493.96" y="300.2" font-size="7.6">2</text>
<line x1="543.84" y1="286.2" x2="543.84" y2="293.2" stroke="#000" stroke-width="2.2"/>
<line x1="560.03" y1="286.2" x2="560.03" y2="290.2" stroke="#222" stroke-width="1"/>
<line x1="569.5" y1="286.2" x2="569.5" y2="290.2" stroke="#222" stroke-width="1"/>
<line x1="576.22" y1="286.2" x2="576.22" y2="290.2" stroke="#222" stroke-width="1"/>
<line x1="581.43" y1="286.2" x2="581.43" y2="290.2" stroke="#222" stroke-width="1"/>
<line x1="585.69" y1="286.2" x2="585.69" y2="290.2" stroke="#222" stroke-width="1"/>
<line x1="589.29" y1="286.2" x2="589.29" y2="290.2" stroke="#222" stroke-width="1"/>
<line x1="592.41" y1="286.2" x2="592.41" y2="290.2" stroke="#222" stroke-width="1"/>
<line x1="595.16" y1="286.2" x2="595.16" y2="290.2" stroke="#222" stroke-width="1"/>
<text x="535.24" y="305.2" font-size="12" textLength="11.7" lengthAdjust="spacingAndGlyphs">10</text>
<text x="547.74" y="300.2" font-size="7.6">3</text>
<line x1="597.62" y1="286.2" x2="597.62" y2="293.2" stroke="#000" stroke-width="2.2"/>
<line x1="613.81" y1="286.2" x2="613.81" y2="290.2" stroke="#222" stroke-width="1"/>
<line x1="623.28" y1="286.2" x2="623.28" y2="290.2" stroke="#222" stroke-width="1"/>
<line x1="630" y1="286.2" x2="630" y2="290.2" stroke="#222" stroke-width="1"/>
<line x1="635.21" y1="286.2" x2="635.21" y2="290.2" stroke="#222" stroke-width="1"/>
<line x1="639.47" y1="286.2" x2="639.47" y2="290.2" stroke="#222" stroke-width="1"/>
<line x1="643.07" y1="286.2" x2="643.07" y2="290.2" stroke="#222" stroke-width="1"/>
<line x1="646.19" y1="286.2" x2="646.19" y2="290.2" stroke="#222" stroke-width="1"/>
<line x1="648.94" y1="286.2" x2="648.94" y2="290.2" stroke="#222" stroke-width="1"/>
<text x="589.02" y="305.2" font-size="12" textLength="11.7" lengthAdjust="spacingAndGlyphs">10</text>
<text x="601.52" y="300.2" font-size="7.6">4</text>
<line x1="651.4" y1="286.2" x2="651.4" y2="293.2" stroke="#000" stroke-width="2.2"/>
<line x1="667.59" y1="286.2" x2="667.59" y2="290.2" stroke="#222" stroke-width="1"/>
<text x="642.8" y="305.2" font-size="12" textLength="11.7" lengthAdjust="spacingAndGlyphs">10</text>
<text x="655.3" y="300.2" font-size="7.6">5</text>
<text x="546.4" y="320.8" font-size="11.5" text-anchor="middle" textLength="102.5" lengthAdjust="spacingAndGlyphs">Aggrecan PE-Cy7 A</text>
<line x1="408.8" y1="55.9" x2="492" y2="55.9" stroke="#000" stroke-width="2"/>
<line x1="492" y1="50.9" x2="492" y2="60.9" stroke="#000" stroke-width="2"/>
<rect x="433.2" y="47.9" width="33" height="14.5" fill="#fff" fill-opacity="0.8"/>
<text x="448.4" y="40.1" font-size="11.5" text-anchor="middle" fill="#111">Neg</text>
<text x="448.4" y="55.3" font-size="11.5" text-anchor="middle" fill="#111">99.3</text>
<line x1="492" y1="98.7" x2="562.7" y2="98.7" stroke="#000" stroke-width="2"/>
<line x1="492" y1="93.7" x2="492" y2="103.7" stroke="#000" stroke-width="2"/>
<line x1="562.7" y1="93.7" x2="562.7" y2="103.7" stroke="#000" stroke-width="2"/>
<text x="526.3" y="68.9" font-size="11.6" text-anchor="middle" fill="#111">Low</text>
<text x="526.3" y="84.1" font-size="11.6" text-anchor="middle" fill="#111">0.64</text>
<line x1="562.7" y1="137.7" x2="654.2" y2="137.7" stroke="#000" stroke-width="2"/>
<line x1="562.7" y1="132.7" x2="562.7" y2="142.7" stroke="#000" stroke-width="2"/>
<line x1="654.2" y1="132.7" x2="654.2" y2="142.7" stroke="#000" stroke-width="2"/>
<text x="606.6" y="107.9" font-size="11.6" text-anchor="middle" fill="#111">High</text>
<text x="606.6" y="123.1" font-size="11.6" text-anchor="middle" fill="#111">0</text>
<text x="540.5" y="10.9" font-size="14.8" font-weight="bold" text-anchor="middle" textLength="73.2" lengthAdjust="spacingAndGlyphs">Unstained</text>
<text transform="translate(378.9,143.5) rotate(-90)" font-size="12.8" text-anchor="middle" textLength="33.6" lengthAdjust="spacingAndGlyphs">Count</text>
<path d="M112 639.3C112 639.3 124.05 639.62 127.5 638.6C130.95 637.58 133.12 635.29 135 632.5C136.88 629.71 138.5 625.25 140 620C141.5 614.75 143.5 604.62 145 597.5C146.5 590.38 148.56 579.62 150 572.5C151.44 565.38 153.58 555.12 154.6 550C155.62 544.88 156.14 543.42 156.8 538.4C157.46 533.38 158.46 521.98 159 516.5C159.54 511.02 159.86 505.18 160.4 501.9C160.94 498.62 161.94 494.83 162.6 494.6C163.26 494.38 164.14 497.77 164.8 500.4C165.46 503.02 166.34 509.3 167 512.1C167.66 514.9 168.54 519.31 169.2 519.1C169.86 518.89 170.74 512.74 171.4 510.7C172.06 508.66 172.94 505.5 173.6 505.5C174.26 505.5 175.04 507.73 175.8 510.7C176.56 513.67 177.83 524.86 178.7 525.3C179.57 525.74 180.78 516.57 181.6 513.6C182.42 510.63 183.44 506.16 184.2 505.5C184.96 504.84 185.99 506.45 186.7 509.2C187.41 511.94 188.24 518.99 188.9 523.8C189.56 528.61 190.34 537.47 191.1 541.3C191.86 545.12 193.12 547.47 194 549.3C194.88 551.13 195.95 550.77 197 553.5C198.05 556.23 199.65 561.27 201 567.5C202.35 573.73 204.69 587.88 206 595C207.31 602.12 208.44 610.31 209.75 615C211.06 619.69 213.06 624.19 214.75 626.25C216.44 628.31 218.75 627.55 221 628.75C223.25 629.95 226.75 633.69 229.75 634.25C232.75 634.81 238.19 632.39 241 632.5C243.81 632.61 246.62 634.17 248.5 635C250.38 635.83 249.38 637.55 253.5 638C257.62 638.45 271.88 637.77 276 638C280.12 638.23 281 639.5 281 639.5L281 639.8L112 639.8Z" fill="#999"/>
<path d="M112 639.3C112 639.3 124.05 639.62 127.5 638.6C130.95 637.58 133.12 635.29 135 632.5C136.88 629.71 138.5 625.25 140 620C141.5 614.75 143.5 604.62 145 597.5C146.5 590.38 148.56 579.62 150 572.5C151.44 565.38 153.58 555.12 154.6 550C155.62 544.88 156.14 543.42 156.8 538.4C157.46 533.38 158.46 521.98 159 516.5C159.54 511.02 159.86 505.18 160.4 501.9C160.94 498.62 161.94 494.83 162.6 494.6C163.26 494.38 164.14 497.77 164.8 500.4C165.46 503.02 166.34 509.3 167 512.1C167.66 514.9 168.54 519.31 169.2 519.1C169.86 518.89 170.74 512.74 171.4 510.7C172.06 508.66 172.94 505.5 173.6 505.5C174.26 505.5 175.04 507.73 175.8 510.7C176.56 513.67 177.83 524.86 178.7 525.3C179.57 525.74 180.78 516.57 181.6 513.6C182.42 510.63 183.44 506.16 184.2 505.5C184.96 504.84 185.99 506.45 186.7 509.2C187.41 511.94 188.24 518.99 188.9 523.8C189.56 528.61 190.34 537.47 191.1 541.3C191.86 545.12 193.12 547.47 194 549.3C194.88 551.13 195.95 550.77 197 553.5C198.05 556.23 199.65 561.27 201 567.5C202.35 573.73 204.69 587.88 206 595C207.31 602.12 208.44 610.31 209.75 615C211.06 619.69 213.06 624.19 214.75 626.25C216.44 628.31 218.75 627.55 221 628.75C223.25 629.95 226.75 633.69 229.75 634.25C232.75 634.81 238.19 632.39 241 632.5C243.81 632.61 246.62 634.17 248.5 635C250.38 635.83 249.38 637.55 253.5 638C257.62 638.45 271.88 637.77 276 638C280.12 638.23 281 639.5 281 639.5" fill="none" stroke="#161616" stroke-width="1.6" stroke-linejoin="round"/>
<rect x="58.3" y="372.8" width="268.2" height="267" fill="none" stroke="#222" stroke-width="1.1"/>
<line x1="50.3" y1="639.3" x2="58.3" y2="639.3" stroke="#000" stroke-width="2"/>
<text transform="translate(47.9,639.3) rotate(-90)" font-size="12.7" text-anchor="middle" textLength="6.3" lengthAdjust="spacingAndGlyphs">0</text>
<line x1="54.3" y1="629.56" x2="58.3" y2="629.56" stroke="#222" stroke-width="1"/>
<line x1="54.3" y1="619.82" x2="58.3" y2="619.82" stroke="#222" stroke-width="1"/>
<line x1="54.3" y1="610.08" x2="58.3" y2="610.08" stroke="#222" stroke-width="1"/>
<line x1="54.3" y1="600.34" x2="58.3" y2="600.34" stroke="#222" stroke-width="1"/>
<line x1="50.3" y1="590.6" x2="58.3" y2="590.6" stroke="#000" stroke-width="2"/>
<text transform="translate(47.9,590.6) rotate(-90)" font-size="12.7" text-anchor="middle" textLength="12.6" lengthAdjust="spacingAndGlyphs">50</text>
<line x1="54.3" y1="580.86" x2="58.3" y2="580.86" stroke="#222" stroke-width="1"/>
<line x1="54.3" y1="571.12" x2="58.3" y2="571.12" stroke="#222" stroke-width="1"/>
<line x1="54.3" y1="561.38" x2="58.3" y2="561.38" stroke="#222" stroke-width="1"/>
<line x1="54.3" y1="551.64" x2="58.3" y2="551.64" stroke="#222" stroke-width="1"/>
<line x1="50.3" y1="541.9" x2="58.3" y2="541.9" stroke="#000" stroke-width="2"/>
<text transform="translate(47.9,541.9) rotate(-90)" font-size="12.7" text-anchor="middle" textLength="18.9" lengthAdjust="spacingAndGlyphs">100</text>
<line x1="54.3" y1="532.16" x2="58.3" y2="532.16" stroke="#222" stroke-width="1"/>
<line x1="54.3" y1="522.42" x2="58.3" y2="522.42" stroke="#222" stroke-width="1"/>
<line x1="54.3" y1="512.68" x2="58.3" y2="512.68" stroke="#222" stroke-width="1"/>
<line x1="54.3" y1="502.94" x2="58.3" y2="502.94" stroke="#222" stroke-width="1"/>
<line x1="50.3" y1="493.2" x2="58.3" y2="493.2" stroke="#000" stroke-width="2"/>
<text transform="translate(47.9,493.2) rotate(-90)" font-size="12.7" text-anchor="middle" textLength="18.9" lengthAdjust="spacingAndGlyphs">150</text>
<line x1="54.3" y1="483.46" x2="58.3" y2="483.46" stroke="#222" stroke-width="1"/>
<line x1="54.3" y1="473.72" x2="58.3" y2="473.72" stroke="#222" stroke-width="1"/>
<line x1="54.3" y1="463.98" x2="58.3" y2="463.98" stroke="#222" stroke-width="1"/>
<line x1="54.3" y1="454.24" x2="58.3" y2="454.24" stroke="#222" stroke-width="1"/>
<line x1="50.3" y1="444.5" x2="58.3" y2="444.5" stroke="#000" stroke-width="2"/>
<text transform="translate(47.9,444.5) rotate(-90)" font-size="12.7" text-anchor="middle" textLength="18.9" lengthAdjust="spacingAndGlyphs">200</text>
<line x1="54.3" y1="434.76" x2="58.3" y2="434.76" stroke="#222" stroke-width="1"/>
<line x1="54.3" y1="425.02" x2="58.3" y2="425.02" stroke="#222" stroke-width="1"/>
<line x1="54.3" y1="415.28" x2="58.3" y2="415.28" stroke="#222" stroke-width="1"/>
<line x1="54.3" y1="405.54" x2="58.3" y2="405.54" stroke="#222" stroke-width="1"/>
<line x1="50.3" y1="395.8" x2="58.3" y2="395.8" stroke="#000" stroke-width="2"/>
<text transform="translate(47.9,395.8) rotate(-90)" font-size="12.7" text-anchor="middle" textLength="18.9" lengthAdjust="spacingAndGlyphs">250</text>
<line x1="54.3" y1="386.06" x2="58.3" y2="386.06" stroke="#222" stroke-width="1"/>
<line x1="54.3" y1="376.32" x2="58.3" y2="376.32" stroke="#222" stroke-width="1"/>
<line x1="57.87" y1="639.8" x2="57.87" y2="643.8" stroke="#222" stroke-width="1"/>
<line x1="64.6" y1="639.8" x2="64.6" y2="643.8" stroke="#222" stroke-width="1"/>
<line x1="69.82" y1="639.8" x2="69.82" y2="643.8" stroke="#222" stroke-width="1"/>
<line x1="74.09" y1="639.8" x2="74.09" y2="643.8" stroke="#222" stroke-width="1"/>
<line x1="77.7" y1="639.8" x2="77.7" y2="643.8" stroke="#222" stroke-width="1"/>
<line x1="80.83" y1="639.8" x2="80.83" y2="643.8" stroke="#222" stroke-width="1"/>
<line x1="83.58" y1="639.8" x2="83.58" y2="643.8" stroke="#222" stroke-width="1"/>
<line x1="86.05" y1="639.8" x2="86.05" y2="646.8" stroke="#000" stroke-width="2.2"/>
<line x1="102.28" y1="639.8" x2="102.28" y2="643.8" stroke="#222" stroke-width="1"/>
<line x1="111.77" y1="639.8" x2="111.77" y2="643.8" stroke="#222" stroke-width="1"/>
<line x1="118.5" y1="639.8" x2="118.5" y2="643.8" stroke="#222" stroke-width="1"/>
<line x1="123.72" y1="639.8" x2="123.72" y2="643.8" stroke="#222" stroke-width="1"/>
<line x1="127.99" y1="639.8" x2="127.99" y2="643.8" stroke="#222" stroke-width="1"/>
<line x1="131.6" y1="639.8" x2="131.6" y2="643.8" stroke="#222" stroke-width="1"/>
<line x1="134.73" y1="639.8" x2="134.73" y2="643.8" stroke="#222" stroke-width="1"/>
<line x1="137.48" y1="639.8" x2="137.48" y2="643.8" stroke="#222" stroke-width="1"/>
<text x="77.45" y="658.8" font-size="12" textLength="11.7" lengthAdjust="spacingAndGlyphs">10</text>
<text x="89.95" y="653.8" font-size="7.6">1</text>
<line x1="139.95" y1="639.8" x2="139.95" y2="646.8" stroke="#000" stroke-width="2.2"/>
<line x1="156.18" y1="639.8" x2="156.18" y2="643.8" stroke="#222" stroke-width="1"/>
<line x1="165.67" y1="639.8" x2="165.67" y2="643.8" stroke="#222" stroke-width="1"/>
<line x1="172.4" y1="639.8" x2="172.4" y2="643.8" stroke="#222" stroke-width="1"/>
<line x1="177.62" y1="639.8" x2="177.62" y2="643.8" stroke="#222" stroke-width="1"/>
<line x1="181.89" y1="639.8" x2="181.89" y2="643.8" stroke="#222" stroke-width="1"/>
<line x1="185.5" y1="639.8" x2="185.5" y2="643.8" stroke="#222" stroke-width="1"/>
<line x1="188.63" y1="639.8" x2="188.63" y2="643.8" stroke="#222" stroke-width="1"/>
<line x1="191.38" y1="639.8" x2="191.38" y2="643.8" stroke="#222" stroke-width="1"/>
<text x="131.35" y="658.8" font-size="12" textLength="11.7" lengthAdjust="spacingAndGlyphs">10</text>
<text x="143.85" y="653.8" font-size="7.6">2</text>
<line x1="193.85" y1="639.8" x2="193.85" y2="646.8" stroke="#000" stroke-width="2.2"/>
<line x1="210.08" y1="639.8" x2="210.08" y2="643.8" stroke="#222" stroke-width="1"/>
<line x1="219.57" y1="639.8" x2="219.57" y2="643.8" stroke="#222" stroke-width="1"/>
<line x1="226.3" y1="639.8" x2="226.3" y2="643.8" stroke="#222" stroke-width="1"/>
<line x1="231.52" y1="639.8" x2="231.52" y2="643.8" stroke="#222" stroke-width="1"/>
<line x1="235.79" y1="639.8" x2="235.79" y2="643.8" stroke="#222" stroke-width="1"/>
<line x1="239.4" y1="639.8" x2="239.4" y2="643.8" stroke="#222" stroke-width="1"/>
<line x1="242.53" y1="639.8" x2="242.53" y2="643.8" stroke="#222" stroke-width="1"/>
<line x1="245.28" y1="639.8" x2="245.28" y2="643.8" stroke="#222" stroke-width="1"/>
<text x="185.25" y="658.8" font-size="12" textLength="11.7" lengthAdjust="spacingAndGlyphs">10</text>
<text x="197.75" y="653.8" font-size="7.6">3</text>
<line x1="247.75" y1="639.8" x2="247.75" y2="646.8" stroke="#000" stroke-width="2.2"/>
<line x1="263.98" y1="639.8" x2="263.98" y2="643.8" stroke="#222" stroke-width="1"/>
<line x1="273.47" y1="639.8" x2="273.47" y2="643.8" stroke="#222" stroke-width="1"/>
<line x1="280.2" y1="639.8" x2="280.2" y2="643.8" stroke="#222" stroke-width="1"/>
<line x1="285.42" y1="639.8" x2="285.42" y2="643.8" stroke="#222" stroke-width="1"/>
<line x1="289.69" y1="639.8" x2="289.69" y2="643.8" stroke="#222" stroke-width="1"/>
<line x1="293.3" y1="639.8" x2="293.3" y2="643.8" stroke="#222" stroke-width="1"/>
<line x1="296.43" y1="639.8" x2="296.43" y2="643.8" stroke="#222" stroke-width="1"/>
<line x1="299.18" y1="639.8" x2="299.18" y2="643.8" stroke="#222" stroke-width="1"/>
<text x="239.15" y="658.8" font-size="12" textLength="11.7" lengthAdjust="spacingAndGlyphs">10</text>
<text x="251.65" y="653.8" font-size="7.6">4</text>
<line x1="301.65" y1="639.8" x2="301.65" y2="646.8" stroke="#000" stroke-width="2.2"/>
<line x1="317.88" y1="639.8" x2="317.88" y2="643.8" stroke="#222" stroke-width="1"/>
<text x="293.05" y="658.8" font-size="12" textLength="11.7" lengthAdjust="spacingAndGlyphs">10</text>
<text x="305.55" y="653.8" font-size="7.6">5</text>
<text x="196.4" y="674.4" font-size="11.5" text-anchor="middle" textLength="102.5" lengthAdjust="spacingAndGlyphs">Aggrecan PE-Cy7 A</text>
<line x1="58.3" y1="409" x2="138.3" y2="409" stroke="#000" stroke-width="2"/>
<line x1="138.3" y1="404" x2="138.3" y2="414" stroke="#000" stroke-width="2"/>
<rect x="80.7" y="401" width="33.3" height="14.5" fill="#fff" fill-opacity="0.8"/>
<text x="96.3" y="393.2" font-size="11.5" text-anchor="middle" fill="#111">Neg</text>
<text x="96.3" y="408.4" font-size="11.5" text-anchor="middle" fill="#111">1.00</text>
<line x1="140" y1="452" x2="210.5" y2="452" stroke="#000" stroke-width="2"/>
<line x1="140" y1="447" x2="140" y2="457" stroke="#000" stroke-width="2"/>
<line x1="210.5" y1="447" x2="210.5" y2="457" stroke="#000" stroke-width="2"/>
<text x="173.5" y="422.2" font-size="11.6" text-anchor="middle" fill="#111">Low</text>
<text x="173.5" y="437.4" font-size="11.6" text-anchor="middle" fill="#111">92.7</text>
<line x1="212.3" y1="492" x2="304" y2="492" stroke="#000" stroke-width="2"/>
<line x1="212.3" y1="487" x2="212.3" y2="497" stroke="#000" stroke-width="2"/>
<line x1="304" y1="487" x2="304" y2="497" stroke="#000" stroke-width="2"/>
<text x="256.2" y="462.2" font-size="11.6" text-anchor="middle" fill="#111">High</text>
<text x="256.2" y="477.4" font-size="11.6" text-anchor="middle" fill="#111">6.33</text>
<text x="187.8" y="357.2" font-size="14.8" font-weight="bold" text-anchor="middle" textLength="83" lengthAdjust="spacingAndGlyphs">Individual 1</text>
<text transform="translate(29,494.2) rotate(-90)" font-size="13.4" font-weight="bold" text-anchor="middle" textLength="38.2" lengthAdjust="spacingAndGlyphs">Count</text>
<text transform="translate(12.1,491.5) rotate(-90)" font-size="15" font-weight="bold" text-anchor="middle" textLength="50.8" lengthAdjust="spacingAndGlyphs">Normal</text>
<path d="M461.5 640.3C461.5 640.3 465.05 637.61 467 636.25C468.95 634.89 472.44 633.12 474.5 631.25C476.56 629.38 479.06 626.56 480.75 623.75C482.44 620.94 484.44 616.06 485.75 612.5C487.06 608.94 488.56 604.12 489.5 600C490.44 595.88 491.25 590.25 492 585C492.75 579.75 493.75 570.06 494.5 565C495.25 559.94 496.06 555 497 551.25C497.94 547.5 499.62 543.94 500.75 540C501.88 536.06 503.56 527.92 504.5 525C505.44 522.08 506.18 521.02 507 520.5C507.82 519.98 509.06 520.83 510 521.5C510.94 522.17 512.05 522.6 513.25 525C514.45 527.4 516.35 533.19 518 537.5C519.65 541.81 522.83 552.62 524.25 553.75C525.67 554.88 526.56 546.99 527.5 545C528.44 543.01 529.6 540.12 530.5 540.5C531.4 540.88 532.56 542.7 533.5 547.5C534.44 552.3 535.7 563.88 536.75 572.5C537.8 581.12 539.19 597.88 540.5 605C541.81 612.12 543.62 615.61 545.5 620C547.38 624.39 550.75 632 553 634.25C555.25 636.5 558.62 634.51 560.5 635C562.38 635.49 563.81 636.71 565.5 637.5C567.19 638.29 569.5 640 571.75 640.3C574 640.6 578.06 639.62 580.5 639.5C582.94 639.38 585.56 639.99 588 639.5C590.44 639.01 594.69 636.48 596.75 636.25C598.81 636.02 599.5 637.51 601.75 638C604 638.49 609.5 639.15 611.75 639.5C614 639.85 612.44 640.18 616.75 640.3C621.06 640.42 636 640.49 640.5 640.3C645 640.11 644.88 639 646.75 639C648.62 639 653 640.3 653 640.3L653 640.6L461.5 640.6Z" fill="#999"/>
<path d="M461.5 640.3C461.5 640.3 465.05 637.61 467 636.25C468.95 634.89 472.44 633.12 474.5 631.25C476.56 629.38 479.06 626.56 480.75 623.75C482.44 620.94 484.44 616.06 485.75 612.5C487.06 608.94 488.56 604.12 489.5 600C490.44 595.88 491.25 590.25 492 585C492.75 579.75 493.75 570.06 494.5 565C495.25 559.94 496.06 555 497 551.25C497.94 547.5 499.62 543.94 500.75 540C501.88 536.06 503.56 527.92 504.5 525C505.44 522.08 506.18 521.02 507 520.5C507.82 519.98 509.06 520.83 510 521.5C510.94 522.17 512.05 522.6 513.25 525C514.45 527.4 516.35 533.19 518 537.5C519.65 541.81 522.83 552.62 524.25 553.75C525.67 554.88 526.56 546.99 527.5 545C528.44 543.01 529.6 540.12 530.5 540.5C531.4 540.88 532.56 542.7 533.5 547.5C534.44 552.3 535.7 563.88 536.75 572.5C537.8 581.12 539.19 597.88 540.5 605C541.81 612.12 543.62 615.61 545.5 620C547.38 624.39 550.75 632 553 634.25C555.25 636.5 558.62 634.51 560.5 635C562.38 635.49 563.81 636.71 565.5 637.5C567.19 638.29 569.5 640 571.75 640.3C574 640.6 578.06 639.62 580.5 639.5C582.94 639.38 585.56 639.99 588 639.5C590.44 639.01 594.69 636.48 596.75 636.25C598.81 636.02 599.5 637.51 601.75 638C604 638.49 609.5 639.15 611.75 639.5C614 639.85 612.44 640.18 616.75 640.3C621.06 640.42 636 640.49 640.5 640.3C645 640.11 644.88 639 646.75 639C648.62 639 653 640.3 653 640.3" fill="none" stroke="#161616" stroke-width="1.6" stroke-linejoin="round"/>
<rect x="407.5" y="374.3" width="267.3" height="266.3" fill="none" stroke="#222" stroke-width="1.1"/>
<line x1="399.5" y1="640.2" x2="407.5" y2="640.2" stroke="#000" stroke-width="2"/>
<text transform="translate(398.4,640.2) rotate(-90)" font-size="12.7" text-anchor="middle" textLength="6.3" lengthAdjust="spacingAndGlyphs">0</text>
<line x1="403.5" y1="623.57" x2="407.5" y2="623.57" stroke="#222" stroke-width="1"/>
<line x1="403.5" y1="606.94" x2="407.5" y2="606.94" stroke="#222" stroke-width="1"/>
<line x1="403.5" y1="590.31" x2="407.5" y2="590.31" stroke="#222" stroke-width="1"/>
<line x1="399.5" y1="573.68" x2="407.5" y2="573.68" stroke="#000" stroke-width="2"/>
<text transform="translate(398.4,573.68) rotate(-90)" font-size="12.7" text-anchor="middle" textLength="12.6" lengthAdjust="spacingAndGlyphs">50</text>
<line x1="403.5" y1="557.04" x2="407.5" y2="557.04" stroke="#222" stroke-width="1"/>
<line x1="403.5" y1="540.41" x2="407.5" y2="540.41" stroke="#222" stroke-width="1"/>
<line x1="403.5" y1="523.78" x2="407.5" y2="523.78" stroke="#222" stroke-width="1"/>
<line x1="399.5" y1="507.15" x2="407.5" y2="507.15" stroke="#000" stroke-width="2"/>
<text transform="translate(398.4,507.15) rotate(-90)" font-size="12.7" text-anchor="middle" textLength="18.9" lengthAdjust="spacingAndGlyphs">100</text>
<line x1="403.5" y1="490.52" x2="407.5" y2="490.52" stroke="#222" stroke-width="1"/>
<line x1="403.5" y1="473.89" x2="407.5" y2="473.89" stroke="#222" stroke-width="1"/>
<line x1="403.5" y1="457.26" x2="407.5" y2="457.26" stroke="#222" stroke-width="1"/>
<line x1="399.5" y1="440.63" x2="407.5" y2="440.63" stroke="#000" stroke-width="2"/>
<text transform="translate(398.4,440.63) rotate(-90)" font-size="12.7" text-anchor="middle" textLength="18.9" lengthAdjust="spacingAndGlyphs">150</text>
<line x1="403.5" y1="423.99" x2="407.5" y2="423.99" stroke="#222" stroke-width="1"/>
<line x1="403.5" y1="407.36" x2="407.5" y2="407.36" stroke="#222" stroke-width="1"/>
<line x1="403.5" y1="390.73" x2="407.5" y2="390.73" stroke="#222" stroke-width="1"/>
<line x1="399.5" y1="374.1" x2="407.5" y2="374.1" stroke="#000" stroke-width="2"/>
<text transform="translate(398.4,374.1) rotate(-90)" font-size="12.7" text-anchor="middle" textLength="18.9" lengthAdjust="spacingAndGlyphs">200</text>
<line x1="408.16" y1="640.6" x2="408.16" y2="644.6" stroke="#222" stroke-width="1"/>
<line x1="414.88" y1="640.6" x2="414.88" y2="644.6" stroke="#222" stroke-width="1"/>
<line x1="420.09" y1="640.6" x2="420.09" y2="644.6" stroke="#222" stroke-width="1"/>
<line x1="424.35" y1="640.6" x2="424.35" y2="644.6" stroke="#222" stroke-width="1"/>
<line x1="427.95" y1="640.6" x2="427.95" y2="644.6" stroke="#222" stroke-width="1"/>
<line x1="431.07" y1="640.6" x2="431.07" y2="644.6" stroke="#222" stroke-width="1"/>
<line x1="433.82" y1="640.6" x2="433.82" y2="644.6" stroke="#222" stroke-width="1"/>
<line x1="436.28" y1="640.6" x2="436.28" y2="647.6" stroke="#000" stroke-width="2.2"/>
<line x1="452.47" y1="640.6" x2="452.47" y2="644.6" stroke="#222" stroke-width="1"/>
<line x1="461.94" y1="640.6" x2="461.94" y2="644.6" stroke="#222" stroke-width="1"/>
<line x1="468.66" y1="640.6" x2="468.66" y2="644.6" stroke="#222" stroke-width="1"/>
<line x1="473.87" y1="640.6" x2="473.87" y2="644.6" stroke="#222" stroke-width="1"/>
<line x1="478.13" y1="640.6" x2="478.13" y2="644.6" stroke="#222" stroke-width="1"/>
<line x1="481.73" y1="640.6" x2="481.73" y2="644.6" stroke="#222" stroke-width="1"/>
<line x1="484.85" y1="640.6" x2="484.85" y2="644.6" stroke="#222" stroke-width="1"/>
<line x1="487.6" y1="640.6" x2="487.6" y2="644.6" stroke="#222" stroke-width="1"/>
<text x="427.68" y="659.6" font-size="12" textLength="11.7" lengthAdjust="spacingAndGlyphs">10</text>
<text x="440.18" y="654.6" font-size="7.6">1</text>
<line x1="490.06" y1="640.6" x2="490.06" y2="647.6" stroke="#000" stroke-width="2.2"/>
<line x1="506.25" y1="640.6" x2="506.25" y2="644.6" stroke="#222" stroke-width="1"/>
<line x1="515.72" y1="640.6" x2="515.72" y2="644.6" stroke="#222" stroke-width="1"/>
<line x1="522.44" y1="640.6" x2="522.44" y2="644.6" stroke="#222" stroke-width="1"/>
<line x1="527.65" y1="640.6" x2="527.65" y2="644.6" stroke="#222" stroke-width="1"/>
<line x1="531.91" y1="640.6" x2="531.91" y2="644.6" stroke="#222" stroke-width="1"/>
<line x1="535.51" y1="640.6" x2="535.51" y2="644.6" stroke="#222" stroke-width="1"/>
<line x1="538.63" y1="640.6" x2="538.63" y2="644.6" stroke="#222" stroke-width="1"/>
<line x1="541.38" y1="640.6" x2="541.38" y2="644.6" stroke="#222" stroke-width="1"/>
<text x="481.46" y="659.6" font-size="12" textLength="11.7" lengthAdjust="spacingAndGlyphs">10</text>
<text x="493.96" y="654.6" font-size="7.6">2</text>
<line x1="543.84" y1="640.6" x2="543.84" y2="647.6" stroke="#000" stroke-width="2.2"/>
<line x1="560.03" y1="640.6" x2="560.03" y2="644.6" stroke="#222" stroke-width="1"/>
<line x1="569.5" y1="640.6" x2="569.5" y2="644.6" stroke="#222" stroke-width="1"/>
<line x1="576.22" y1="640.6" x2="576.22" y2="644.6" stroke="#222" stroke-width="1"/>
<line x1="581.43" y1="640.6" x2="581.43" y2="644.6" stroke="#222" stroke-width="1"/>
<line x1="585.69" y1="640.6" x2="585.69" y2="644.6" stroke="#222" stroke-width="1"/>
<line x1="589.29" y1="640.6" x2="589.29" y2="644.6" stroke="#222" stroke-width="1"/>
<line x1="592.41" y1="640.6" x2="592.41" y2="644.6" stroke="#222" stroke-width="1"/>
<line x1="595.16" y1="640.6" x2="595.16" y2="644.6" stroke="#222" stroke-width="1"/>
<text x="535.24" y="659.6" font-size="12" textLength="11.7" lengthAdjust="spacingAndGlyphs">10</text>
<text x="547.74" y="654.6" font-size="7.6">3</text>
<line x1="597.62" y1="640.6" x2="597.62" y2="647.6" stroke="#000" stroke-width="2.2"/>
<line x1="613.81" y1="640.6" x2="613.81" y2="644.6" stroke="#222" stroke-width="1"/>
<line x1="623.28" y1="640.6" x2="623.28" y2="644.6" stroke="#222" stroke-width="1"/>
<line x1="630" y1="640.6" x2="630" y2="644.6" stroke="#222" stroke-width="1"/>
<line x1="635.21" y1="640.6" x2="635.21" y2="644.6" stroke="#222" stroke-width="1"/>
<line x1="639.47" y1="640.6" x2="639.47" y2="644.6" stroke="#222" stroke-width="1"/>
<line x1="643.07" y1="640.6" x2="643.07" y2="644.6" stroke="#222" stroke-width="1"/>
<line x1="646.19" y1="640.6" x2="646.19" y2="644.6" stroke="#222" stroke-width="1"/>
<line x1="648.94" y1="640.6" x2="648.94" y2="644.6" stroke="#222" stroke-width="1"/>
<text x="589.02" y="659.6" font-size="12" textLength="11.7" lengthAdjust="spacingAndGlyphs">10</text>
<text x="601.52" y="654.6" font-size="7.6">4</text>
<line x1="651.4" y1="640.6" x2="651.4" y2="647.6" stroke="#000" stroke-width="2.2"/>
<line x1="667.59" y1="640.6" x2="667.59" y2="644.6" stroke="#222" stroke-width="1"/>
<text x="642.8" y="659.6" font-size="12" textLength="11.7" lengthAdjust="spacingAndGlyphs">10</text>
<text x="655.3" y="654.6" font-size="7.6">5</text>
<text x="545.15" y="675.2" font-size="11.5" text-anchor="middle" textLength="102.5" lengthAdjust="spacingAndGlyphs">Aggrecan PE-Cy7 A</text>
<line x1="407.5" y1="410.5" x2="487.5" y2="410.5" stroke="#000" stroke-width="2"/>
<line x1="487.5" y1="405.5" x2="487.5" y2="415.5" stroke="#000" stroke-width="2"/>
<rect x="429.5" y="402.5" width="34" height="14.5" fill="#fff" fill-opacity="0.8"/>
<text x="445.8" y="394.7" font-size="11.5" text-anchor="middle" fill="#111">Neg</text>
<text x="445.8" y="409.9" font-size="11.5" text-anchor="middle" fill="#111">7.47</text>
<line x1="490" y1="452.8" x2="559.6" y2="452.8" stroke="#000" stroke-width="2"/>
<line x1="490" y1="447.8" x2="490" y2="457.8" stroke="#000" stroke-width="2"/>
<line x1="559.6" y1="447.8" x2="559.6" y2="457.8" stroke="#000" stroke-width="2"/>
<text x="523.5" y="423" font-size="11.6" text-anchor="middle" fill="#111">Low</text>
<text x="523.5" y="438.2" font-size="11.6" text-anchor="middle" fill="#111">88.5</text>
<line x1="561.3" y1="493" x2="652.3" y2="493" stroke="#000" stroke-width="2"/>
<line x1="561.3" y1="488" x2="561.3" y2="498" stroke="#000" stroke-width="2"/>
<line x1="652.3" y1="488" x2="652.3" y2="498" stroke="#000" stroke-width="2"/>
<text x="605" y="463.2" font-size="11.6" text-anchor="middle" fill="#111">High</text>
<text x="605" y="478.4" font-size="11.6" text-anchor="middle" fill="#111">2.87</text>
<text x="550.5" y="357.2" font-size="14.8" font-weight="bold" text-anchor="middle" textLength="83.5" lengthAdjust="spacingAndGlyphs">Individual 2</text>
<text x="378.4" y="333.5" font-size="13"></text>
<text transform="translate(379.2,496.3) rotate(-90)" font-size="13.6" font-weight="bold" text-anchor="middle" textLength="38.6" lengthAdjust="spacingAndGlyphs">Count</text>
<path d="M77.5 987.5C77.5 987.5 80.31 986.67 82 986C83.69 985.33 86.99 983.52 88.75 983C90.51 982.48 91.69 982.5 93.75 982.5C95.81 982.5 100.44 982.81 102.5 983C104.56 983.19 105.81 983.08 107.5 983.75C109.19 984.42 112.06 986.94 113.75 987.5C115.44 988.06 117.44 988.06 118.75 987.5C120.06 986.94 121.19 985.25 122.5 983.75C123.81 982.25 126 978.55 127.5 977.5C129 976.45 131.19 976.67 132.5 976.75C133.81 976.83 134.94 978.45 136.25 978C137.56 977.55 139.94 975.7 141.25 973.75C142.56 971.8 143.69 969.31 145 965C146.31 960.69 148.5 952.88 150 945C151.5 937.12 153.5 921.5 155 912.5C156.5 903.5 158.5 888 160 885C161.5 882 163.8 888 165 892.5C166.2 897 167.1 907.5 168 915C168.9 922.5 170.18 936.69 171 942.5C171.82 948.31 172.38 951.88 173.5 953.75C174.62 955.62 176.44 954.17 178.5 955C180.56 955.83 184.81 960 187.25 959.25C189.69 958.5 192.88 954.01 194.75 950C196.62 945.99 198.25 939.62 199.75 932.5C201.25 925.38 203.25 908.95 204.75 902.5C206.25 896.05 208.06 891 209.75 889.5C211.44 888 214.12 890.92 216 892.5C217.88 894.08 220 894.38 222.25 900C224.5 905.62 228.38 921 231 930C233.62 939 237.69 959.25 239.75 960C241.81 960.75 243.25 942.12 244.75 935C246.25 927.88 248.44 916.81 249.75 912.5C251.06 908.19 252.19 905.88 253.5 906.25C254.81 906.62 256.81 910.69 258.5 915C260.19 919.31 262.88 927.5 264.75 935C266.62 942.5 269.31 958.25 271 965C272.69 971.75 274.31 978.2 276 980C277.69 981.8 280.56 977 282.25 977C283.94 977 285.19 978.42 287.25 980C289.31 981.58 291.88 986.38 296 987.5C300.12 988.62 311 988.44 314.75 987.5C318.5 986.56 319.24 982.83 321 981.25C322.76 979.67 326.5 977 326.5 977L326.5 987.6L77.5 987.6Z" fill="#999"/>
<path d="M77.5 987.5C77.5 987.5 80.31 986.67 82 986C83.69 985.33 86.99 983.52 88.75 983C90.51 982.48 91.69 982.5 93.75 982.5C95.81 982.5 100.44 982.81 102.5 983C104.56 983.19 105.81 983.08 107.5 983.75C109.19 984.42 112.06 986.94 113.75 987.5C115.44 988.06 117.44 988.06 118.75 987.5C120.06 986.94 121.19 985.25 122.5 983.75C123.81 982.25 126 978.55 127.5 977.5C129 976.45 131.19 976.67 132.5 976.75C133.81 976.83 134.94 978.45 136.25 978C137.56 977.55 139.94 975.7 141.25 973.75C142.56 971.8 143.69 969.31 145 965C146.31 960.69 148.5 952.88 150 945C151.5 937.12 153.5 921.5 155 912.5C156.5 903.5 158.5 888 160 885C161.5 882 163.8 888 165 892.5C166.2 897 167.1 907.5 168 915C168.9 922.5 170.18 936.69 171 942.5C171.82 948.31 172.38 951.88 173.5 953.75C174.62 955.62 176.44 954.17 178.5 955C180.56 955.83 184.81 960 187.25 959.25C189.69 958.5 192.88 954.01 194.75 950C196.62 945.99 198.25 939.62 199.75 932.5C201.25 925.38 203.25 908.95 204.75 902.5C206.25 896.05 208.06 891 209.75 889.5C211.44 888 214.12 890.92 216 892.5C217.88 894.08 220 894.38 222.25 900C224.5 905.62 228.38 921 231 930C233.62 939 237.69 959.25 239.75 960C241.81 960.75 243.25 942.12 244.75 935C246.25 927.88 248.44 916.81 249.75 912.5C251.06 908.19 252.19 905.88 253.5 906.25C254.81 906.62 256.81 910.69 258.5 915C260.19 919.31 262.88 927.5 264.75 935C266.62 942.5 269.31 958.25 271 965C272.69 971.75 274.31 978.2 276 980C277.69 981.8 280.56 977 282.25 977C283.94 977 285.19 978.42 287.25 980C289.31 981.58 291.88 986.38 296 987.5C300.12 988.62 311 988.44 314.75 987.5C318.5 986.56 319.24 982.83 321 981.25C322.76 979.67 326.5 977 326.5 977" fill="none" stroke="#161616" stroke-width="1.6" stroke-linejoin="round"/>
<rect x="58.3" y="721.3" width="268.2" height="266.3" fill="none" stroke="#222" stroke-width="1.1"/>
<line x1="50.3" y1="986.9" x2="58.3" y2="986.9" stroke="#000" stroke-width="2"/>
<text transform="translate(48.2,986.9) rotate(-90)" font-size="12.7" text-anchor="middle" textLength="6.3" lengthAdjust="spacingAndGlyphs">0</text>
<line x1="54.3" y1="964.77" x2="58.3" y2="964.77" stroke="#222" stroke-width="1"/>
<line x1="54.3" y1="942.65" x2="58.3" y2="942.65" stroke="#222" stroke-width="1"/>
<line x1="54.3" y1="920.52" x2="58.3" y2="920.52" stroke="#222" stroke-width="1"/>
<line x1="50.3" y1="898.4" x2="58.3" y2="898.4" stroke="#000" stroke-width="2"/>
<text transform="translate(48.2,898.4) rotate(-90)" font-size="12.7" text-anchor="middle" textLength="12.6" lengthAdjust="spacingAndGlyphs">50</text>
<line x1="54.3" y1="876.27" x2="58.3" y2="876.27" stroke="#222" stroke-width="1"/>
<line x1="54.3" y1="854.15" x2="58.3" y2="854.15" stroke="#222" stroke-width="1"/>
<line x1="54.3" y1="832.02" x2="58.3" y2="832.02" stroke="#222" stroke-width="1"/>
<line x1="50.3" y1="809.9" x2="58.3" y2="809.9" stroke="#000" stroke-width="2"/>
<text transform="translate(48.2,809.9) rotate(-90)" font-size="12.7" text-anchor="middle" textLength="18.9" lengthAdjust="spacingAndGlyphs">100</text>
<line x1="54.3" y1="787.77" x2="58.3" y2="787.77" stroke="#222" stroke-width="1"/>
<line x1="54.3" y1="765.65" x2="58.3" y2="765.65" stroke="#222" stroke-width="1"/>
<line x1="54.3" y1="743.52" x2="58.3" y2="743.52" stroke="#222" stroke-width="1"/>
<line x1="50.3" y1="721.4" x2="58.3" y2="721.4" stroke="#000" stroke-width="2"/>
<text transform="translate(48.2,721.4) rotate(-90)" font-size="12.7" text-anchor="middle" textLength="18.9" lengthAdjust="spacingAndGlyphs">150</text>
<line x1="57.87" y1="987.6" x2="57.87" y2="991.6" stroke="#222" stroke-width="1"/>
<line x1="64.6" y1="987.6" x2="64.6" y2="991.6" stroke="#222" stroke-width="1"/>
<line x1="69.82" y1="987.6" x2="69.82" y2="991.6" stroke="#222" stroke-width="1"/>
<line x1="74.09" y1="987.6" x2="74.09" y2="991.6" stroke="#222" stroke-width="1"/>
<line x1="77.7" y1="987.6" x2="77.7" y2="991.6" stroke="#222" stroke-width="1"/>
<line x1="80.83" y1="987.6" x2="80.83" y2="991.6" stroke="#222" stroke-width="1"/>
<line x1="83.58" y1="987.6" x2="83.58" y2="991.6" stroke="#222" stroke-width="1"/>
<line x1="86.05" y1="987.6" x2="86.05" y2="994.6" stroke="#000" stroke-width="2.2"/>
<line x1="102.28" y1="987.6" x2="102.28" y2="991.6" stroke="#222" stroke-width="1"/>
<line x1="111.77" y1="987.6" x2="111.77" y2="991.6" stroke="#222" stroke-width="1"/>
<line x1="118.5" y1="987.6" x2="118.5" y2="991.6" stroke="#222" stroke-width="1"/>
<line x1="123.72" y1="987.6" x2="123.72" y2="991.6" stroke="#222" stroke-width="1"/>
<line x1="127.99" y1="987.6" x2="127.99" y2="991.6" stroke="#222" stroke-width="1"/>
<line x1="131.6" y1="987.6" x2="131.6" y2="991.6" stroke="#222" stroke-width="1"/>
<line x1="134.73" y1="987.6" x2="134.73" y2="991.6" stroke="#222" stroke-width="1"/>
<line x1="137.48" y1="987.6" x2="137.48" y2="991.6" stroke="#222" stroke-width="1"/>
<text x="77.45" y="1006.6" font-size="12" textLength="11.7" lengthAdjust="spacingAndGlyphs">10</text>
<text x="89.95" y="1001.6" font-size="7.6">1</text>
<line x1="139.95" y1="987.6" x2="139.95" y2="994.6" stroke="#000" stroke-width="2.2"/>
<line x1="156.18" y1="987.6" x2="156.18" y2="991.6" stroke="#222" stroke-width="1"/>
<line x1="165.67" y1="987.6" x2="165.67" y2="991.6" stroke="#222" stroke-width="1"/>
<line x1="172.4" y1="987.6" x2="172.4" y2="991.6" stroke="#222" stroke-width="1"/>
<line x1="177.62" y1="987.6" x2="177.62" y2="991.6" stroke="#222" stroke-width="1"/>
<line x1="181.89" y1="987.6" x2="181.89" y2="991.6" stroke="#222" stroke-width="1"/>
<line x1="185.5" y1="987.6" x2="185.5" y2="991.6" stroke="#222" stroke-width="1"/>
<line x1="188.63" y1="987.6" x2="188.63" y2="991.6" stroke="#222" stroke-width="1"/>
<line x1="191.38" y1="987.6" x2="191.38" y2="991.6" stroke="#222" stroke-width="1"/>
<text x="131.35" y="1006.6" font-size="12" textLength="11.7" lengthAdjust="spacingAndGlyphs">10</text>
<text x="143.85" y="1001.6" font-size="7.6">2</text>
<line x1="193.85" y1="987.6" x2="193.85" y2="994.6" stroke="#000" stroke-width="2.2"/>
<line x1="210.08" y1="987.6" x2="210.08" y2="991.6" stroke="#222" stroke-width="1"/>
<line x1="219.57" y1="987.6" x2="219.57" y2="991.6" stroke="#222" stroke-width="1"/>
<line x1="226.3" y1="987.6" x2="226.3" y2="991.6" stroke="#222" stroke-width="1"/>
<line x1="231.52" y1="987.6" x2="231.52" y2="991.6" stroke="#222" stroke-width="1"/>
<line x1="235.79" y1="987.6" x2="235.79" y2="991.6" stroke="#222" stroke-width="1"/>
<line x1="239.4" y1="987.6" x2="239.4" y2="991.6" stroke="#222" stroke-width="1"/>
<line x1="242.53" y1="987.6" x2="242.53" y2="991.6" stroke="#222" stroke-width="1"/>
<line x1="245.28" y1="987.6" x2="245.28" y2="991.6" stroke="#222" stroke-width="1"/>
<text x="185.25" y="1006.6" font-size="12" textLength="11.7" lengthAdjust="spacingAndGlyphs">10</text>
<text x="197.75" y="1001.6" font-size="7.6">3</text>
<line x1="247.75" y1="987.6" x2="247.75" y2="994.6" stroke="#000" stroke-width="2.2"/>
<line x1="263.98" y1="987.6" x2="263.98" y2="991.6" stroke="#222" stroke-width="1"/>
<line x1="273.47" y1="987.6" x2="273.47" y2="991.6" stroke="#222" stroke-width="1"/>
<line x1="280.2" y1="987.6" x2="280.2" y2="991.6" stroke="#222" stroke-width="1"/>
<line x1="285.42" y1="987.6" x2="285.42" y2="991.6" stroke="#222" stroke-width="1"/>
<line x1="289.69" y1="987.6" x2="289.69" y2="991.6" stroke="#222" stroke-width="1"/>
<line x1="293.3" y1="987.6" x2="293.3" y2="991.6" stroke="#222" stroke-width="1"/>
<line x1="296.43" y1="987.6" x2="296.43" y2="991.6" stroke="#222" stroke-width="1"/>
<line x1="299.18" y1="987.6" x2="299.18" y2="991.6" stroke="#222" stroke-width="1"/>
<text x="239.15" y="1006.6" font-size="12" textLength="11.7" lengthAdjust="spacingAndGlyphs">10</text>
<text x="251.65" y="1001.6" font-size="7.6">4</text>
<line x1="301.65" y1="987.6" x2="301.65" y2="994.6" stroke="#000" stroke-width="2.2"/>
<line x1="317.88" y1="987.6" x2="317.88" y2="991.6" stroke="#222" stroke-width="1"/>
<text x="293.05" y="1006.6" font-size="12" textLength="11.7" lengthAdjust="spacingAndGlyphs">10</text>
<text x="305.55" y="1001.6" font-size="7.6">5</text>
<text x="196.4" y="1022.2" font-size="11.5" text-anchor="middle" textLength="102.5" lengthAdjust="spacingAndGlyphs">Aggrecan PE-Cy7 A</text>
<line x1="58.3" y1="757" x2="138.3" y2="757" stroke="#000" stroke-width="2"/>
<line x1="138.3" y1="752" x2="138.3" y2="762" stroke="#000" stroke-width="2"/>
<rect x="80.7" y="749" width="33.3" height="14.5" fill="#fff" fill-opacity="0.8"/>
<text x="96.3" y="741.2" font-size="11.5" text-anchor="middle" fill="#111">Neg</text>
<text x="96.3" y="756.4" font-size="11.5" text-anchor="middle" fill="#111">4.26</text>
<line x1="140.3" y1="800" x2="210.5" y2="800" stroke="#000" stroke-width="2"/>
<line x1="140.3" y1="795" x2="140.3" y2="805" stroke="#000" stroke-width="2"/>
<line x1="210.5" y1="795" x2="210.5" y2="805" stroke="#000" stroke-width="2"/>
<text x="173.5" y="770.2" font-size="11.6" text-anchor="middle" fill="#111">Low</text>
<text x="173.5" y="785.4" font-size="11.6" text-anchor="middle" fill="#111">47.9</text>
<line x1="212.3" y1="840" x2="304" y2="840" stroke="#000" stroke-width="2"/>
<line x1="212.3" y1="835" x2="212.3" y2="845" stroke="#000" stroke-width="2"/>
<line x1="304" y1="835" x2="304" y2="845" stroke="#000" stroke-width="2"/>
<text x="256.2" y="810.2" font-size="11.6" text-anchor="middle" fill="#111">High</text>
<text x="256.2" y="825.4" font-size="11.6" text-anchor="middle" fill="#111">43.6</text>
<text x="177.75" y="709.3" font-size="14.8" font-weight="bold" text-anchor="middle" textLength="62.8" lengthAdjust="spacingAndGlyphs">Patient 1</text>
<text transform="translate(29,842.6) rotate(-90)" font-size="13.4" font-weight="bold" text-anchor="middle" textLength="38.6" lengthAdjust="spacingAndGlyphs">Count</text>
<text transform="translate(12.3,841.6) rotate(-90)" font-size="16.3" font-weight="bold" text-anchor="middle" textLength="22.6" lengthAdjust="spacingAndGlyphs">OA</text>
<path d="M407.8 987C407.8 987 410.62 986.35 412 986.6C413.38 986.86 414 988.34 417 988.7C420 989.06 429 989.01 432 989C435 988.99 435.12 989.01 437 988.6C438.88 988.19 442.25 987.16 444.5 986.25C446.75 985.34 449.38 983.36 452 982.5C454.62 981.64 459.38 980.42 462 980.5C464.62 980.58 467.62 983.26 469.5 983C471.38 982.74 473.19 980.51 474.5 978.75C475.81 976.99 477.12 972.86 478.25 971.25C479.38 969.64 480.69 967.89 482 968C483.31 968.11 485.5 971.33 487 972C488.5 972.67 490.31 973.55 492 972.5C493.69 971.45 496.56 968.75 498.25 965C499.94 961.25 501.94 953.12 503.25 947.5C504.56 941.88 505.88 932.56 507 927.5C508.12 922.44 509.62 916.38 510.75 913.75C511.88 911.12 513.41 911.69 514.5 910C515.59 908.31 516.73 905.88 518 902.5C519.27 899.12 521.69 890.42 523 887.5C524.31 884.58 525.55 882.62 526.75 883C527.95 883.38 529.69 887.83 531 890C532.31 892.17 534.45 896.19 535.5 897.5C536.55 898.81 537.06 897.06 538 898.75C538.94 900.44 540.62 905.75 541.75 908.75C542.88 911.75 544.38 916.5 545.5 918.75C546.62 921 547.94 923.75 549.25 923.75C550.56 923.75 552.94 920.06 554.25 918.75C555.56 917.44 556.88 917.44 558 915C559.12 912.56 560.81 907 561.75 902.5C562.69 898 563.61 891.67 564.25 885C564.89 878.33 565.36 868.5 566 858C566.64 847.5 567.75 824.45 568.5 815C569.25 805.55 570.25 799.12 571 795C571.75 790.88 572.75 787.5 573.5 787.5C574.25 787.5 575.14 790.12 576 795C576.86 799.88 578.27 814.45 579.25 820C580.23 825.55 581.56 826.15 582.5 832C583.44 837.85 584.67 851.05 585.5 859C586.33 866.95 587.17 876.23 588 885C588.83 893.77 589.88 909.62 591 917.5C592.12 925.38 594.08 931.12 595.5 937.5C596.92 943.88 599 954 600.5 960C602 966 604 973.94 605.5 977.5C607 981.06 609 983 610.5 983.75C612 984.5 613.92 982.88 615.5 982.5C617.08 982.12 619.5 981.06 621 981.25C622.5 981.44 624.08 982.74 625.5 983.75C626.92 984.76 629.19 987.26 630.5 988C631.81 988.74 634.25 988.7 634.25 988.7L634.25 988.6L407.8 988.6Z" fill="#999"/>
<path d="M407.8 987C407.8 987 410.62 986.35 412 986.6C413.38 986.86 414 988.34 417 988.7C420 989.06 429 989.01 432 989C435 988.99 435.12 989.01 437 988.6C438.88 988.19 442.25 987.16 444.5 986.25C446.75 985.34 449.38 983.36 452 982.5C454.62 981.64 459.38 980.42 462 980.5C464.62 980.58 467.62 983.26 469.5 983C471.38 982.74 473.19 980.51 474.5 978.75C475.81 976.99 477.12 972.86 478.25 971.25C479.38 969.64 480.69 967.89 482 968C483.31 968.11 485.5 971.33 487 972C488.5 972.67 490.31 973.55 492 972.5C493.69 971.45 496.56 968.75 498.25 965C499.94 961.25 501.94 953.12 503.25 947.5C504.56 941.88 505.88 932.56 507 927.5C508.12 922.44 509.62 916.38 510.75 913.75C511.88 911.12 513.41 911.69 514.5 910C515.59 908.31 516.73 905.88 518 902.5C519.27 899.12 521.69 890.42 523 887.5C524.31 884.58 525.55 882.62 526.75 883C527.95 883.38 529.69 887.83 531 890C532.31 892.17 534.45 896.19 535.5 897.5C536.55 898.81 537.06 897.06 538 898.75C538.94 900.44 540.62 905.75 541.75 908.75C542.88 911.75 544.38 916.5 545.5 918.75C546.62 921 547.94 923.75 549.25 923.75C550.56 923.75 552.94 920.06 554.25 918.75C555.56 917.44 556.88 917.44 558 915C559.12 912.56 560.81 907 561.75 902.5C562.69 898 563.61 891.67 564.25 885C564.89 878.33 565.36 868.5 566 858C566.64 847.5 567.75 824.45 568.5 815C569.25 805.55 570.25 799.12 571 795C571.75 790.88 572.75 787.5 573.5 787.5C574.25 787.5 575.14 790.12 576 795C576.86 799.88 578.27 814.45 579.25 820C580.23 825.55 581.56 826.15 582.5 832C583.44 837.85 584.67 851.05 585.5 859C586.33 866.95 587.17 876.23 588 885C588.83 893.77 589.88 909.62 591 917.5C592.12 925.38 594.08 931.12 595.5 937.5C596.92 943.88 599 954 600.5 960C602 966 604 973.94 605.5 977.5C607 981.06 609 983 610.5 983.75C612 984.5 613.92 982.88 615.5 982.5C617.08 982.12 619.5 981.06 621 981.25C622.5 981.44 624.08 982.74 625.5 983.75C626.92 984.76 629.19 987.26 630.5 988C631.81 988.74 634.25 988.7 634.25 988.7" fill="none" stroke="#161616" stroke-width="1.6" stroke-linejoin="round"/>
<rect x="407.5" y="722.8" width="267.3" height="265.8" fill="none" stroke="#222" stroke-width="1.1"/>
<line x1="399.5" y1="988.2" x2="407.5" y2="988.2" stroke="#000" stroke-width="2"/>
<text transform="translate(398.2,988.2) rotate(-90)" font-size="12.7" text-anchor="middle" textLength="6.3" lengthAdjust="spacingAndGlyphs">0</text>
<line x1="403.5" y1="974.95" x2="407.5" y2="974.95" stroke="#222" stroke-width="1"/>
<line x1="403.5" y1="961.7" x2="407.5" y2="961.7" stroke="#222" stroke-width="1"/>
<line x1="403.5" y1="948.45" x2="407.5" y2="948.45" stroke="#222" stroke-width="1"/>
<line x1="399.5" y1="935.2" x2="407.5" y2="935.2" stroke="#000" stroke-width="2"/>
<text transform="translate(398.2,935.2) rotate(-90)" font-size="12.7" text-anchor="middle" textLength="12.6" lengthAdjust="spacingAndGlyphs">50</text>
<line x1="403.5" y1="921.95" x2="407.5" y2="921.95" stroke="#222" stroke-width="1"/>
<line x1="403.5" y1="908.7" x2="407.5" y2="908.7" stroke="#222" stroke-width="1"/>
<line x1="403.5" y1="895.45" x2="407.5" y2="895.45" stroke="#222" stroke-width="1"/>
<line x1="399.5" y1="882.2" x2="407.5" y2="882.2" stroke="#000" stroke-width="2"/>
<text transform="translate(398.2,882.2) rotate(-90)" font-size="12.7" text-anchor="middle" textLength="18.9" lengthAdjust="spacingAndGlyphs">100</text>
<line x1="403.5" y1="868.95" x2="407.5" y2="868.95" stroke="#222" stroke-width="1"/>
<line x1="403.5" y1="855.7" x2="407.5" y2="855.7" stroke="#222" stroke-width="1"/>
<line x1="403.5" y1="842.45" x2="407.5" y2="842.45" stroke="#222" stroke-width="1"/>
<line x1="399.5" y1="829.2" x2="407.5" y2="829.2" stroke="#000" stroke-width="2"/>
<text transform="translate(398.2,829.2) rotate(-90)" font-size="12.7" text-anchor="middle" textLength="18.9" lengthAdjust="spacingAndGlyphs">150</text>
<line x1="403.5" y1="815.95" x2="407.5" y2="815.95" stroke="#222" stroke-width="1"/>
<line x1="403.5" y1="802.7" x2="407.5" y2="802.7" stroke="#222" stroke-width="1"/>
<line x1="403.5" y1="789.45" x2="407.5" y2="789.45" stroke="#222" stroke-width="1"/>
<line x1="399.5" y1="776.2" x2="407.5" y2="776.2" stroke="#000" stroke-width="2"/>
<text transform="translate(398.2,776.2) rotate(-90)" font-size="12.7" text-anchor="middle" textLength="18.9" lengthAdjust="spacingAndGlyphs">200</text>
<line x1="403.5" y1="762.95" x2="407.5" y2="762.95" stroke="#222" stroke-width="1"/>
<line x1="403.5" y1="749.7" x2="407.5" y2="749.7" stroke="#222" stroke-width="1"/>
<line x1="403.5" y1="736.45" x2="407.5" y2="736.45" stroke="#222" stroke-width="1"/>
<line x1="399.5" y1="723.2" x2="407.5" y2="723.2" stroke="#000" stroke-width="2"/>
<text transform="translate(398.2,723.2) rotate(-90)" font-size="12.7" text-anchor="middle" textLength="18.9" lengthAdjust="spacingAndGlyphs">250</text>
<line x1="408.16" y1="988.6" x2="408.16" y2="992.6" stroke="#222" stroke-width="1"/>
<line x1="414.88" y1="988.6" x2="414.88" y2="992.6" stroke="#222" stroke-width="1"/>
<line x1="420.09" y1="988.6" x2="420.09" y2="992.6" stroke="#222" stroke-width="1"/>
<line x1="424.35" y1="988.6" x2="424.35" y2="992.6" stroke="#222" stroke-width="1"/>
<line x1="427.95" y1="988.6" x2="427.95" y2="992.6" stroke="#222" stroke-width="1"/>
<line x1="431.07" y1="988.6" x2="431.07" y2="992.6" stroke="#222" stroke-width="1"/>
<line x1="433.82" y1="988.6" x2="433.82" y2="992.6" stroke="#222" stroke-width="1"/>
<line x1="436.28" y1="988.6" x2="436.28" y2="995.6" stroke="#000" stroke-width="2.2"/>
<line x1="452.47" y1="988.6" x2="452.47" y2="992.6" stroke="#222" stroke-width="1"/>
<line x1="461.94" y1="988.6" x2="461.94" y2="992.6" stroke="#222" stroke-width="1"/>
<line x1="468.66" y1="988.6" x2="468.66" y2="992.6" stroke="#222" stroke-width="1"/>
<line x1="473.87" y1="988.6" x2="473.87" y2="992.6" stroke="#222" stroke-width="1"/>
<line x1="478.13" y1="988.6" x2="478.13" y2="992.6" stroke="#222" stroke-width="1"/>
<line x1="481.73" y1="988.6" x2="481.73" y2="992.6" stroke="#222" stroke-width="1"/>
<line x1="484.85" y1="988.6" x2="484.85" y2="992.6" stroke="#222" stroke-width="1"/>
<line x1="487.6" y1="988.6" x2="487.6" y2="992.6" stroke="#222" stroke-width="1"/>
<text x="427.68" y="1007.6" font-size="12" textLength="11.7" lengthAdjust="spacingAndGlyphs">10</text>
<text x="440.18" y="1002.6" font-size="7.6">1</text>
<line x1="490.06" y1="988.6" x2="490.06" y2="995.6" stroke="#000" stroke-width="2.2"/>
<line x1="506.25" y1="988.6" x2="506.25" y2="992.6" stroke="#222" stroke-width="1"/>
<line x1="515.72" y1="988.6" x2="515.72" y2="992.6" stroke="#222" stroke-width="1"/>
<line x1="522.44" y1="988.6" x2="522.44" y2="992.6" stroke="#222" stroke-width="1"/>
<line x1="527.65" y1="988.6" x2="527.65" y2="992.6" stroke="#222" stroke-width="1"/>
<line x1="531.91" y1="988.6" x2="531.91" y2="992.6" stroke="#222" stroke-width="1"/>
<line x1="535.51" y1="988.6" x2="535.51" y2="992.6" stroke="#222" stroke-width="1"/>
<line x1="538.63" y1="988.6" x2="538.63" y2="992.6" stroke="#222" stroke-width="1"/>
<line x1="541.38" y1="988.6" x2="541.38" y2="992.6" stroke="#222" stroke-width="1"/>
<text x="481.46" y="1007.6" font-size="12" textLength="11.7" lengthAdjust="spacingAndGlyphs">10</text>
<text x="493.96" y="1002.6" font-size="7.6">2</text>
<line x1="543.84" y1="988.6" x2="543.84" y2="995.6" stroke="#000" stroke-width="2.2"/>
<line x1="560.03" y1="988.6" x2="560.03" y2="992.6" stroke="#222" stroke-width="1"/>
<line x1="569.5" y1="988.6" x2="569.5" y2="992.6" stroke="#222" stroke-width="1"/>
<line x1="576.22" y1="988.6" x2="576.22" y2="992.6" stroke="#222" stroke-width="1"/>
<line x1="581.43" y1="988.6" x2="581.43" y2="992.6" stroke="#222" stroke-width="1"/>
<line x1="585.69" y1="988.6" x2="585.69" y2="992.6" stroke="#222" stroke-width="1"/>
<line x1="589.29" y1="988.6" x2="589.29" y2="992.6" stroke="#222" stroke-width="1"/>
<line x1="592.41" y1="988.6" x2="592.41" y2="992.6" stroke="#222" stroke-width="1"/>
<line x1="595.16" y1="988.6" x2="595.16" y2="992.6" stroke="#222" stroke-width="1"/>
<text x="535.24" y="1007.6" font-size="12" textLength="11.7" lengthAdjust="spacingAndGlyphs">10</text>
<text x="547.74" y="1002.6" font-size="7.6">3</text>
<line x1="597.62" y1="988.6" x2="597.62" y2="995.6" stroke="#000" stroke-width="2.2"/>
<line x1="613.81" y1="988.6" x2="613.81" y2="992.6" stroke="#222" stroke-width="1"/>
<line x1="623.28" y1="988.6" x2="623.28" y2="992.6" stroke="#222" stroke-width="1"/>
<line x1="630" y1="988.6" x2="630" y2="992.6" stroke="#222" stroke-width="1"/>
<line x1="635.21" y1="988.6" x2="635.21" y2="992.6" stroke="#222" stroke-width="1"/>
<line x1="639.47" y1="988.6" x2="639.47" y2="992.6" stroke="#222" stroke-width="1"/>
<line x1="643.07" y1="988.6" x2="643.07" y2="992.6" stroke="#222" stroke-width="1"/>
<line x1="646.19" y1="988.6" x2="646.19" y2="992.6" stroke="#222" stroke-width="1"/>
<line x1="648.94" y1="988.6" x2="648.94" y2="992.6" stroke="#222" stroke-width="1"/>
<text x="589.02" y="1007.6" font-size="12" textLength="11.7" lengthAdjust="spacingAndGlyphs">10</text>
<text x="601.52" y="1002.6" font-size="7.6">4</text>
<line x1="651.4" y1="988.6" x2="651.4" y2="995.6" stroke="#000" stroke-width="2.2"/>
<line x1="667.59" y1="988.6" x2="667.59" y2="992.6" stroke="#222" stroke-width="1"/>
<text x="642.8" y="1007.6" font-size="12" textLength="11.7" lengthAdjust="spacingAndGlyphs">10</text>
<text x="655.3" y="1002.6" font-size="7.6">5</text>
<text x="545.15" y="1023.2" font-size="11.5" text-anchor="middle" textLength="102.5" lengthAdjust="spacingAndGlyphs">Aggrecan PE-Cy7 A</text>
<line x1="407.5" y1="758.3" x2="487.5" y2="758.3" stroke="#000" stroke-width="2"/>
<line x1="487.5" y1="753.3" x2="487.5" y2="763.3" stroke="#000" stroke-width="2"/>
<rect x="429.5" y="750.3" width="34" height="14.5" fill="#fff" fill-opacity="0.8"/>
<text x="445.8" y="742.5" font-size="11.5" text-anchor="middle" fill="#111">Neg</text>
<text x="445.8" y="757.7" font-size="11.5" text-anchor="middle" fill="#111">5.61</text>
<line x1="490" y1="801" x2="559.8" y2="801" stroke="#000" stroke-width="2"/>
<line x1="490" y1="796" x2="490" y2="806" stroke="#000" stroke-width="2"/>
<line x1="559.8" y1="796" x2="559.8" y2="806" stroke="#000" stroke-width="2"/>
<text x="523.5" y="771.2" font-size="11.6" text-anchor="middle" fill="#111">Low</text>
<text x="523.5" y="786.4" font-size="11.6" text-anchor="middle" fill="#111">45.9</text>
<line x1="561.8" y1="840" x2="652.5" y2="840" stroke="#000" stroke-width="2"/>
<line x1="561.8" y1="835" x2="561.8" y2="845" stroke="#000" stroke-width="2"/>
<line x1="652.5" y1="835" x2="652.5" y2="845" stroke="#000" stroke-width="2"/>
<text x="605" y="810.2" font-size="11.6" text-anchor="middle" fill="#111">High</text>
<text x="605" y="825.4" font-size="11.6" text-anchor="middle" fill="#111">46.1</text>
<text x="540.2" y="708.9" font-size="14.8" font-weight="bold" text-anchor="middle" textLength="63.9" lengthAdjust="spacingAndGlyphs">Patient 2</text>
<text transform="translate(379.2,844.1) rotate(-90)" font-size="13.6" font-weight="bold" text-anchor="middle" textLength="38.6" lengthAdjust="spacingAndGlyphs">Count</text>
<text x="11.7" y="1085.9" font-size="27" font-weight="bold">G</text>
<line x1="104.6" y1="1064" x2="104.6" y2="1295.4" stroke="#000" stroke-width="4.4"/>
<line x1="102.4" y1="1293" x2="482" y2="1293" stroke="#000" stroke-width="4.6"/>
<line x1="94.8" y1="1293.25" x2="104.6" y2="1293.25" stroke="#000" stroke-width="3.2"/>
<text x="92" y="1299.45" font-size="17" text-anchor="end" textLength="9" lengthAdjust="spacingAndGlyphs">0</text>
<line x1="94.8" y1="1247.7" x2="104.6" y2="1247.7" stroke="#000" stroke-width="3.2"/>
<text x="92" y="1253.9" font-size="17" text-anchor="end" textLength="18" lengthAdjust="spacingAndGlyphs">20</text>
<line x1="94.8" y1="1202.15" x2="104.6" y2="1202.15" stroke="#000" stroke-width="3.2"/>
<text x="92" y="1208.35" font-size="17" text-anchor="end" textLength="18" lengthAdjust="spacingAndGlyphs">40</text>
<line x1="94.8" y1="1156.6" x2="104.6" y2="1156.6" stroke="#000" stroke-width="3.2"/>
<text x="92" y="1162.8" font-size="17" text-anchor="end" textLength="18" lengthAdjust="spacingAndGlyphs">60</text>
<line x1="94.8" y1="1111.05" x2="104.6" y2="1111.05" stroke="#000" stroke-width="3.2"/>
<text x="92" y="1117.25" font-size="17" text-anchor="end" textLength="18" lengthAdjust="spacingAndGlyphs">80</text>
<line x1="94.8" y1="1065.5" x2="104.6" y2="1065.5" stroke="#000" stroke-width="3.2"/>
<text x="92" y="1071.7" font-size="17" text-anchor="end" textLength="27" lengthAdjust="spacingAndGlyphs">100</text>
<line x1="162" y1="1295" x2="162" y2="1302.6" stroke="#000" stroke-width="4"/>
<line x1="292.6" y1="1295" x2="292.6" y2="1302.6" stroke="#000" stroke-width="4"/>
<line x1="423" y1="1295" x2="423" y2="1302.6" stroke="#000" stroke-width="4"/>
<text transform="translate(58.6,1175.9) rotate(-90)" font-size="19.6" text-anchor="middle" textLength="230.5" lengthAdjust="spacingAndGlyphs">Percentage of Postive Cells</text>
<text transform="translate(168,1318.3) rotate(-45)" font-size="17.2" text-anchor="end" textLength="67" lengthAdjust="spacingAndGlyphs">Negative</text>
<text transform="translate(298.5,1318) rotate(-45)" font-size="17.2" text-anchor="end" textLength="130.5" lengthAdjust="spacingAndGlyphs">Cytoplasmic Low</text>
<text transform="translate(430.5,1316.8) rotate(-45)" font-size="17.2" text-anchor="end" textLength="136" lengthAdjust="spacingAndGlyphs">Ctyoplasmic High</text>
<line x1="135" y1="1252.7" x2="189.5" y2="1252.7" stroke="#000" stroke-width="4.2"/>
<text transform="translate(144.3,1245) scale(1,1.2)" font-size="23">n</text>
<text transform="translate(158.2,1245) scale(1,1.2)" font-size="23">.</text>
<text transform="translate(165.0,1245) scale(1,1.2)" font-size="23">s</text>
<text transform="translate(174.1,1245) scale(1,1.2)" font-size="23">.</text>
<line x1="267.2" y1="1061.6" x2="321.8" y2="1061.6" stroke="#000" stroke-width="4.2"/>
<path d="M296 1049.05L302.5 1049.95L302.5 1047.25L296 1048.15ZM295.61 1048.82L298.13 1054.99L300.47 1053.64L296.39 1048.38ZM295.61 1048.38L291.53 1053.64L293.87 1054.99L296.39 1048.82ZM296 1048.15L289.5 1047.25L289.5 1049.95L296 1049.05ZM296.39 1048.38L293.87 1042.21L291.53 1043.56L295.61 1048.82ZM296.39 1048.82L300.47 1043.56L298.13 1042.21L295.61 1048.38Z" fill="#000" stroke="#000" stroke-width="0.5" stroke-linejoin="round"/>
<line x1="396" y1="1149.9" x2="450" y2="1149.9" stroke="#000" stroke-width="4.2"/>
<path d="M422.2 1136.35L428.7 1137.25L428.7 1134.55L422.2 1135.45ZM421.81 1136.12L424.33 1142.29L426.67 1140.94L422.59 1135.68ZM421.81 1135.68L417.73 1140.94L420.07 1142.29L422.59 1136.12ZM422.2 1135.45L415.7 1134.55L415.7 1137.25L422.2 1136.35ZM422.59 1135.68L420.07 1129.51L417.73 1130.86L421.81 1136.12ZM422.59 1136.12L426.67 1130.86L424.33 1129.51L421.81 1135.68Z" fill="#000" stroke="#000" stroke-width="0.5" stroke-linejoin="round"/>
<rect x="121" y="1283.7" width="33" height="9.3" fill="#000"/>
<circle cx="129.5" cy="1280.4" r="4.7"/>
<circle cx="141.3" cy="1275.5" r="4.7"/>
<circle cx="138.5" cy="1284.2" r="4.7"/>
<circle cx="144" cy="1286.4" r="4.7"/>
<rect x="170.2" y="1281.7" width="32.6" height="11.3" fill="#000"/>
<rect x="175" y="1275.8" width="12" height="8" fill="#000"/>
<rect x="187" y="1272.5" width="9" height="10" fill="#000"/>
<rect x="196" y="1279" width="3.5" height="4" fill="#000"/>
<rect x="179.4" y="1288.8" width="5.9" height="1.6" fill="#fff"/>
<circle cx="256" cy="1079.7" r="4.7"/>
<circle cx="279.6" cy="1082.7" r="4.7"/>
<circle cx="279.6" cy="1099.6" r="4.7"/>
<circle cx="256" cy="1106.5" r="4.7"/>
<circle cx="279.6" cy="1124.9" r="4.7"/>
<circle cx="256" cy="1128.8" r="4.7"/>
<circle cx="268" cy="1141.7" r="4.7"/>
<circle cx="268" cy="1154.1" r="4.7"/>
<line x1="251.8" y1="1114.4" x2="284.6" y2="1114.4" stroke="#000" stroke-width="2.6"/>
<line x1="268" y1="1087.6" x2="268" y2="1141.7" stroke="#000" stroke-width="2"/>
<line x1="260.3" y1="1087.6" x2="275.9" y2="1087.6" stroke="#000" stroke-width="2"/>
<line x1="260.3" y1="1141.7" x2="275.9" y2="1141.7" stroke="#000" stroke-width="2"/>
<rect x="301" y="1174.9" width="8.7" height="18.4" fill="#000"/>
<rect x="316.3" y="1170.3" width="9.2" height="8.5" fill="#000"/>
<rect x="316" y="1179" width="9.2" height="11" fill="#000"/>
<rect x="324.5" y="1180" width="8.5" height="8.5" fill="#000"/>
<rect x="309.7" y="1177" width="6.6" height="11" fill="#000"/>
<rect x="308.8" y="1197.7" width="8.3" height="8.7" fill="#000"/>
<rect x="316" y="1192.8" width="9.5" height="8.8" fill="#000"/>
<rect x="318" y="1180.2" width="5.7" height="1.2" fill="#fff"/>
<rect x="302" y="1183.3" width="6.4" height="0.9" fill="#777"/>
<rect x="318" y="1191.3" width="7" height="1.3" fill="#fff"/>
<rect x="443.6" y="1163.2" width="8.8" height="8.8" fill="#000"/>
<rect x="455.2" y="1167" width="8.8" height="8.8" fill="#000"/>
<rect x="431.8" y="1170.4" width="8.8" height="8.8" fill="#000"/>
<rect x="443.6" y="1179.6" width="8.8" height="8.8" fill="#000"/>
<rect x="455.2" y="1179.1" width="8.8" height="8.8" fill="#000"/>
<rect x="437.6" y="1193" width="8.8" height="8.8" fill="#000"/>
<rect x="449.3" y="1195.2" width="8.8" height="8.8" fill="#000"/>
<rect x="443.6" y="1206.6" width="8.8" height="8.8" fill="#000"/>
<line x1="431.8" y1="1186.4" x2="458" y2="1186.4" stroke="#000" stroke-width="2.6"/>
<line x1="448" y1="1171" x2="448" y2="1201" stroke="#000" stroke-width="1.6"/>
<line x1="442.5" y1="1171.2" x2="454.5" y2="1171.2" stroke="#000" stroke-width="1.6"/>
<line x1="442.5" y1="1201" x2="454.5" y2="1201" stroke="#000" stroke-width="1.6"/>
<line x1="446.3" y1="1192" x2="446.3" y2="1200" stroke="#fff" stroke-width="0.7"/>
<circle cx="386.9" cy="1272" r="4.7"/>
<circle cx="404.7" cy="1267.5" r="4.7"/>
<circle cx="393.4" cy="1278.6" r="4.7"/>
<circle cx="399.8" cy="1274.5" r="4.7"/>
<circle cx="410.3" cy="1278.3" r="4.7"/>
<circle cx="392.8" cy="1287.4" r="4.7"/>
<circle cx="404.7" cy="1286.2" r="4.7"/>
<line x1="382.3" y1="1278" x2="412" y2="1278" stroke="#000" stroke-width="2.4"/>
<line x1="399.3" y1="1271" x2="399.3" y2="1290" stroke="#000" stroke-width="1.4"/>
<circle cx="492.3" cy="1081.3" r="4.7"/>
<rect x="488" y="1108" width="8.6" height="8.6" fill="#000"/>
<text x="519.4" y="1087.3" font-size="18" textLength="125.6" lengthAdjust="spacingAndGlyphs">Normal sMSCs</text>
<text x="519.4" y="1117.5" font-size="18" textLength="91.2" lengthAdjust="spacingAndGlyphs">OA sMSCs</text>
<text x="11.2" y="1439.5" font-size="27" font-weight="bold">H</text>
<rect x="19.5" y="1458.8" width="306.8" height="109.6" fill="#d9d9d9"/>
<rect x="326.3" y="1458.8" width="357.2" height="27.7" fill="#000"/>
<rect x="19.5" y="1458.8" width="664.0" height="109.60000000000014" fill="none" stroke="#3a3a3a" stroke-width="1.4"/>
<line x1="326.3" y1="1458.8" x2="326.3" y2="1568.4" stroke="#3a3a3a" stroke-width="1.4"/>
<line x1="497.8" y1="1486.5" x2="497.8" y2="1568.4" stroke="#3a3a3a" stroke-width="1.4"/>
<line x1="326.3" y1="1486.5" x2="683.5" y2="1486.5" stroke="#3a3a3a" stroke-width="1.4"/>
<line x1="19.5" y1="1513.6" x2="683.5" y2="1513.6" stroke="#3a3a3a" stroke-width="1.4"/>
<line x1="19.5" y1="1541" x2="683.5" y2="1541" stroke="#3a3a3a" stroke-width="1.4"/>
<text x="31.3" y="1480" font-size="18.6" textLength="80" lengthAdjust="spacingAndGlyphs" fill="#111">Variables</text>
<text x="338" y="1479.8" font-size="18.6" textLength="325.7" lengthAdjust="spacingAndGlyphs" fill="#fff">Cytoplasmic Aggrecan Staining (High)</text>
<text x="338" y="1507" font-size="18.6" fill="#111" font-style="italic">R</text>
<text x="509" y="1507" font-size="18.6" fill="#111" font-style="italic">P</text>
<text x="31.3" y="1534.5" font-size="18.6" textLength="82.5" lengthAdjust="spacingAndGlyphs" fill="#111">K/L grade</text>
<text x="31.3" y="1562" font-size="18.6" textLength="184.7" lengthAdjust="spacingAndGlyphs" fill="#111">Krenn synovitis score</text>
<text x="338" y="1534.7" font-size="18.6" textLength="58.4" lengthAdjust="spacingAndGlyphs" fill="#111">0.9306</text>
<text x="338" y="1561.5" font-size="18.6" textLength="58.4" lengthAdjust="spacingAndGlyphs" fill="#111">0.6939</text>
<text x="509" y="1534.7" font-size="18.6" textLength="74.7" lengthAdjust="spacingAndGlyphs" fill="#111">&lt; 0.0001</text>
<text x="509" y="1561.5" font-size="18.6" textLength="59.2" lengthAdjust="spacingAndGlyphs" fill="#111">0.0029</text>
<text x="31.3" y="1589.5" font-size="18.6" textLength="247.7" lengthAdjust="spacingAndGlyphs" fill="#111">K/L&#160; - Kellgren and Lawrence</text>
</svg>
</body></html>
